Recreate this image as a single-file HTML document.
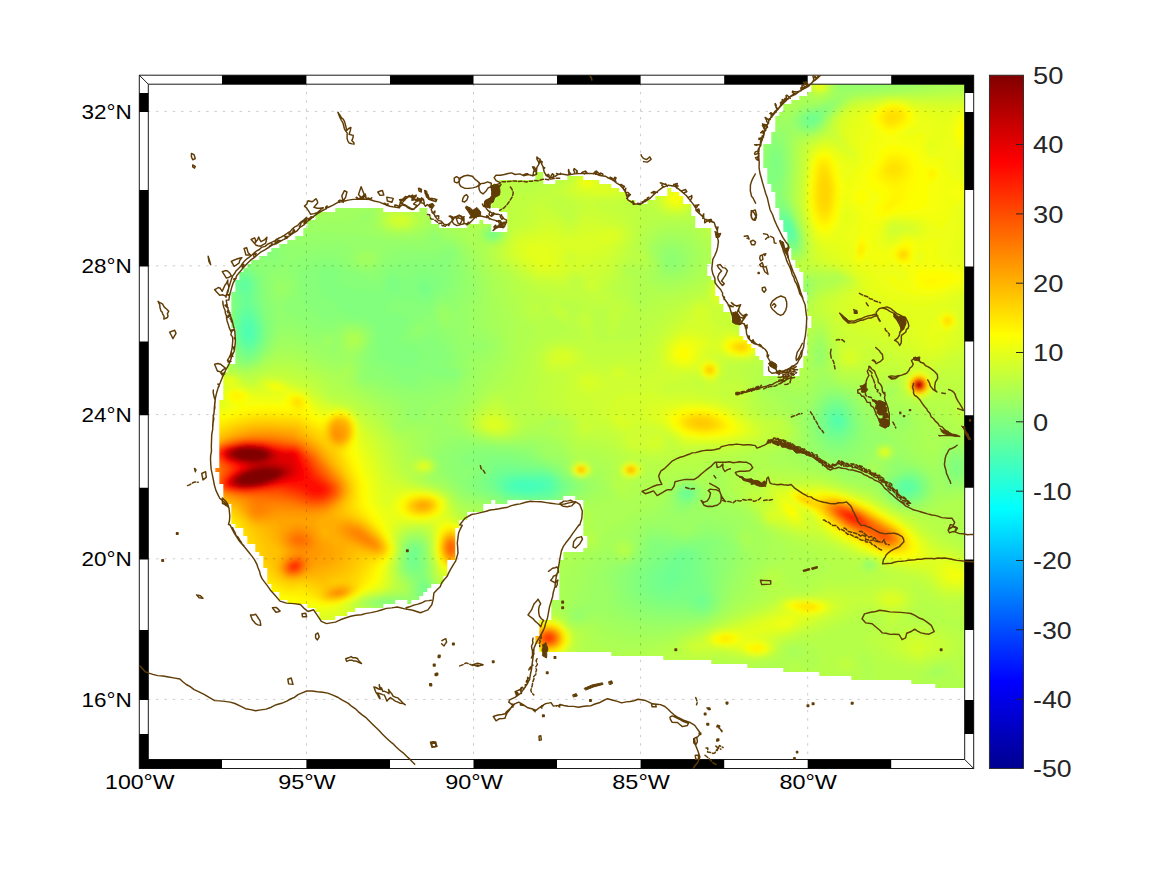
<!DOCTYPE html>
<html><head><meta charset="utf-8"><title>map</title>
<style>html,body{margin:0;padding:0;background:#fff}svg{display:block}text{font-family:"Liberation Sans",sans-serif}</style>
</head><body>
<svg width="1167" height="875" viewBox="0 0 1167 875">
<rect width="1167" height="875" fill="#fff"/>
<defs><clipPath id="msk"><path d="M811.3 80.0h160v4.05h-160zM811.3 84.0h160v4.05h-160zM811.3 88.0h160v4.05h-160zM807.3 92.0h164v4.05h-164zM799.3 96.0h172v4.05h-172zM791.3 100.0h180v4.05h-180zM783.3 104.0h188v4.05h-188zM783.3 108.0h188v4.05h-188zM779.3 112.0h192v4.05h-192zM775.3 116.0h196v4.05h-196zM775.3 120.0h196v4.05h-196zM775.3 124.0h196v4.05h-196zM775.3 128.0h196v4.05h-196zM771.3 132.0h200v4.05h-200zM771.3 136.0h200v4.05h-200zM771.3 140.0h200v4.05h-200zM763.3 144.0h208v4.05h-208zM763.3 148.0h208v4.05h-208zM763.3 152.0h208v4.05h-208zM763.3 156.0h208v4.05h-208zM763.3 160.0h208v4.05h-208zM763.3 164.0h208v4.05h-208zM767.3 168.0h204v4.05h-204zM535.3 172.0h8v4.05h-8zM767.3 172.0h204v4.05h-204zM535.3 176.0h8v4.05h-8zM567.3 176.0h16v4.05h-16zM767.3 176.0h204v4.05h-204zM499.3 180.0h44v4.05h-44zM555.3 180.0h44v4.05h-44zM767.3 180.0h204v4.05h-204zM491.3 184.0h120v4.05h-120zM771.3 184.0h200v4.05h-200zM491.3 188.0h128v4.05h-128zM667.3 188.0h4v4.05h-4zM771.3 188.0h200v4.05h-200zM491.3 192.0h136v4.05h-136zM667.3 192.0h12v4.05h-12zM775.3 192.0h196v4.05h-196zM491.3 196.0h136v4.05h-136zM655.3 196.0h28v4.05h-28zM775.3 196.0h196v4.05h-196zM491.3 200.0h144v4.05h-144zM647.3 200.0h36v4.05h-36zM775.3 200.0h196v4.05h-196zM491.3 204.0h200v4.05h-200zM775.3 204.0h196v4.05h-196zM335.3 208.0h48v4.05h-48zM419.3 208.0h8v4.05h-8zM499.3 208.0h192v4.05h-192zM779.3 208.0h192v4.05h-192zM315.3 212.0h112v4.05h-112zM507.3 212.0h184v4.05h-184zM779.3 212.0h192v4.05h-192zM315.3 216.0h116v4.05h-116zM507.3 216.0h188v4.05h-188zM779.3 216.0h192v4.05h-192zM307.3 220.0h124v4.05h-124zM479.3 220.0h4v4.05h-4zM507.3 220.0h188v4.05h-188zM783.3 220.0h188v4.05h-188zM307.3 224.0h132v4.05h-132zM467.3 224.0h24v4.05h-24zM507.3 224.0h188v4.05h-188zM783.3 224.0h188v4.05h-188zM303.3 228.0h188v4.05h-188zM507.3 228.0h204v4.05h-204zM783.3 228.0h188v4.05h-188zM303.3 232.0h408v4.05h-408zM787.3 232.0h184v4.05h-184zM295.3 236.0h416v4.05h-416zM787.3 236.0h184v4.05h-184zM287.3 240.0h424v4.05h-424zM787.3 240.0h184v4.05h-184zM279.3 244.0h432v4.05h-432zM787.3 244.0h184v4.05h-184zM271.3 248.0h440v4.05h-440zM791.3 248.0h180v4.05h-180zM267.3 252.0h444v4.05h-444zM791.3 252.0h180v4.05h-180zM259.3 256.0h452v4.05h-452zM791.3 256.0h180v4.05h-180zM251.3 260.0h460v4.05h-460zM795.3 260.0h176v4.05h-176zM247.3 264.0h460v4.05h-460zM795.3 264.0h176v4.05h-176zM243.3 268.0h464v4.05h-464zM799.3 268.0h172v4.05h-172zM239.3 272.0h468v4.05h-468zM803.3 272.0h168v4.05h-168zM239.3 276.0h472v4.05h-472zM803.3 276.0h168v4.05h-168zM235.3 280.0h480v4.05h-480zM803.3 280.0h168v4.05h-168zM235.3 284.0h480v4.05h-480zM803.3 284.0h168v4.05h-168zM235.3 288.0h480v4.05h-480zM803.3 288.0h168v4.05h-168zM231.3 292.0h484v4.05h-484zM807.3 292.0h164v4.05h-164zM231.3 296.0h488v4.05h-488zM807.3 296.0h164v4.05h-164zM231.3 300.0h488v4.05h-488zM807.3 300.0h164v4.05h-164zM231.3 304.0h492v4.05h-492zM807.3 304.0h164v4.05h-164zM231.3 308.0h492v4.05h-492zM807.3 308.0h164v4.05h-164zM231.3 312.0h500v4.05h-500zM807.3 312.0h164v4.05h-164zM231.3 316.0h500v4.05h-500zM811.3 316.0h160v4.05h-160zM231.3 320.0h508v4.05h-508zM811.3 320.0h160v4.05h-160zM231.3 324.0h508v4.05h-508zM811.3 324.0h160v4.05h-160zM235.3 328.0h504v4.05h-504zM807.3 328.0h164v4.05h-164zM235.3 332.0h504v4.05h-504zM807.3 332.0h164v4.05h-164zM235.3 336.0h508v4.05h-508zM807.3 336.0h164v4.05h-164zM235.3 340.0h512v4.05h-512zM807.3 340.0h164v4.05h-164zM235.3 344.0h516v4.05h-516zM807.3 344.0h164v4.05h-164zM235.3 348.0h520v4.05h-520zM807.3 348.0h164v4.05h-164zM235.3 352.0h520v4.05h-520zM807.3 352.0h164v4.05h-164zM235.3 356.0h524v4.05h-524zM803.3 356.0h168v4.05h-168zM235.3 360.0h528v4.05h-528zM803.3 360.0h168v4.05h-168zM227.3 364.0h536v4.05h-536zM803.3 364.0h168v4.05h-168zM227.3 368.0h536v4.05h-536zM799.3 368.0h172v4.05h-172zM223.3 372.0h540v4.05h-540zM799.3 372.0h172v4.05h-172zM223.3 376.0h748v4.05h-748zM223.3 380.0h748v4.05h-748zM223.3 384.0h748v4.05h-748zM223.3 388.0h748v4.05h-748zM223.3 392.0h748v4.05h-748zM223.3 396.0h748v4.05h-748zM219.3 400.0h752v4.05h-752zM219.3 404.0h752v4.05h-752zM219.3 408.0h752v4.05h-752zM219.3 412.0h752v4.05h-752zM219.3 416.0h752v4.05h-752zM219.3 420.0h752v4.05h-752zM219.3 424.0h752v4.05h-752zM219.3 428.0h752v4.05h-752zM219.3 432.0h752v4.05h-752zM219.3 436.0h752v4.05h-752zM219.3 440.0h752v4.05h-752zM219.3 444.0h752v4.05h-752zM219.3 448.0h752v4.05h-752zM219.3 452.0h752v4.05h-752zM219.3 456.0h752v4.05h-752zM219.3 460.0h752v4.05h-752zM219.3 464.0h752v4.05h-752zM215.3 468.0h756v4.05h-756zM219.3 472.0h752v4.05h-752zM219.3 476.0h752v4.05h-752zM219.3 480.0h752v4.05h-752zM223.3 484.0h748v4.05h-748zM223.3 488.0h748v4.05h-748zM223.3 492.0h748v4.05h-748zM223.3 496.0h340v4.05h-340zM575.3 496.0h396v4.05h-396zM223.3 500.0h268v4.05h-268zM495.3 500.0h12v4.05h-12zM583.3 500.0h388v4.05h-388zM231.3 504.0h252v4.05h-252zM583.3 504.0h388v4.05h-388zM231.3 508.0h252v4.05h-252zM583.3 508.0h388v4.05h-388zM231.3 512.0h236v4.05h-236zM583.3 512.0h388v4.05h-388zM231.3 516.0h236v4.05h-236zM583.3 516.0h388v4.05h-388zM231.3 520.0h228v4.05h-228zM583.3 520.0h388v4.05h-388zM235.3 524.0h224v4.05h-224zM583.3 524.0h388v4.05h-388zM243.3 528.0h212v4.05h-212zM583.3 528.0h388v4.05h-388zM243.3 532.0h212v4.05h-212zM583.3 532.0h388v4.05h-388zM247.3 536.0h208v4.05h-208zM587.3 536.0h384v4.05h-384zM247.3 540.0h208v4.05h-208zM587.3 540.0h384v4.05h-384zM255.3 544.0h200v4.05h-200zM587.3 544.0h384v4.05h-384zM255.3 548.0h200v4.05h-200zM583.3 548.0h388v4.05h-388zM259.3 552.0h196v4.05h-196zM563.3 552.0h408v4.05h-408zM263.3 556.0h192v4.05h-192zM563.3 556.0h408v4.05h-408zM263.3 560.0h184v4.05h-184zM559.3 560.0h412v4.05h-412zM263.3 564.0h184v4.05h-184zM559.3 564.0h412v4.05h-412zM267.3 568.0h180v4.05h-180zM559.3 568.0h412v4.05h-412zM267.3 572.0h180v4.05h-180zM559.3 572.0h412v4.05h-412zM267.3 576.0h176v4.05h-176zM559.3 576.0h412v4.05h-412zM267.3 580.0h176v4.05h-176zM559.3 580.0h412v4.05h-412zM271.3 584.0h160v4.05h-160zM559.3 584.0h412v4.05h-412zM271.3 588.0h156v4.05h-156zM559.3 588.0h412v4.05h-412zM279.3 592.0h144v4.05h-144zM559.3 592.0h412v4.05h-412zM279.3 596.0h140v4.05h-140zM559.3 596.0h412v4.05h-412zM287.3 600.0h108v4.05h-108zM407.3 600.0h4v4.05h-4zM551.3 600.0h420v4.05h-420zM307.3 604.0h76v4.05h-76zM551.3 604.0h420v4.05h-420zM315.3 608.0h40v4.05h-40zM551.3 608.0h420v4.05h-420zM319.3 612.0h28v4.05h-28zM551.3 612.0h420v4.05h-420zM319.3 616.0h16v4.05h-16zM551.3 616.0h420v4.05h-420zM539.3 620.0h432v4.05h-432zM539.3 624.0h432v4.05h-432zM539.3 628.0h432v4.05h-432zM539.3 632.0h432v4.05h-432zM535.3 636.0h436v4.05h-436zM535.3 640.0h436v4.05h-436zM539.3 644.0h432v4.05h-432zM539.3 648.0h432v4.05h-432zM611.3 652.0h360v4.05h-360zM663.3 656.0h308v4.05h-308zM711.3 660.0h260v4.05h-260zM747.3 664.0h224v4.05h-224zM783.3 668.0h188v4.05h-188zM819.3 672.0h152v4.05h-152zM851.3 676.0h120v4.05h-120zM911.3 680.0h60v4.05h-60zM935.3 684.0h36v4.05h-36z"/></clipPath><filter id="bl" filterUnits="userSpaceOnUse" x="100" y="40" width="920" height="700"><feGaussianBlur stdDeviation="2"/></filter></defs>
<g clip-path="url(#msk)"><g filter="url(#bl)" fill-rule="evenodd">
<rect x="100" y="40" width="920" height="700" fill="#45ffba"/>
<path fill="#4affb5" d="M985 705l-855 0 0-639 855 0zM535 489l3.3-3 -6.2-3 -11.3 0 -4.8 3 3.2 3 3.8 0.7z"/>
<path fill="#4fffb0" d="M985 705l-855 0 0-639 855 0zM541.5 489l2.9-3 -0.9-3 -11.5-1.9 -15 0.6 -3.7 1.3 -2 3 2.7 3.3 9 2.3 9-0.1z"/>
<path fill="#54ffab" d="M985 705l-855 0 0-639 855 0zM251.6 336l-0.2-9 -1.4-2.6 -3-0.9 -2.5 3.5 -0.5 6.2 3 5.2 3-0.2zM538.6 492l8.4-3.6 1.4-2.4 -1.4-4.8 -3-1.4 -24-0.5 -9 2.4 -3.1 4.3 1.8 3 7.3 3.2z"/>
<path fill="#59ffa6" d="M985 705l-855 0 0-639 855 0zM790.6 234l-0.4-6 -3.2-3.2 -0.2 6.2zM252.9 339l1.7-6 -0.7-6 -3.9-6.9 -3-0.9 -3 2.5 -1.7 5.3 0.5 9 4.2 5.7 3-0.1zM841.4 423l0.2-3 -2.3-3 -4.3-0.5 -1 3.5 1.7 3 2.3 1.3zM545.9 492l4.2-3 1.1-6 -1.8-3 -5.4-2.2 -27 0.2 -7.8 2 -3.5 3 1 6 7.3 3.8 15 1.5z"/>
<path fill="#5effa1" d="M985 705l-855 0 0-639 855 0zM790.9 237l2-3 -0.5-3 -2.4-6.1 -3-2.9 -2.6 3 0.3 3 2.3 6.2zM253.1 342l2.9-6 -0.2-9 -2.8-7.1 -6-4.5 -3 1.8 -3 6.8 0 12 2.9 6 3.1 2.2zM841.2 426l2.1-3 -1.6-6 -3.7-3 -3-0.1 -2.9 3.1 0.8 6 3.5 3zM535.3 495l15.2-3 3.4-6 -2.1-6 -7.8-3.8 -24 0 -12 2.2 -5.2 4.6 1.4 6 6.8 4.3 12 2zM910.5 489l-0.5-3.5 -5.5 0.5 0.4 3z"/>
<path fill="#63ff9c" d="M985 705l-855 0 0-639 855 0zM793.6 237l-0.2-6 -3.4-7.9 -3-3 -3 0.3 -0.4 7.6 3.4 8 3 3 3-0.3zM246.9 288l0.1-5.6 -4.5-0.4 -1.5 3 1.8 3zM252.6 345l4.9-9 -0.1-9 -4.4-10.8 -6-4.6 -3 1.5 -3 5.2 -1.9 8.7 0.5 9 4.4 8.7 3 1.8zM843.9 426l0.8-6 -3.7-6.2 -6-2.1 -3 1.7 -2.1 6.6 2.4 6 5.7 2.8zM549.3 495l3.9-3 2.9-6 -2.3-6 -6.8-4.7 -36 0.3 -9 3.9 -1.9 3.5 1.8 6 3 3 7.7 3 13.4 1.4zM910.9 492l2.9-3 -0.8-4.4 -3-2.2 -6.4 0.6 -2.5 3 0.3 3 3.1 3z"/>
<path fill="#69ff96" d="M985 705l-855 0 0-639 855 0zM793.8 240l0.9-6 -1.7-7 -6-8.7 -3-0.7 -1.9 4.4 1.9 10.2 6 8.4zM248.2 291l1.8-3 -0.2-6 -3.1-3 -5.7 0.8 -2.3 5.2 2.3 5.6 3 2.3zM251.4 348l5.5-6 2.4-12 -3.3-12.2 -6-8.9 -3-1.6 -3 1.4 -3.6 6.3 -2.3 9 -0.3 9 2.5 9 3.7 5 3 1.8zM843.3 429l3.1-6 -2.4-7.9 -6-5.2 -6 0.9 -3.7 6.2 1.2 9 5.5 4.9zM552.6 495l4.9-6 -0.1-6 -4.7-6 -5.7-3 -39 0.4 -6.8 2.6 -3.8 6 5.1 9 8.5 3.8 18 1.6 21-1zM914.2 492l2-6 -3.2-4.1 -6-1.6 -6.5 2.7 -1.6 3 2.2 6 5.9 2.4z"/>
<path fill="#6eff91" d="M985 705l-855 0 0-639 855 0zM795.2 240l0.4-6 -2.6-8.8 -6-8.5 -3-1.3 -2.9 3.6 -0.2 3 3 12 6.1 8 3 0.8zM247.4 351l5.6-1.7 3.8-4.3 2.9-6 1-9 -4.1-15 -9.2-15 4.7-12 -0.3-6 -1.8-3.1 -6-2.3 -4.9 2.4 -1.8 3 0.7 7.4 7.5 10.6 -6.9 15 -2.1 15 4 15zM842.5 432l5-6 -0.9-9 -5.6-7.8 -3-1.5 -6 0.7 -3 2.6 -2.5 6 0.7 9 4.3 6 3.5 1.6zM535.5 498l14.5-0.1 7.6-5.9 2.8-6 -5.9-9 -10.5-4.7 -30-0.6 -12 2.2 -7.1 6.1 -0.3 3 2.9 6 7.2 6 12.3 2.8zM912.4 495l5.5-6 -1.9-6.8 -3-2.3 -6-0.9 -8.9 4 -0.9 6 3.8 4.8 6 2zM689.1 495l-0.7-3 -3.4 0.4 0 3.2z"/>
<path fill="#73ff8c" d="M985 705l-855 0 0-639 855 0zM811.1 123l4.2-3 -0.3-3 -4-0.1 -3 2.9zM794.8 243l1.7-6 -1.8-9 -4.7-9.5 -6-5.1 -3 1.4 -1 4.2 2 12 8 12.3 3 1zM253.6 351l7.5-12 0.8-12 -9.9-27 1.7-18 -3.7-5.4 -6-1.8 -6 3 -2.4 4.2 0.2 6 4.6 12 -4.5 21 -0.4 12 2.5 10 6 8.7 6 1.6zM841.8 435l6.4-6 1.2-6 -1.2-6 -7.2-10.2 -9-0.7 -6.5 7.9 -0.4 12 3.1 6 3.8 3.2 6 1.2zM552.9 498l6.9-6 2.8-6 -6.3-9 -9.3-5.4 -39-1.8 -11.9 4.2 -4.6 6 1.3 6 5 6 10.2 5.3 18 2zM915.5 495l4.1-6 -1-6 -2.7-3 -8.9-2.3 -7.7 2.3 -3.1 3 -0.7 6 4.8 6 6.7 2.1zM691.2 495l-0.4-3 -2.8-1.5 -4.8 1.5 -0.8 3 2.6 2.6 3 0.1zM415 555l-3-0.1 0 1.2zM675.2 585l5.8-6 1-21.2 -3 0.1 -6 4.9 -10.7 16.2 1.7 5.4 3 1.9z"/>
<path fill="#78ff87" d="M985 705l-855 0 0-639 855 0zM815.1 123l2.4-3 -0.5-4.5 -6-0.2 -5.4 4.7 2.4 4.1zM796.4 243l0.5-9 -3.9-11.9 -6-8.5 -3-2.1 -3 0.2 -1.9 10.3 4.8 15 6.1 7.6 3 1.2zM252.7 354l8.8-12 1.9-15 -8.6-27 0.7-18 -5.5-7.6 -6-1.4 -6 2.6 -4 6.4 0.2 6 3.7 12 -3.4 21 -0.2 12 2 9 4.7 8.9 6 4.9zM841.2 438l5.8-4 3.3-5 -0.4-12 -2.9-6.5 -5.3-5.5 -3.7-1.5 -6 0.4 -7.2 7.1 -1.9 6 0.2 9 5.9 10 6 2.9zM554.9 498l7.3-6 2.8-6 -6.9-9 -11.1-6.6 -42-3.3 -12 5.4 -4.8 7.5 -0.4 3 4.2 6 7.1 6 7 3 19.9 2.2 24-0.2zM911.3 498l4.7-1.8 4.2-4.2 1-6 -2.2-4.9 -9-4.8 -13.2 3.7 -3.2 6 1.6 6 5.8 4.8zM690.1 498l2.4-3 -1.5-4.3 -6-1.2 -3.4 2.5 -0.6 3 1.9 3zM416.3 564l1.7-12 -3-3 -4.5 3 -1.5 6 3 7.6 3 0.4zM671.3 594l7.7-3.3 12.7-11.7 1.2-21 -4-6 -6.9-0.4 -6 2.8 -18 15.6 -3.8 6 -0.9 6 2.3 6 8.4 5.6zM425.5 591l0.2-3 -1.7-1.3 -1 4.3zM703.7 606l2.8-3 -0.5-4.6 -3-3.3 -6-0.3 -1.8 2.2 0.8 6 4 3.2z"/>
<path fill="#7dff82" d="M985 705l-855 0 0-639 855 0zM811.7 126l5.4-3 2.9-6 -0.9-3 -8.1-0.2 -5.8 3.2 -1 6 3.8 2.9zM795.8 246l2.1-9 -3-12 -7.9-12.9 -6-3.2 -3.2 7.1 2.6 15 3.6 7.5 6 7.3 3 1.3zM496.4 234l-3.4-2.1 -2.8 2.1 2.8 2.1zM251.2 357l4.8-3.9 6-8.9 2.6-8.2 0.4-9 -7.7-27 0.5-15 -1.4-6 -6.4-6.8 -6-1.1 -8.6 4.9 -2.9 6 3.4 18 -2.8 33 1.9 9 6 11.6 6 4.4zM428.1 294l0.8-6 -1.9-3.8 -3-1.9 -3.5 2.7 0.7 6 2.8 3.7zM840.3 441l9.7-7.2 2.4-4.8 0.5-6 -2.3-9 -3.6-6.5 -6-5.1 -6-1.2 -6 2 -4.5 4.8 -3.3 9 0 9 1.9 6 5.9 7 6 2.6zM550.3 501l14.5-9 2.8-6 -7.5-9 -13.1-7.9 -42-6 -12 4.6 -8.3 12.3 -0.1 6 2.4 2.3 18 10.6 18 2.3zM915.4 498l4.4-3 3-6 -0.8-6 -3-4.1 -6-3.4 -6-0.5 -12.4 5 -2.7 6 4.2 9 7.9 4.1zM692 498l1.5-6 -2.5-2.7 -6-0.8 -4.6 3.5 -0.6 3 2.2 4 6 1.2zM419.2 567l-0.3-18 -3.9-2.1 -3 0.7 -3.5 4.4 -0.5 12 1.5 3 5.5 2.9zM703.5 609l4.6-3 1.6-6 -2.5-6 -7.1-9 -1.5-24 -4.6-10 -9-2.6 -9 2.2 -18 11.8 -7.6 7.6 -4.2 12 1.5 6 4.8 6 5.5 3.3 9 2.1 18-2.3 12 10.9zM425.6 594l2.5-3 0-3 -4.1-4.3 -3 1.5 -0.7 5.8 2.3 3z"/>
<path fill="#82ff7d" d="M985 705l-855 0 0-639 855 0zM815 126l6.3-9 0.6-3 -1.9-1.7 -9 0.3 -7.6 4.4 -1.2 6 2.6 3 6.2 1.3zM775.9 171l2.1-7.7 -3-4.6 -1.3 9.3 1.3 4.3zM770.2 183l2.7-3 -3.9-2.9 -3 2.9zM797.1 246l1.5-9 -3-12 -5.6-10.7 -9-8.2 -3 1.9 -1.2 5 2.9 18 4.3 8.9 6 7.1 3 1.4zM494.9 237l2.6-3 -1.5-2.6 -3-0.8 -3 1.6 -1.1 1.8 1.1 2zM254.1 357l10.4-15 2.2-9 -0.1-9 -6.7-24 -1.4-21 -5.5-7.4 -9-2.6 -9 5.1 -4.1 7.9 3 18 -2 33 3 12 6.6 12 5.5 3zM398.9 291l1-3 -1.6-6 -4.3-3.9 -3 0 -3.2 6.9 1.2 6 5 2.9zM430 297l2-6 -0.4-6 -4.6-5.8 -6-1.3 -4 7.1 2.5 9 4.5 4.5 3 0.6zM412.6 360l-0.6-3.6 -3-0.8 -1.6 1.4 1.6 3.2zM839.7 444l7.3-3.8 5-5.2 2.6-6 0.3-6 -2.4-9 -5.2-9 -6.3-4.6 -6-1.2 -7.7 2.8 -5 6 -2.9 9 -0.2 9 1.6 6 5.2 7.5 6 4zM553.8 501l13.7-9 2.9-6 -4.4-6 -10-7.9 -12-5.1 -33-7.5 -15 0.5 -6 3 -10.4 20 0 3 2.4 3 23 11.2 18 2zM958 471l0-5.9 -3-0.9 -0.5 6.8zM918.1 498l3.9-3.5 2.3-5.5 -0.7-6 -4.6-6.1 -6-2.9 -6-0.3 -14.6 6.3 -1.7 3 0 6 7.3 9 9 2.6zM689 501l4.5-3 1.2-6 -2.4-3 -4.3-1.6 -6 1.4 -2.8 3.2 0.3 6 3.6 3zM420.7 570l1.2-3 -1.6-9 0.7-9 -3-3.2 -6-0.2 -4.7 6.4 -1.1 12 2.8 5.5 3 2 6 1zM708.2 609l3.8-6 -0.3-6 -5.3-12 -2.3-24 -7.1-12.7 -12-2.2 -13.3 2.9 -16.7 9.1 -11.3 11.9 -3.7 9 0.7 9 3.5 6 7.8 6 12 3.7 21 0.2 15 7.4zM428.2 594l1.4-3 -1.5-6 -4.1-3.6 -3 0.2 -2.3 6.4 1.1 6 4.2 2.4z"/>
<path fill="#87ff78" d="M985 705l-855 0 0-639 855 0zM817 126l5.6-9 1.2-6 -12.8 0.5 -9.4 5.5 -1.2 6 4.6 4.5 6 0.9zM775.5 186l5.1-12 1.2-9 -2.1-12 -1.7-3.1 -3-1 -3.7 4.1 -2.4 18 -4.3 6 -0.2 3 4.6 5.5 3 1.4zM796.1 249l3.3-9 -3.1-15 -9.3-16.3 -6-5.8 -3-0.2 -2.5 10.3 3.4 18 8.1 14.3 6 4.4zM496.9 237l1.7-3 -2.6-3.6 -6 0.3 -2.2 3.3 2.2 3.5zM252.3 360l6.7-6 5.8-9 3.1-9 0.7-12 -6.4-27 -1.2-18 -5-8.1 -9-4.9 -9 3.3 -8.2 9.7 -0.7 6 3 18 -1.8 27 2.2 12 6.9 15 4.6 4.1zM416.4 366l4.2-6 1.1-9 -3.7-2.9 -15-4.3 -5.2-4.8 0.3-3 8.3-12 1.4-6 -7.8-4.5 -12-0.8 -1.8-3.7 0.6-3 4.2-5.3 6-1.6 18 2 9 2.7 6-1.5 11.6-17.3 0.4-3 -3-6.2 -6-4.3 -12-1.4 -15 9 -9-5.2 -6-1.3 -4 3.4 -5 12.7 -3 1.9 -6 0 -30-3.3 -5.2-14.3 -3.8-4.6 -6-2.6 -6 1.8 -4.5 8.4 3 18 10.5 7.2 6.6 7.8 10.3 6 7.1 2.9 9-1.4 9 6.2 5.4 10.3 -0.5 18 2 6 8.1 6 12 4.1 9 1zM840.5 447l6.5-3.2 6-5.9 3.2-5.9 0.8-9 -3.8-12 -6.2-8.8 -6-3.9 -9-0.8 -6 2.9 -5.7 7.6 -2.8 9 0.1 12 2 6 6.4 7.9 6 3.7zM556 501l14.5-9 3-6 -4.7-6 -15.8-11.3 -42-13 -21-0.5 -4.3 0.8 -3.4 3 -0.2 12 -8.1 12 2.2 6 4.7 3 18.1 7.6 12 2.8 39 0.6zM959.6 474l1.5-3 -0.1-6.1 -3-5.1 -3-0.5 -3.9 5.7 0.9 9 3 2.5zM914 501l6.5-3 4.6-6 0.2-9 -4-6 -8.3-4.6 -6-0.5 -16.7 8.1 -1.2 9 5.9 8.3 9 4zM691.8 501l4.3-6 -2.3-6 -5.8-2.4 -7.8 2.4 -2.8 6 1.6 4.7 6 3.3zM706.8 612l6.2-6 1.4-6 -3.8-18 0.4-18 -5.9-15 1.2-6 -39.3 2.7 -15-2.9 -1.8 12.2 -10.6 12 -5.2 9 -1.1 9 3.7 9.5 9 7.9 12 4.5 24 0.7 18 5.7zM426.9 597l3.1-3.3 0.8-5.7 -3.8-6.5 -5.7-5.5 2.6-9 -2.2-9 0.8-9 -4.5-5 -6-0.1 -3.3 2.1 -2.7 5.9 -0.5 15.1 3.5 4.8 7.7 4.2 2 3 -0.7 15.1 3 3.4z"/>
<path fill="#8cff73" d="M985 705l-855 0 0-639 855 0zM813 129l7.8-6 6.3-12 -1.1-2.5 -18 2.7 -8.2 5.8 -1.2 6 1.6 3 5.1 3zM797.7 249l2.4-9 -3.2-15 -6.9-13.7 -11.2-16.3 4.9-24 0.3-12 -3-11.9 -3-3.8 -3-0.6 -3 1.8 -3.2 5.5 -2.8 21 -3 5 -0.1 4 11.5 15 0.1 21 6.3 21 9.2 12.5 3 1.4zM498.1 237l1.4-3 -3.5-4.4 -6 0.2 -3.3 4.2 3.3 4.4 3 0.6zM274.7 258l2.5-3 -1.1-6 -5.1-2.6 -5.6 2.6 -1.4 3 1 4.3 3 2.4zM247.4 363l8.6-4 8.9-11 5-12 1.2-12 -7.8-48 -4.3-7 -9.8-8 -2.2-8.4 -3-1.4 -2.9 3.8 1.7 6 -11.9 12 -3.2 6 -0.4 6 2.6 15 -1.2 24 1.6 15 7.7 19 3 3.4zM416.1 384l4.9-7.4 6-3.1 18 3.7 9-0.4 3.5-1.8 -0.5-3.7 -14.3-5.3 1-6 4.3-3 1-3 -16-17.5 -3-0.4 -15 5.1 -6-1.8 -2.2-3.4 5.5-12 16.9-12 9.2-15 9.3-6 1.9-3 1.4-9 -3.4-15 4.1-9 -0.7-3.5 -3-0.8 -2.6 1.3 -6.4 7.2 -21 0.9 -27 6.5 -6 4.1 -6 10.4 -3 0.7 -27-9.7 -12-9.4 -6-2.5 -9 0.4 -18 9.4 -2.2 6 1.7 21 1.8 6 4.9 6 15.3 12 20.5-2.1 21 4.4 5.8 6.7 1.8 6 -4.3 21 2.7 6.4 33 21.2 6 1.1zM842.7 450l7.3-4.2 6.6-7.8 2.9-9 -0.3-6 -3.8-12 -6-9 -8.4-5.7 -9-0.9 -7.7 3.6 -6.2 9 -3 12 0.6 12 4.9 9 8.4 7.7 6 2zM536.8 504l13.2-0.1 6-1.7 17.8-10.2 2.6-3 -1-6 -22.4-16.2 -36-13.6 -39-1.9 -8.4 1.7 -7 6 0.4 7 3 1.5 6-1.5 3.7 2 -0.7 4.8 -8.7 4.2 -0.7 3 1.8 6 7.3 6 30.3 10.7zM960.2 477l3-6 -0.2-6 -2.2-6 -2.8-2.7 -3-0.3 -5.3 6 0 12 2.3 4.4 3 1.2zM917.8 501l7.2-5.7 2.5-6.3 -1.8-9 -5.6-6 -7.1-3.3 -9-0.1 -16 9.4 -0.6 9 7.6 9.8 12 4zM688 504l8.3-6 0.7-6 -6-5.7 -6-0.5 -6.2 3.2 -1.9 3 -0.2 6 5.3 5.9zM702.8 615l9.2-4.6 4.2-7.4 -1.1-18 2-21 -4-15 2.4-6 -1.3-3 -8.2-1.2 -24 3.4 -27-3.6 -5.7 1.4 -4.9 15 -13.2 15 -3.4 6 -0.9 12 4.1 9 9 7.8 12 5.1 12 2 18-0.5zM428.9 597l2.2-3 0.7-6 -7.2-12 0.9-9 -2.5-9 0.9-9 -4.6-6 -7.3-0.7 -3 1.6 -3.3 5.1 -1.6 18 1.9 3.9 9.1 8.1 2.2 18 6.7 2.3zM394.7 603l-3.7-1.6 -8.5 1.6z"/>
<path fill="#91ff6e" d="M985 705l-855 0 0-639 855 0zM815.6 129l4.4-3.3 11.3-17.7 -2.3-2.3 -21 4.3 -6 2.9 -4 4.1 -1.4 6 5.1 6 6.3 1.5zM795.2 252l3.8-2.7 1.2-3.3 -0.1-12 -4.1-12.8 -13.6-26.2 3.6-27 -0.3-12 -4.7-15.6 -3-2.6 -3-0.3 -6 5.2 -2.9 7.3 -4.4 30 8.6 15 3.6 24 6.1 18 10 13.8zM499.2 237l1.2-3 -1-3 -3.4-2.2 -6 0.1 -4.4 5.1 1 3 3.4 2.3 6-0.2zM252.2 363l7.8-6 6.8-9 5.3-12 2.6-12 1.2-15 -6.6-15 -0.2-21 1.9-4.1 13-4.9 1-3 -2.8-12 -8.2-6.3 -9 1.3 -9 7.9 -9-4.4 -6 0.6 -3.1 3.9 -1.8 12 -8.7 9 -2.1 6 2.5 24 -0.7 24 2.6 15 8.3 18.9 6 3.4zM415.1 390l21.8-9 17.1-0.9 7-5.1 0.8-3 -10.6-6 -0.4-3 4.3-6 -0.2-3 -17.3-27 -3.3-9 1-9 2.9-6 3.8-2.9 9-1.6 6.3-10.5 1.1-12 -2.5-12 -0.1-12 -1.8-3.5 -6-2.3 -12 5.3 -27 1.3 -15 3.5 -15 13.4 -6 2.8 -9-0.6 -9-2.7 -7.4-5.2 -7.6-8.2 -9-2.7 -9 0.2 -21 4.6 -11.6 6.1 -1.3 3 6.9 12.5 1.8 8.5 -3 9 -9.3 9 0.6 3 33.9 21 15-1.6 5.9-4.4 6.1-1.7 18 2.9 5.3 4.8 2.2 6 -0.4 6 -6.1 15 3.4 15 -2.4 6 10-1.9 27 11.9zM673.5 264l2.1-3 -0.6-3 -5-1.4 -1.6 4.4 1.6 3.2zM415 336.1l-2.5-3.1 2.5-6 6-3.5 3.7 0.5 1.5 3 -2.2 4.7 -6 4.3zM847.1 453l7.8-6 5.9-9 1.8-9 -1.4-9 -5-12 -7.1-9 -8.1-4.8 -12-0.6 -7.9 5.4 -5.3 9 -3.4 15 1.4 12 7.8 12 7.4 5.7 9 2.2zM554.5 504l23.2-12 2.8-6 -1.5-3 -23-16.9 -18-7 -9-6.2 -12-3 -48-3.1 -11.5 3.2 -5.5 6 -0.6 9 6.5 15 6.2 9 7.9 4.7 36 10.8 21 1.1zM960.1 480l4.3-6 0.4-9 -3.8-9.6 -6-2.2 -4.3 2.8 -3.1 6 0 12 4.4 7.8zM920.9 501l6.2-6 2.3-9 -3.7-9 -6.7-5.7 -9-3.2 -9 0.2 -15.3 11.7 -0.8 6 2 6 8.1 8.1 12 3.8zM691.9 504l5.9-6 0.5-6 -1.7-3 -8.6-4.2 -9 2.8 -4 7.4 3.2 9 6.8 2.4zM708.3 615l7.2-6 2.9-6 1.5-21 4.7-24 3.2-6 -0.1-3 -6.1-9 -4.7-3 -7.9-1.8 -24 4.9 -21-4 -15-0.3 -4.9 7.2 -5.6 15 -14.2 12 -3.6 6 -0.7 9 5.1 15 11.9 9.2 18 5.8 30 0 15 2zM426.3 600l4.3-3 2.4-6 -1.1-6 -5.3-9 0.2-12 -2.5-6 -0.1-12 -6.2-5.2 -6 0 -6.3 5.2 -2.9 21 3.1 6 8.3 9 0.8 15 3 3.3zM400.8 603l-2.3-3 -7.5-0.7 -7.6 0.7 -6.1 3 10.7 2.4z"/>
<path fill="#96ff69" d="M985 705l-855 0 0-639 855 0zM817.6 129l17.4-25.1 -3-1.1 -27 6.9 -6.5 4.3 -3.8 6 0.5 6 6.8 4.6 9 0.8zM798 252l3.5-9 -1.5-12 -15.3-36 3-27 -0.9-18 -5-15 -3.8-2.4 -3 0.3 -6 4.6 -4.6 9.5 -3.8 33 8 18 5 24 5.5 15 10.9 15.1 3 1.4zM495.7 240l4.4-3 1.1-3 -2.2-4.4 -6-2.1 -7.4 3.5 -1 3 2.4 4.7 3 1.5zM423.6 396l9.4-3 12-7.3 9 2.5 3-1 2-6.2 6.3-9 -5.6-6 -0.7-3 1.9-6 -5.3-24 -1.6-3 -9-1.2 -3-2.4 -3.4-5.4 -1.3-6 0.9-6 3.8-4.6 6 1.2 6 5.2 3-1.8 7.7-21 -0.1-15 -5.5-21 -5.1-7.2 -13.3-1.8 -3.7-9 -4-1.1 -2.4 4.1 0.2 6 -3.8 2.4 -21 0.4 -21 2.6 -5.7 15.6 -6.3 4.2 -6 0.8 -6-0.8 -7.7-4.2 -3.3-6 0.8-9 -1.5-3 -6.3-2.2 -21-0.6 -30 3.1 -13.3-6.3 -7.7-1.4 -15 5.8 -15 0.3 -4.8 4.3 -3 12 -4.2 4.8 -6 3.5 -1 6.7 4.6 60 7.5 21 3.9 6.3 9 2.4 6-1.7 5.9-4 10-12 11.1-21.7 3-2.5 9 0.8 27 13.8 9-6.1 6 2.9 9-9 12-1.1 9 3 5 7.9 -0.5 6 -7.7 15 1.4 12 -1.6 9 1.7 3 13.7 1.6 30 12.5zM673.1 270l5.9-3.8 2.5-8.2 -3.3-6 -8.2-2.2 -4.6 2.2 -2.1 6 3.7 10.6zM286 297.1l-6 1.2 -2.7-1.3 -3.9-6 1.1-9 5.5-4.5 6 0.4 5.9 7.1 -0.3 6zM848.8 459l10.2-7.2 6.7-10.8 1.2-9 -2.5-12 -7.4-15 -8.4-9 -10.6-4.7 -12 0.3 -8 7.4 -5.9 12 -3.1 12 2.7 15 7.2 12 7.1 5.9 15 4.4zM416.1 414l-2.2 0 1.1 1.6zM557.6 504l24.4-12 2.4-6 -1.3-3 -12.1-6.3 -12-11.8 -18-6.6 -12-9.6 -69-6.4 -12 4.2 -10.2 9.5 10.1 18 8.8 12 5.8 6 6.5 3.4 42 10.9 39-0.1zM959.4 483l5.7-6 1.4-12 -4.7-12 -6.8-2.5 -4.5 2.5 -3.9 6 -1.6 12 4.1 12 2.9 1.6zM917.1 504l6.6-3 5.4-6 2.2-9 -1.4-6 -4.3-6 -6.6-4.9 -9-3.3 -15-2.5 -2.3 1.7 -0.2 6 -9.5 9 -0.2 6 2.3 6 5 6 7.9 4.9 9 2.2zM690.5 507l7.2-6 1.8-9 -5.5-6.4 -6-1.7 -6 0.9 -7.6 7.2 0.6 12 4 4.5 3 0.9zM704.8 618l7.2-3.3 7.6-8.7 4.3-21 10.3-30 0.4-6 -1.6-4.2 -9-9.5 -15-6.3 -6 0.7 -12 7 -6 1.1 -6.3-0.8 -11.7-5.1 -18-1 -8.1 12.1 -1.8 9 -3.5 6 -4.6 4 -11.1 5 -5.8 6 -1.6 6 6.2 24 12.3 9.5 21 6.6 15 0.9zM429 600l4.5-6 0.4-6 -5.8-12 -2.7-30 -4.4-5.4 -9-1.2 -5.7 3.6 -1.6 3 -3.2 18 1.5 7.2 9 10.1 1.3 3.7 0 9 -1.3 4.9 -1.8 1.1 10.8 2.3zM872.3 564l-1.3-1.1 -4.2 1.1 1.2 2.4 3 0.3zM396.9 606l9.7-3 0.6-3 -19.2-1.5 -9.4 1.5 -4.8 3 8.2 3.2z"/>
<path fill="#9cff63" d="M985 705l-855 0 0-639 855 0zM856.4 90l32.7-3 2.1-3 -32.2-2.4 -18 0.4 -3 2 3 7.6zM812.6 132l9.4-6 5-9 10.1-12 0.9-5.1 -3-0.3 -15 6 -15 2.7 -6 3.3 -5.3 5.4 -2.6 6 0.1 3 2.7 3 11.1 3.5zM799.7 252l2.5-9 -1.6-12 -14.1-36 3-33 -3-27 -2.5-5.5 -6-1.9 -9 5.7 -6 10.3 -2.4 12.4 -1.3 24 7.9 21 6.2 24 6.4 15 10.2 13.5 6 1.1zM265.5 183l-0.5-1.6 -2.2 1.6zM367.6 219l2.4-3 -3-2.6 -3.6 2.6 0.2 3zM497.4 240l4.6-6 -3-5.4 -9-1.4 -5.6 3.8 -0.3 6 2.9 2.9 6 1.4zM420.9 420l3.1-3 3-9.7 12-5.2 21-12.9 3.2-8.2 6.1-9 -2.3-9 2-7.8 3-4.1 9 0.3 5.6-3.4 0.5-3 -2.5-3 -12.6-1.2 -4.5-7.8 -1.4-12 1.7-15 3.5-9 5.1-6 -7.6-24 -7.7-18 -4.1-5.3 -6-3.2 -6-0.8 -8.3-8.7 -3.7-0.7 -9 9 -24 1.8 -18-1.6 -27-5.4 -15-0.3 -12-2.1 -39 3.2 -18-0.8 -30 6.7 -6.4 5.2 -5.6 11.7 -12.4 3.3 -2.5 6 6.7 30 3.2 36 9.6 27 4.4 5.2 9 1.8 10.2-4 9.5-9 13.3-18 6-3 9 1.8 24 12.1 3-1.9 3-9 3-1.3 3 2.3 1.1 5 -4.4 9 4.1 3 5.2 0.1 1.8-15.1 3.9-9 6.3-3 9 0.7 7.5 5.3 1.4 6 -1.9 6 -8.2 12 1.9 24 3.8 3 11.6 3 29.9 15 4 3 -1.2 9 2.2 4.6 6 2.5zM676.1 273l4.7-3 4.2-5.7 0.8-9.3 -6.8-8.4 -6-1.7 -6 0.7 -7.3 6.4 3.8 18 3.5 3.5zM373 264.9l-6 1.5 -8.8-2.4 -2.8-3 0.2-6 8.4-5.3 9 1.3 4.7 7 -0.7 3zM283 292.2l-3-0.8 -1.4-3.4 1.4-3.4 3-1.1 3 1.2 1 3.3 -1.2 3zM808.4 288l-0.4-4.4 -3 0.1 0 7.2zM448 322.9l-3 0.9 -4.6-5.8 -0.1-6 1.7-3.3 3-0.3 3.5 3.6 1.3 6zM821.8 360l0.8-6 -2.6-6.9 -3 3.3 -0.1 9.6 3.1 2.7zM855 471l5.1-9 8.2-6 5.7-11.1 6-3.5 8.1-0.4 -0.1-3 -11.5-6 -16.4-27 -10.1-10.7 -15-5.8 -12 0.3 -10 13.2 -7.6 18 3.9 24 5.4 9 7 6 28.3 12.8zM904.9 423l-0.9-4.5 -3-0.2 -1.9 1.7 1.9 4.3zM552.8 507l30.2-12.1 5.3-5.9 -0.5-6 -13.8-5 -5-4 -8.1-12 -19.4-6 -6.5-8.7 -3-1.6 -39-1.1 -39-8.3 -9 2.2 -10.3 11.5 -1 6 5.7 9 0.4 9 20.2 19.5 6 3.8 42 10.2 21 0.9zM958.4 486l7.3-6 2.9-12 -4.6-16.1 -3-3 -6-1.2 -6 3.4 -3.4 4.9 -2.8 15 1.8 9 3.6 6 3.8 1.3zM921.6 504l7.8-6 4-9 -0.8-9 -4-6 -9.6-7.4 -15-6 -6-4.2 -9 5.6 -2.8 3 0.4 6 -6.8 9 0.5 6 5.1 9 6.7 6 8.9 4.2 9 1.1zM689.1 513l8.9-9 3.6-9 -2-6 -2.9-3 -5.7-2.6 -6-0.3 -6 1.9 -4.4 4 -2.4 6 -0.3 12 1.1 3.6 6 4.8 6-0.2zM669 624l37-4.6 9-4.8 7.2-8.6 13.6-36 4-15 -0.7-6 -6.1-13.7 -12-10.5 -9-3.4 -9-0.5 -3 1.3 -9 10.6 -6 2 -6-1.7 -9-7.9 -12 1.9 -9-1.4 -3 1.9 -7.5 12.4 -1.7 12 -3.7 6 -8.1 4.5 -12 1.9 -4 2.6 -4 6 -1 9 6.7 9 -1.5 12 4 6 11.8 7.5 15 5.3 15 2.4zM403.5 606l23.5-3.5 4-2.5 3.7-6 0.2-6 -6-15 -2.3-27 -2.6-4.7 -6-3.5 -9 1.3 -4.1 3.9 -4.4 21 2 9 9.4 12 -0.3 9 -5.6 3.7 -18-0.1 -12.9 2.4 -4.2 3 4.4 3 6.7 1.1zM872.2 567l1.1-3 -2.3-2 -3-0.1 -2.3 2.1 2.3 3.6zM581.9 618l2.8-6 -1.7-2.3 -6 0.1 -3.1 2.2 -0.9 3 1.3 3 2.7 1.1z"/>
<path fill="#a1ff5e" d="M985 705l-855 0 0-639 855 0zM798.1 255l4.2-6 0.1-12 -14.3-42 2.8-27 -1-27 1-6 5.1-2.2 15 0.6 9-3.9 9-13.8 18-20.9 12-3.3 48-4.4 1.9-3.1 -25.9-3.8 -45-0.3 -2.5 4.1 1.2 9 -5.2 6 -11.5 5.3 -15 2.4 -6 2.8 -12 11.3 -12 3 -10.3 11.2 -4.3 9 -1.7 9 -1.1 21 1.2 9 14.6 45 5.4 12 11.2 14.9 3 1.2zM268.8 186l1.3-3 -2.1-5.3 -6-2.5 -3 0.5 -1.6 4.3 1.6 6.1 6 2.4zM530.9 510l22.1-1.3 18-8.2 15-3.7 7.5-7.8 -0.2-6 -3.2-3 -10.1-0.5 -6-2.4 -4-3.1 -4.3-12 -3.7-4.6 -6-2.6 -6 0.9 -6-1.8 -2-6.9 -4-3.6 -9-1.8 -27 2 -18-2 -18.9-6.6 -19.9-12 -1.3-3 2.5-6 19.2-24 8.1-15 3.9-12 12.4-7.8 5.6-10.2 -0.9-3 -16.6-15 -1.4-18 4.7-15 0.2-6 -9.9-27 -8.8-15 -5.8-6 -12.1-4.6 -9-7.2 -6 1.2 -9 5.7 -15 2.4 -12-0.1 -12-2.6 -11.4-6.8 3.3-15 -2.1-3 -4.8-1 -6 2.4 -12 9.4 -51 0.9 -51 9.4 -9 5.3 -12 14.9 -15 7.6 -2.6 5.1 0.1 6 13 63 10.3 27 4.5 6 10.7 2.3 9-3 7.2-5.3 16.8-17.2 6-2.4 12 2.9 33 17.9 6 1.6 10.8-5.8 -5.7-12 -0.2-6 1.9-6 5.2-3.7 9.7 0.7 5.3 4.9 0.3 7.1 -3.8 6 -10.5 9 5.3 9 0.4 15 5.3 5.1 9.4 3.9 26.6 15.7 3 2.8 3 10 3 3.2 12 3.2 15-0.7 2 1.8 -6.3 24 0.1 3 9 12 -1 6 -3.8 6 9 4.1 24 19.3 39 8.6zM499 240l3.8-6 -3.8-6.3 -9-1.4 -7 4.7 -0.4 6 4.4 4.1 6 1zM678.1 276l5-3 5.3-6 2.3-6 -0.8-9 -3.8-6 -7.1-4.6 -9-1 -6 1.6 -6 4.4 -2.6 5.6 4.2 12 1.1 9 6.3 4.6zM370 262.9l-6 0.5 -4.2-2.4 -0.7-3 4.9-4 6 0.5 3.3 3.5 -0.7 3zM806.6 294l4.6-9 -3.2-5 -4.4 2 -1.6 6 2.2 6zM328 343.5l-3.1-1.5 0.7-3 2.4-1.5 1.2 1.5zM820.7 366l3.9-6 0.3-6 -1.9-9.1 -3-3.5 -4.1 3.6 -2 12 2 9zM916.4 507l8.6-2.7 6-5 9-20 3.7 6.7 5.3 4 12-2.4 5.2-4.6 3.1-6 1.2-9 -2.2-12 -4.3-8.1 -3-2.2 -6-0.9 -8.5 5.2 -4.7 9 -2.9 18 -1.9 2.4 -9-9.8 -20.4-13.6 -10.8-12 -3.5-12 1.7-2.5 6 0.3 6-2.6 2.2-4.2 -2.2-6.8 -3-1.6 -6 1 -4.5 4.4 -2.4 6 -5.1-0.5 -12-8 -15.1-18.5 -8.9-7.5 -27-10.6 -3 1.6 -18.6 34.5 3.5 15 -0.9 15 1.6 6 10.6 9 15.8 5.7 14.1 9.3 9.9 1.6 4-1.6 3.1-12 9.6-6 2.4-12 7.9-4.3 9 1.7 5.2 2.6 -0.5 6 -4.7 5.5 -9 4.8 -1.2 7.7 -6.4 9 0.4 3 7.6 12 8.6 7.3 12 4.7zM676.2 627l29.8-5.8 14.6-9.2 4.7-6 15.7-30 5.6-18 -8.3-18 -2.7-15 -11.6-8.3 -21.7-6.7 -1-3 2.2-12 -1.9-6 -4.6-4.4 -9-2.8 -9 1.9 -6 5.3 -4.8 15 -6 12 -7.2 4.6 -9 1 -10.4 12.4 -1.5 3 0.9 15 -4 5.7 -9 3.1 -15-1.9 -6.5 5.1 -8.5 15 -2 18 -2.8 3 -13.2 7 -3 3.2 -1.2 4.8 4.2 5.9 6 0.7 18-10.4 24 11.5 15 4.4 21 2.1zM410.6 606l13.4-1.3 6-2.3 4.9-5.4 1.3-6 -5.6-15 -3.6-31.8 -3-4.8 -6-3.1 -9 1.3 -5.4 5.4 -4 21 1.5 9 9.2 12 0.5 6 -1.3 3 -3.5 1.9 -15 0.4 -15 2.7 -7.6 4 3.3 3 13.3 2.3zM873.5 567l0.8-3 -3.3-2.9 -3.1-0.1 -3.3 3 3.4 4.5z"/>
<path fill="#a6ff59" d="M985 705l-855 0 0-639 855 0zM800.2 255l3-6 -0.1-12 -13.4-42 2.8-27 -0.5-24 1.3-6 2.7-2.3 15-1.3 9-3.8 9-13.6 15-17.1 6-4.4 12-2.6 45-2.9 14.9-3 1.3-3 -10.9-3 -23.3-2.3 -53.1-0.7 -2.4 3 0.4 12 -4.9 5.5 -9 4.3 -18 3 -15 9.6 -12 3 -6 6.8 -8.8 12.8 -2.9 9 -1.3 27 2.4 15 12.6 36 8.5 18 10.5 13.4 6 0.9zM799.5 90l0.6-6 -4.1-2.4 -18 1.7 -5.6 3.7 2.6 4.1 6 1.7zM238.1 156l3-3 -0.1-3.1 -3-1 -2.9 4.1zM669.2 162l-2.2-4.4 -9-9.4 -3-1 -4.5 2.8 10.5 4.5 2.8 7.5 3.2 2.9zM265.7 192l7-6 0.5-6 -1.6-3 -12.6-7.8 -6.1-1.2 -2.2 3 0.4 3 4.9 13.9 3 3.3zM335.5 180l1-3 -2.5-3.2 -3.8 0.2 -2.6 3 0.8 3 2.6 1.9zM555.6 510l15.4-7.9 15-1.8 6-2.3 10.2-9 -1.6-6 -5.6-5.9 -12 2.2 -9-2.7 -5.1-5.6 0-9 -3.9-7.5 -6-6 -14.2-7.5 -12.8-2.7 -27 3.9 -18-1.5 -18-6.6 -7.1-5.1 -4.5-6 -0.8-6 2.3-6 12.6-15 14-27 10.5-9.9 5.3-14.1 -1.7-6 -8-9 -3-6 -2.2-15 -0.3-21 -6.3-21 -12-21 -10.8-10.6 -21-10.2 -6 0.9 -9 5.4 -12 3.3 -18-0.2 -9-3 -6-4.8 -1.2-4.8 2-9 -0.8-3.7 -3-3.2 -6-1.3 -18 3 -12-4.1 -1.6 0.3 -1.4 6 -3.3 3 -8.7 3.5 -9 0 -15-3.7 -15 3.9 -18-2.2 -21 5.1 -6.8 5.4 -12.9 21 -18.9 9 -6.5 6 -5.9 18 1.5 15 4.2 9 15.3 20.7 17.3 39.3 3.7 4.1 9 2.7 9-1.6 9-5.2 15-12.8 9-3.5 15 4.3 33 17.4 3 0.2 12-4.9 4.1 5.3 -0.7 12 1.5 3 40.1 27 2.1 6 -0.9 9 1.8 2.3 3 1.1 9-1.9 10.2 4.5 2.1 6 1.5 15 10.2 6.7 3.4 5.3 -1.3 6 -6.2 6 0.6 3 12.5 4.3 21 18 6 2.2 21 2 12 4.3 9 1.2 24 0.2zM500.2 240l3.5-6 -0.6-3 -4.1-4.3 -9-1.2 -8.5 5.5 -0.5 6 6 5.4 6 0.5zM680.4 279l8.9-6 4.4-6 2.4-9 -1.9-9 -4-6 -8.2-5.6 -9-1.8 -9 1.7 -8.6 5.7 -3.4 6 0.8 6 4.5 9 -0.5 12 4.2 3.8 6 1.7zM806.5 297l4.5-5.5 2.3-6.5 -2.3-5.9 -3-1.3 -3 0.3 -3 3.3 -1.2 6.6 1.2 7.2 3 2.6zM355 349.7l-6 0.2 -3-2.9 -1.7-5 1.7-7.7 6-3.4 7.9 2.1 3 6 -2.3 6zM821.2 369l4.6-6 0.9-9 -2.8-12 -3.9-4.9 -3 0.9 -3 5.2 -2.1 16.8 2.1 9.5 3 1.3zM923.9 507l7.1-4.2 9-10.4 9 0.9 9-1.5 6-2.9 5.1-5.9 3.2-9 0.1-9 -3.7-15 -4.7-6.1 -6-2.4 -9 2.2 -6.3 6.3 -6.5 15 -2.2 2.3 -3-0.7 -14.6-10.6 -11-15 7.3-18 -1.4-6 -2.6-3 -7.7-2.6 -12 5.2 -6-0.3 -30-26.1 -18-6.9 -9-8.6 -3-1 -6 4.2 -6 13.2 -6 7 -6 1.2 -6-3.5 -6 0.1 9.1 9.1 0.3 15 5.7 12 -1.2 9 -5.2 12 3.4 6 11.4 6 18.5 5.4 16.2 9.6 25.8 4.6 17 16.4 10 5.6 12 2.3zM889 459.4l-9 1.7 -3-2.3 -2.5-5.8 2.5-6 3-2.3 6-0.6 7.2 2.9 1.5 6zM874 474.5l-6 1 -3.2-4.5 2.1-6 4.1-2.2 3-0.2 3.9 2.4 -0.1 6zM666.8 633l39.2-9.9 14.5-8.1 8.8-9 13.3-18 12.8-27 -1.4-8.2 -9-5.8 -5.1-10 2.1-7.4 9-1.6 -3.5-6 -14.5-11.3 -24-8.8 -3.5-9.9 -4-6 -10.5-5.2 -9 0.3 -6 2.7 -5.3 5.2 -6.7 14 -6 6.6 -15 7.4 -16.3 14 -1.6 3 8.2 12 0 6 -2.3 3.7 -6 3.2 -6-0.3 -12-8.9 -3 0.8 -13.4 10.5 -8.3 12 -5 21 -10.5 18 4 9 6.2 2.7 18-4.5 21 9.7 15 4 18 1.8zM398 609l29-3.7 6-3.3 4.2-8 0-6 -5.5-12 -4.1-33 -3.6-5.4 -6-2.8 -9 1.3 -4.8 3.9 -5.5 24 1.1 9 8.8 12 0.4 6.4 -6 3.5 -30 4.1 -6.9 4 2.6 3 7.3 2.1zM874.6 567l0.4-3 -4-3.5 -4.7 0.5 -2.7 3 0.7 3 3.7 2.4z"/>
<path fill="#abff54" d="M985 705l-855 0 0-639 855 0zM592 87l3-3 1.2-6 -4.2-4.2 -6 0.4 -4.5 3.8 -1.1 6 2.6 4 3 1zM782.7 99l19.3-3 2.2-3 -0.5-12 -1.7-2.4 -24-0.3 -11.4 2.7 -4.8 3 -1.4 3 0.9 3 7.7 7 6 2.8zM797.9 258l5.5-6 1-9 -2.7-15 -10.2-30 2.5-30 -0.1-21 2.1-7.8 24-7.4 3.3-2.8 9.4-15 14.3-14.8 6-3.2 70.1-6 12.6-3 1.4-3 -9.1-3 -24.4-3 -68.6-1.9 -3.8 1.9 2 9 -1.2 5.5 -6 6 -9 2.8 -12 0.1 -18 8.8 -9 0.2 -6 2.9 -16.8 30.7 -1.6 15 2.5 30 4.8 15 15.6 36 13.5 18zM464.7 90l1.8-6 -3.5-1.7 -3 1.5 -1.2 3.2 1.2 3.7 3 0.8zM368.1 111l4.9-3.5 3.1-5.5 -0.1-3.2 -3-2.5 -6 2.1 -5.1 6.6 -0.9 3 1.4 3zM688 108l0-3.4 -3-2 -3.3 2.4 0.3 3.5 3 1.6zM286.4 129l7.3-3 1.9-3 -0.6-3.1 -6-2.4 -6.9 2.5 -1.9 3 0.4 3zM400.3 138l5.1-3 0.9-3 -3.3-5.9 -3-0.9 -3.4 0.8 -3.2 6 3.6 5.2zM612.6 135l1.5-3 -1.4-6 -5.7-2.7 -6.1 2.7 -1.4 3 1.6 6 5.9 2.6zM568.4 147l1.3-6 -1.7-5 -3 2.5 -0.9 5.5 0.9 4zM671.9 168l3.8-6 -11.7-15.6 -3.5-2.4 -5.5-0.5 -7.6 3.5 -2.1 3 0.7 3.4 11.2 5.6 7 9 2.8 1.4zM556.1 513l17.9-10 18 0.6 18-5.1 0-7 -8.4-17.5 -3.6-2.6 -8.8 5.6 -6.2 1.8 -9-2.6 -4.5-5.2 1.9-12 -6.4-11.3 -6-5.1 -12-5.5 -15-2.4 -24 5.8 -18-0.4 -18-6.6 -5.8-4.5 -3.9-6 -0.2-6 3.1-6 9.8-9.9 27-37.2 4.5-18.9 -17.9-69 -9.3-21 -9.7-15 -15.6-13.4 -12-6.6 -6-1.3 -6 2.2 -12 9.1 -9 3 -12 0.7 -12-3.1 -6.7-5.6 1-15 -3.3-7.5 -9-6.8 -27-4.5 -3-2 3.7-6.2 1.1-6 -1.8-4.1 -6-3.4 -6 1 -3.8 3.5 1.8 9 8.1 9 -6.4 9 -2.7 9.6 -9 2.7 -18-6.8 -9 3.9 -6 0.2 -4.5-3.6 -1.1-3 -1.1-9 1.8-12 -1.9-6 -5.2-5.4 -12-7.6 -14.1-5 0.3-9 -4.2-5.1 -7.4 2.1 -2 6 1.9 6 10.5 1.5 0.9 1.5 -0.5 9 5.6 14.1 2.9 12.9 -23.9 11.7 -7.5 6.3 -0.4 3 4.9 6.7 0.9 5.3 -1.4 6 -5.5 7 -6 2.6 -7.1-0.6 -4.3-6 -0.6-9.1 -3-0.5 -12 8.9 -9.9 12.7 -7.1 15 -2.7 18 3.3 15 7.8 12 10.9 9 21.7 12.7 12 15.8 8.2 16.5 6.8 4.1 9 1 6-1.4 24-15.1 9-2.3 18 5.7 30 16.1 6 0.6 6-5.6 3 1 -1.8 10.9 4.4 6 34.6 24 4.4 6 1.3 9 2.1 3.7 6 3.3 10 2 3.5 6 2.6 12 4.4 3 6.5 1.1 7 4.9 1.5 6 -2.5 3.8 -7.4 5.2 0.3 3 22.1 10.3 15 15.3 12 3.5 15-0.3 18 6.1 27 0.3zM496.3 243l5.7-3.7 2.5-5.3 -2.4-6 -3.1-2.3 -9-1.3 -6 2.1 -4.7 4.5 -1 6 2.7 4.3 6 2.6zM674.1 285l10.9-3.7 9-6.4 5.7-7.9 2.1-9 -1.5-9 -6.3-9.8 -9-6.2 -12-2.1 -9 1.5 -6 3 -7.5 7.6 -1.7 6 6.2 15 -4.4 12 1.3 3 9.1 5.7zM806 300l5-5.3 5.1-12.7 -1.9-3 -6.2-3.1 -6 2.7 -2.4 9.4 1.4 9zM358 345l-6 2.5 -3-1.4 -2.2-7.1 2.2-4.3 6-1.6 4.7 2.9 1.1 3zM920 510l8-1.8 15-10 18-3.6 7.5-5.6 4.9-9 1.8-9 -1-12 -3.3-12 -6.9-7.4 -6-2 -6 0.4 -10.6 6 -7.4 9.6 -3 1.9 -3-1.3 -6-7.2 -5.6-27 -6.4-8.8 -9-3.1 -12 1.1 -35.5-22.2 -12.5-3.3 -8.2-5.7 -6.3-9 1.9-12 -2.4-14.7 -3-6.5 -3-2.4 -3 0.6 -3.6 5 -3 12 -0.5 15 2.7 9 -0.5 3 -6.7 12 -6.4 1.7 -27-7.9 -6.5 3.2 0.5 4.9 11.1 4.1 5.6 6 7.3 10.7 2 7.3 6.8 9 -0.2 9 -2.6 4.4 -11.1 10.6 -1 3 1.3 3 11 6 32.8 9.2 12 6.7 30 7.9 14.9 12.2 12.1 6.8 9 2.2zM893.4 393l1.2-3 -2-3 -5.2 3 -0.2 3 1.8 2.2zM886 459.7l-6-0.6 -3.4-3.1 -0.7-6 4.1-4.4 9-0.3 4.8 4.7 -1.6 6zM721.7 486l0.3-12 -4-6 -3-0.6 -2.2 3.6 1.1 9 4.1 8.7 3-0.2zM871 471.1l-1.9-3.1 1.9-1.5 3 0.7 0 1.9zM660.4 639l48.6-15.3 18.8-11.7 20.6-18 7.6-21 9.8-12 2.6-6 -1.6-18 -16.1-21 -32.7-25.6 -1.3 1.6 -4.7-0.4 -10.5-8.6 -10.5-3.9 -9 0.4 -8.3 3.5 -15.7 17.3 -19.1 9.7 -31.9 22.3 -3 3.1 -6 13.9 -3 2.1 -12 2 -3 2.8 -10.5 13.8 -4.9 12 -1.7 27 3.5 9 6 6 7.6 1.8 12-1.5 15 11.5 15 4.3 18 1.4zM409.1 609l20.9-3.2 6-4.7 2.6-7.1 -0.2-6 -5.6-12 -4.3-33 -4.5-7.2 -6-2.4 -6 0.3 -6 2.7 -4.4 6.6 -3.8 27 2.2 6.6 6.7 8.4 0.3 6 -4 2.3 -30 5 -5.6 1.7 -3.4 3 3 3.5 12 3zM748 545l-3-1.4 -2.2-3.6 -0.6-3 2.8-3.8 3 1.4 3.1 5.4 -0.2 3zM628 556.1l-6 1.2 -5.5-2.3 -3.1-6 2.6-6.3 6-2.3 6.9 2.6 3.1 6 -0.4 3zM871.8 570l3.8-3 -1.6-5.4 -3-1.6 -6.2 1 -2.2 3 0.4 3 5 3.4zM435.5 642l2.6-3 -1.2-3 -3.9-1.7 -6 1.5 -3.4 3.2 0.4 3.5zM415.9 660l-0.9-5.1 -3-0.6 0 4.7 3 1.9zM938.9 675l4.2-3 -0.1-3.2 -6-0.9 -5.3 4.1 2.3 3.3zM363.5 681l-2.5-3.2 -3.3 0.2 -1.2 3 4.5 2z"/>
<path fill="#b0ff4f" d="M985 705l-855 0 0-639 855 0zM585.2 99l12.8-10.8 3.8-7.2 -0.8-6.4 -6-5.4 -6-0.8 -6 1.9 -7.3 7.7 -1.1 6 2.4 12.7 3 3.4zM800.7 258l3.9-6 0.3-12 -10.8-36 -1.3-9 2.6-24 0.4-24 2-6 23.6-9 12.4-18 13.2-13.3 6-3.4 85.6-7.3 11.4-3 1.6-3 -7.6-3 -31-3.9 -81-2.6 -2.5 0.5 -1 3 3.5 9 -1.9 6 -7.1 4.9 -6 0.7 -6-2.4 -5-6.2 -0.4-6 2-6 -2.6-2.5 -36-0.2 -12 2.9 -10.4 5.8 -0.5 3 2.2 3 14.7 11.9 2.5 6.1 -0.9 15 -10.1 15 -3.1 9 -0.5 12 4.5 39 18 39 11.8 18 4.8 4.8 3 0.7zM465.1 96l5-9 1.4-6 -2.5-3.5 -6-1.3 -8 4.8 -1.8 9 3.7 6 3.1 1.7zM333.1 87l0-3 -2.1-1.2 -8.4 1.2 0.1 3 2.3 1.2zM363.1 117l6.9-2.2 7.5-6.8 3.7-9 -2.2-6.1 -3-1.5 -6 0.7 -6 4.5 -6.5 8.4 -2.2 6 0.6 3 2.1 2.2zM689.7 111l1.8-6 -1-3 -2.5-2.5 -6 0.2 -3.7 5.3 1.3 6 5.4 2.6zM216.2 111l15.8-2.4 2.4-3.6 -0.6-3 -10.8-2.2 -9 2.2 -4.2 6 2 3zM747.3 111l1.2-3 -1.3-3 -2.2-1.6 -3 0.5 -2.2 4.1 1 3 4.2 1.4zM292.5 132l8.2-6 1.9-6 -0.9-3 -6.7-4.3 -12 2.3 -6 6.9 1.4 7.1 7.6 4.3zM613.2 141l3.7-3 2.5-6 -2.4-9 -4-3.2 -6-1 -9.6 4.2 -3.3 6 2.9 9 7 4.3zM406.2 141l4.3-6 -1.7-9 -5.8-5.2 -9 1.4 -4.9 6.8 2 9 5.9 4.5 6 0.1zM691.5 135l3.7-3 -1.2-4.3 -3-1.9 -4.1 3.2 1.1 4zM568.5 153l3.2-6 1-9 -1.7-6.3 -3-2.1 -4.9 5.4 -1.9 9 2.4 9 1.4 1.4zM620.8 651l19.2-1.4 21-5.5 48-18.6 14.5-7.5 33.5-21 2.4-3 -1.6-12 2.9-9 8.3-6.8 16-5.2 3.7-6 -1.4-6 -8-9 -18.5-15 -6.8-10.4 -21.3-19.6 -3.7-6 -3.9-18 -7.1-7.2 -3-0.9 -4.1 2.1 -4.9 14.1 -15-2.4 -12 0.9 -21 11.2 -18 4.9 -12 7.4 -6 0.4 -3-1.8 -6-9.7 -6-20.9 -12-10 -5-0.1 4.6 9 -0.3 3 -5.3 5.4 -9 1.7 -8-4.1 -2.1-6 5.2-9 -5.9-12 -7.2-7.8 -12-6.1 -6-2.5 -9-0.5 -22 7.9 -14 1.8 -15-2.5 -11-5.3 -5.9-6 -1-9 20.9-25.2 10.4-7.8 5.2-6 8.1-15 5.2-24 -0.2-12 -4.7-13.3 -12.5-31.7 -9.9-18 -6-15 3.1-3 10.3-1.7 6-3.7 3.4-6.6 -1.9-6 -7.5-4.6 -6-0.3 -18 8.3 -36-32.1 -13-7.3 -8-10.7 -12-0.4 -48-10.3 -21-7.1 -16.1 4.5 -1.2 3 6 12 -1.4 9 2.3 6 -1.7 9 -2.9 2.4 -6-0.2 -3.8-2.2 -4.1-6 -0.1-3 4.3-6 -4.8-12 0.7-9 -25.2-2.2 -24-12.8 -12-14.6 -6-1.3 -6 1.4 -4.9 5.5 -0.3 6 2.4 9 6.6 9 -1.3 9 -35.5 16.4 -24 15 -21.2 19.6 -14.3 21 -5.7 15 -2.4 18 2.3 15 7.7 15 9.1 9 12.5 7.2 51 14.4 9 8.6 6 12 9 5.3 9 1.2 6-1.3 21-11.4 9-2.6 15 3.3 24 11.7 60.8 41.6 10.2 18 12.9 9 5.5 15 15.6 2.2 6 3.8 1.7 6 -4.7 5 -8.2 4 0.8 3 3.4 3 19 6.9 6.2 5.1 8.8 11.4 6 4.2 12 3.3 12-1.6 9 5.9 6 1.6 24 1.2 30-2.4 10.2-11.6 4.8-2.1 6 0.4 8.9 4.7 5.2 6 -1 9 5.5 15 -1.8 6 -4.8 2.7 -3-0.4 -9-7.7 -3-0.2 -4.8 11.6 -4.2 5.8 -18 11.7 -2.7 3.5 -3.1 12 0.9 9 3.8 9 10.1 8.3 12 13.5 6 2.9 13.4 2.3 5.3 15 17.3 5.7zM672.9 171l11.4-12 1.5-3 -0.8-4.5 -9 2.6 -2.5-1.1 -6.5-9.7 -6-3.6 -12 2.5 -6.1 4.8 -2.1 6 2.2 3.4 11.5 5.6 9.5 9.5 3 0.9zM592.8 165l3.2-3 0.4-3 -1.4-3 -6-1.6 -3 2.5 -0.5 5.1 3.5 3.1zM409 231.3l-15 0.6 -9-3.4 -3.9-3.5 -1.1-6 2.1-18 2.9-4.5 3-0.2 12 6.6 15 3.8 8.4 6.3 1.1 6 -3.4 6zM292 201.4l-3 1.7 -1.3-2.1 4.3-2.3zM737.6 216l1.8-3 -0.7-3 -2.7-2.2 -3 0.4 -1.9 4.8 1.7 3zM679.7 288l13.5-6 9.8-8.6 4.7-9.4 0.2-12 -7.9-13.8 -9-9 -12-2.6 -15 0.8 -9 4.5 -8.7 11.1 -0.1 6 5.6 15 -1 3 -7.5 6 0 3 5.7 8.7 9 4.8 9 0.9zM217 237.5l-1.4-0.5 1.4-1.2zM805.4 303l4-3 7.6-12.4 7.4-5.6 -16.4-7.7 -6 2.2 -3.6 11.5 0.8 9 2.8 5zM933.6 510l12.4-6.3 18-4.7 9.7-10 3.8-9 1.4-12 -1.6-15 -2.9-9 -4.9-6 -8.5-4.8 -24-1.9 -20.6-20.3 -18.5-9 -2.3-3 1.5-9 -2.1-4.5 -6-0.4 -9 9.1 -3 0.1 -24-11.3 -13.3-2 -10.2-15 0-15 -3.5-13.5 -3-5.5 -3-2.2 -3 0.4 -3 2.8 -3.9 9 -3.4 33 -1.7 5.5 -3 3.4 -9 1 -21-5.8 -6.4 1.9 -5 6 -0.1 6 1.8 3 10.5 6 5.1 9 9.1 4.1 9.8 16.9 -3.8 8.7 -24.3 15.3 -2.3 3 1 3 10.6 4.2 48 9.9 15.3 6.9 26.7 7.2 20.2 13.8 12.8 6 21 2.3zM355 344.1l-3 0.2 -2.2-2.3 -0.3-3 2.5-3.1 3.7 0.1 2.5 3zM553.7 426l3.1-3 -1.2-3 -5.6-0.6 -4.3 3.6 1.3 4.3zM889 457.9l-6 1.1 -5.4-3 -0.7-6 2.3-3 6.8-1.9 6 3.7 1.1 4.2zM971.2 534l2.7-3 -0.9-5.7 -3-1.7 -6.3 1.4 -2.7 6 2.2 3 3.8 1.1zM425.2 609l7.8-2.4 4.4-3.6 2.7-6 0.4-6 -6.6-15 -1-12 -2.8-9 -0.1-9.1 -3-8.8 -6-4.6 -9-0.2 -6 2.5 -4.4 5.2 -4.6 24 1.4 12 7.1 12 -1.5 3 -31 6.5 -7.5 2.5 -3.4 3 1.4 3 3.5 1.6 15 3.1 18 0.4zM625 555.6l-4.7-0.6 -3.2-3 0.6-6 4.3-2.5 6 1.5 2.2 4 -0.5 3zM874.3 570l2.3-3 0-3 -2.6-3.2 -6-1.5 -4.7 1.7 -2 3 0.2 3 3.5 3.6 6 1zM456.9 609l4.9-6 0.5-3 -2.3-3 -3 1 -4.5 5 0.7 6zM437.8 645l4.3-3 1-3 -1.1-3.2 -6-4.3 -9 1.7 -8.6 8.8 -0.1 3 2.7 1.4zM804.4 657l1.6-6 -1.8-3 -5.2-2.6 -9 1.1 -3.7 4.5 -0.3 6 4 2.7zM418.5 663l1-3 -1.5-5.6 -3-4.4 -3-0.1 -3.5 4.1 1 6 5.5 4.7zM322.3 663l2-6 -5.3-5.1 -6-0.4 -4.5 2.5 -1.6 3 1.9 6 4.2 2.4 6-0.3zM940.6 678l7.2-6 0.2-3 -2.7-3 -10.1 0 -7.8 6 -0.3 3 3.9 3.6zM254.5 678l2.9-3 -0.2-3 -3.3-3 -3.9 0.2 -2.2 2.8 0.1 3 2.1 2.6zM520.7 678l1-6 -1.7-2.7 -3-0.9 -3 2.8 -0.4 3.8 3.4 4.2zM689 669l-4.1 0 3.1 2zM367.2 684l0.9-3 -4.1-5.7 -6-1.2 -5.8 3.9 1.4 6 4.4 2.5 6-0.2zM727.9 684l1.2-3 -2.1-4 -3-1 -4.4 2 -1.2 3 2.6 4.5 3 0.7z"/>
<path fill="#b5ff4a" d="M625 493.8l-6-0.9 -4.4-6.9 0.5-21 -1.3-3 -18.8-11.1 -6-0.6 -9 3.2 -3-1.5 -6.7-11 -13.2-12 4.9-6 -1.8-3 -4.2-2.1 -9 0.6 -6 4.2 -12 3.6 -12.7 8.7 -14.3 3.5 -18-2.4 -8.2-4.1 -5.9-6 -0.5-9 18.5-21 8.1-5 12-2.6 3-2.8 14.5-34.6 10.3-18 -0.1-3 -2.7-3 -11.1-9 -3.8-15 -6.6-12 -3.4-12 -12.1-10.9 -6.8-13.1 -0.1-6 9.9-4.9 6.6-7.1 0.7-6 -1.5-3 -5.8-4.9 -6-1.4 -18 1.2 -12-9.5 -4.1-6.4 1.1-8.9 13.1-12.1 5.8-15 8.1-6.6 15-2.2 6-3.2 10.6-9 10.4-15.6 16.2-8.4 10.8-8.5 1.1 2.5 -1.9 24 1.4 9 3.7 6 4.7 2.4 7.6-5.4 3.5-6 3.9-14 6.8 8 -6.1 9 0 9 6.9 6 7.4 0.1 3-1.5 3.6-4.6 2.4-9.7 15-3.2 9.8-8.1 4-12 -2.6-12 -5.2-7.3 -6-2.7 -36 14.7 -3 0.2 -0.8-1.9 0.7-3 15.1-13 21.4-11 5.7-6 1.7-6 -5.1-15 366.3 0 0 379.4 -4.5-7.4 -10.5-9.1 -15-4.6 -9-8.6 -33-11.6 -9.2-5.1 -2.9-3 -2.9-10.2 -3-3 -6-0.1 -12 6 -21-8.9 -15-0.8 -8.8-13 -1.5-18 -4.7-15 -3-4.8 -6-1.8 -4.1 3.6 -3.1 6 -7.4 33 -3.4 5.2 -9 2.2 -15-2.6 -6 0.6 -9 5.5 -3.4 7.1 0.4 9.3 10.7 14.7 3.5 3 12.8 1.9 9.4 13.1 0.2 6 -3.6 4.4 -9 7 -33.1 9.6 -17.9 8.8 -12-4.7 -6-0.4 -12 11.3 -51 4.2 -17.1 7.8 -2.5 6zM798.2 261l6.5-6 1.5-9 -2.2-15 -9.5-33 3-48 1.2-6 2.4-3 22-9 11.8-18 12.1-11.7 6-3.6 36-4.2 54-2.8 23.7-4.7 3.6-3 -15.3-4.4 -30-3.4 -96-3.6 -7.7 2.4 7.7 6 1.7 3 -0.1 6 -4.6 5 -6 1.7 -9-2.7 -4.3-7 1.6-6 7.2-6 -7.5-2.4 -36-2.3 -106.8 7.7 -19.2 3 -7.9 3 2.3 3 32.6 6.8 -1.3 14.2 2.4 6 7.2 6 -2.5 9 1.4 6 4.2 6 -1.8 3 -3.6 1.3 -2.8-1.3 -6.2-10.5 -6-3.3 -6-0.3 -9 3.4 -9 6.1 -4.5 4.6 -2.8 6 0.6 6 3.7 4.4 27 14.4 9-1 11.7-8.8 6.2-9 2.9-12 7.4-9 -1.2-9 -7.6-9 3.7-9 0.9-12.2 6-1.1 30 2.3 3.2 2 0.6 12 5.2 4.2 6-1 6-6 3 0.2 4.9 8.6 0 6 -13.1 18 -2 9 3.4 24 1.2 24 9.4 21 24.9 39 4.3 3.8zM274 147.5l-6 0.2 -7-3.7 1-11.2 -12.1-6.8 -2-3 0.2-6 4.9-7.5 9.7-4.5 8.6-9 3.1-12 5.6-7.4 9-4.2 12 0.7 4.7 4.9 0.6 12 -8.3 6.8 -17.2 5.2 -7.4 21 1.2 6 6.3 12 -1.4 3zM427 90.3l-9 1.4 -4.3-4.7 2-9 8.3-5.6 6 1.3 2.1 4.3 -0.5 6zM550 109.2l-9-2 -7.5-8.2 -2.9-12 1.4-5.6 3-3 6-1.4 6 1.5 4.5 5.5 2.7 9 0.2 9 -1.4 5zM481 111.5l-6-0.5 -4.1-3 -2-6 1.1-9 8-11.3 6-3.3 6-0.3 4.8 2.9 2.6 6 -0.3 6 -5 12 -5.1 4.5zM355 94.1l-1.6-1.1 1.2-3 3.4-2.6 0 3.5zM448 114.4l-3 1.6 -3.4-2 0.4-3.9 3-3.3 3.7 1.2 1.1 3zM220 124.4l-6 1.6 -2.3-3 2.1-3 6.2-1.4 2 1.4zM334 147.5l-6-0.7 -2.9-2.8 -2.1-9 5-10.4 6-3.4 3 0.1 5.4 4.7 1.7 9 -4.1 8.4zM445 195.2l-12-3.6 -3.2-2.6 -0.7-3 7.3-15 -0.4-3.2 -9.8-8.8 -1.3-6 1.5-6 6.6-8.6 6-3.3 9-0.1 9 7.9 9-11.2 3-1.1 3 1.2 4.5 6.2 1.1 6 -0.6 15 -3 9 -8 8.2 -6-1 -4.2-7.2 -1.8-15.5 -9.2 12.5 8.2 15 -4 12zM544.4 165l4.8-6 1.2-6 -3.4-7.3 -6-1.1 -10.9 11.4 -0.7 6 2.6 4.2 3 1.7zM316 187l-5.5-4 -0.2-3 2.7-2.5 3 0.2 3 3.1 0 4.3zM316 204.4l-3-1 -0.8-2.4 3.8-2.3 1.5 2.3zM740.1 219l3.1-6 -1.9-6 -5.3-3.3 -6 1.5 -2.8 4.8 1 6 4.8 4.5zM400 231.1l-12-2.7 -5.9-6.4 0.5-6 5.4-10.2 3-0.7 18 3.3 6 2.6 4.9 5 0 6 -4.9 5.2 -6 2.7zM645.4 306l3.6-7.7 3-2.2 21-1.3 25.7-9.8 4.3-3 11.4-15 2.8-9 -1.6-9 -11.4-12 -7.2-12.5 -6-2.2 -30 0.8 -9 4.7 -6 7.3 -2.7 4.9 -0.7 6 4.4 12 0.2 6 -4.2 2.6 -12 0.7 -6.1 2.7 0.4 3 8.6 6 0.4 3 -2.9 6 1.9 9 6.7 8.6 3 1.3zM805.2 306l2.8-1.2 12-16.2 9-2.8 11.7-6.8 -5.7-3.2 -15 0 -12-3.2 -6 1.8 -4 7.6 -0.8 12 2.9 9zM493 705l-363 0 0-346.3 36-4.4 45-2.9 9 4 9 13.6 18 5.5 6-1.1 24-10.8 9-0.4 9 2.3 24 11 7.5 5.5 7.5 9.7 21 8 24 17.5 10.8 15.8 11.5 12 4.7 13.2 3 3.5 15-2.1 8.1 3.4 1.9 3 -1 4.3 -3 2.9 -12 3.6 -1.5 1.2 2.2 3 5.3 3.6 21 7.8 7.2 6.6 10.8 14.2 18 11.6 27 12.3 8.1 9.9 1.6 9 -1.4 12 -7.2 15 -7.1 4.2 -12-0.5 -4.8 2.3 -0.5 6 5.3 7.8 9 8.1 3-1.5 8-11.4 4-2.7 6-1.3 9 1.9 6 4.1 9 10 15 5.6 15 13.9 9.8 4.5 1.4 3 -4.2 24 -4 5.6 -12 5.6 -24 2 -6-1.6 -12-10.5 -11.3-7.1 -3.3-6 -3.4-21.6 -3-4.9 -3-0.4 -4.3 14.9 -4.2 33 0 21 4.9 15zM889 457.3l-6 1.2 -3-1.1 -2.8-4.4 0.3-3 5.5-4.2 6 1 3 3.2 0.3 3zM583 477.8l-9-2.5 -3.1-4.3 0.8-6 5.3-5.1 9 0.3 7.3 7.8 -2.1 6zM982 705l-204.2 0 2.1-15 11.7-24 3-3 4.4-0.4 6 8.4 3 0.7 8.5-2.7 2.8-3 0.9-15 -8-6 -13.2-3 -12.1 3 -8.9 14.1 -21.2 6.9 -11.8 6.7 -24-4.5 -6 2.4 -12 8.7 -6 0.9 -3-2.2 1.7-6 -1.4-3 -6.3-4.1 -5.4 1.1 -2.2 3 0.3 3 4.3 5.4 5.6 3.6 -2.3 6 -0.4 18 -34.9 0 -1-10 -3-6.5 -24 1.4 -18 4.1 -6-1.9 -2.6-5.1 7.5-15 10.1-9.6 6-2 9 2.9 6-1 36-18.1 9-6.6 34.4-13.6 51.4-27 2.9-3 0.4-3 -7.5-6 -1.5-6 3.3-6 3.6-2.4 6-1.5 6 1.2 5.4 5.7 1 9 17.6 4.2 3.7-1.2 1.8-6 2.6-3 16.5-9 0.4-3 -2-3 -7.5-6 -36.5-19.9 -21-13.5 -7.2-11.6 -19.7-21 -2.1-6 2-5.9 15 0.2 9-8.6 6-0.6 36 3.1 24 4.3 45 15.2 18 12.1 12 5.5 45 7.8 3 2.4 4.8 12.5 7.2 5.3 12 1.4 12-3.8 0 142.1 -27-3.2 -5.1-9.8 -6.9-2.9 -6-0.1 -9 2.5 -5.6 3.5 -7.7 9 -1 6 2.3 5.2 3 2.5 21 0.9 18 8.7 12 3.1 11.4 0.6zM985 510.4l-2.2-6.4 2.2-6.8zM580 521.3l-6 0.1 -5.1-5.4 1.1-6 4-2.7 6 1.2 3.9 4.5 -0.9 5.9zM409.8 612l23.2-2.4 6.4-3.6 3.7-6 -1.6-12 -6.6-12 -5.4-36 -3.2-6 -8.3-3.5 -12 2.7 -6 8.2 -4.2 28.6 6.7 18 -3.5 3 -32 7.7 -6.8 4.3 1 3 11.8 4.4 18 1.9zM595 544l-3 1.9 -5.3-2.9 -2.1-6 1.4-3.8 3-1.4 4.2 2.2 2.8 6zM562 555l-9 1.3 -5.5-4.3 -1.5-6 0.9-3 6.1-6 6-0.9 6.4 3.9 1.1 9zM625 553.6l-4.9-1.6 -0.7-3 2.6-2.8 3-0.2 3.1 3 -0.6 3zM868.5 573l5.5-0.9 3.8-5.1 -2.6-6 -7.2-2.3 -6.1 2.3 -2.7 6 2.8 4.2zM457.4 615l6.4-6 3.9-9 -0.8-6 -3.9-2 -10.3 5 -6.3 9 3.1 9 4.5 1.5zM418.2 672l2.8-0.7 2.8-5.3 -1.2-12 1.4-2.6 18-2.3 6-3.5 2.4-3.6 -0.6-6 -7.8-7.2 -9-0.8 -9 4 -18.6 19 -1.1 6 3.4 9 4.3 4.7zM260.8 642l-1.8-4.4 -3.1-1.6 -1.9 3 2 4.7 3 1.2zM325.2 672l5.3-9 -1.6-9 -3.9-3.4 -9-2.9 -6 0.5 -5.5 2.8 -4.4 9 3.9 8.5 12 6.3 6-0.5zM371.2 693l5.4-6 -0.9-15 5.6-6 1.2-6 -3.8-6 -11.7-2.2 -5.4 2.2 -1.9 3 -1.7 9.8 -7.9-6.8 -4.1 0.7 -2.5 2.3 -0.8 3 3.6 6 -2.2 9 2.1 6 8.8 7.3 9 1.2zM871.8 684l1.5-9 -1.2-9 -4.1-8.8 -6-4.8 -3 1.2 -0.1 3.4 6.1 23 3 6.5 3-0.6zM574 691.6l-6 0.7 -2.5-2.3 -0.2-3 9.9-18 10.8-10.2 9-2.9 4.9 1.1 1.7 6 -3.6 8.3 -15 15.1zM259.3 690l4.2-3 3.5-6 0.2-6 -2.4-6 -8.8-6.6 -6-0.4 -6 2 -6.5 8 -0.4 6 2.2 6 4.7 4.9 6 2.6zM739 696.4l-3-1 -1.4-2.4 1.1-6 6.3-3.7 3.6 0.7 2.6 3 -1 6 -2.2 2.1z"/>
<path fill="#baff45" d="M985 78.9l-72-5.2 -96-3.6 -33.1-4.1 201.1 0zM826 93.7l-9 1.5 -6-2.9 -3.1-5.3 1.9-6 7.2-4.3 9 2.4 4.4 7.9zM481 99.4l-6 0.9 -2.7-4.3 1.9-6 3.8-2.8 3 0.4 3.2 5.4zM622 486.4l-1.1-0.4 1.1-6 -4.8-9 0.2-3 5.6-9 -10-6.9 -15-7.1 -18-1.1 -3-1.8 -7.9-10.1 3.2-9 -4.3-3.6 -15-4.1 -15 1.4 -12-5.2 -1.9 2.5 -0.3 9 -3.2 6 -8.5 6 -10.1 2.3 -18-2.5 -6-3.1 -5.6-5.7 -1.1-6 1.1-3 20.6-20.7 9-0.5 12 8.9 3-1 4.9-7.7 7.9-24 2.7-18 3.3-6 8.2-7.2 24.8-10.8 -1.9-3 -16.9-10.7 -15 3.4 -8.4-4.7 -1.2-6 2.6-9 -0.8-3 -14.1-21 -14.1-10.7 -5.6-10.3 0.6-6 8-5.9 4.8-6.1 -0.3-9 -4.5-5.1 -6-3.1 -18-2.2 -9-4.3 -4.7-6.3 1.7-5.5 9-2.8 15.7 2.3 3.5-3 5.7-12 11.1-9.4 6-9.3 3-0.7 9 10.7 6 1.6 45-9.6 42 3.1 24 6.5 21-1.5 15-3.6 12 3.6 9.5 8.6 4.4 9 -0.6 9 -3.6 6 -9.6 6 -12.1 3.5 -24-1.4 -6 0.9 -6 6.7 -7.5 17.3 0 3 5.4 9 0.4 6 -4.3 2.3 -9 0 -6 2.7 -3.3 4 2.4 9 -4.8 9 13.5 15 7.2 12 6 0.3 12.3-9.3 44.7-17.1 12-16.1 3-1.7 9-0.6 3-2.7 0.6-12.8 -3.6-13.6 -3-1.6 -12-0.9 -5.8-4.9 -2.6-6 -0.2-6 2.6-7.3 9-5.7 3-0.3 9 13.7 6 3.9 9-2.7 6-6.3 3-0.5 36 45.6 6 1.7 9-3.2 4.1-5.9 1-9 -2.4-15 -8.5-30 3.8-54 5-6 20-9 8.4-15 16.6-15.5 9-3.1 33-3.3 27 0.2 66-5.1 0 315.8 -12 1.2 -5.4 9.8 -6.6 4.3 -3-0.7 -3.2-3.6 -3.2-15 -11.6-2 -18 2.9 -9-1.6 -8-5.3 -5.7-12 -4.3-3.9 -6 0.1 -12 4 -18-8 -15 0.4 -10.4-13.6 -1.7-18 -5.9-16.5 -3-4.1 -6-2 -3.2 1.6 -4.3 6 -10.5 29.1 -6 3.1 -15-1.5 -9 1.6 -11.4 6.7 -3.3 6 -1.8 18 3.2 12 10.3 10.9 15 1.1 3 1.6 6.2 10.4 -0.1 6 -8.7 9 -3.4 1.6 -12 0.4 -39 11.6 -15-1.2 -12 5.4 -21 2.2 -30 0.6 -3 2.3 -2 7.1 -3.2 3 -3.8 2.3 -12 1.7 -2.9 2zM739 198l-9-0.3 -9 3.1 -1.9-2.8 3.9-24 6.7-15 1.5-9 -2-12 -14.4-21 -0.3-3 3.5-3.8 9 0 15 8 12-3 3 1.2 1.9 3.6 -1.2 6 -2.5 3 -7.2 6.6 -9.5 5.4 -2 3 0.5 9 8 14 1.3 7 -3.9 12 -0.4 11.4zM268 132.3l-7-6.3 -0.6-3 4.6-3.8 3 1.4 0.8 2.4 0.8 6zM334 140.7l-3-0.3 -1.3-2.4 1.3-5 3-1.7 3.2 3.7zM439 159.5l-6-1 -2.5-5.5 2.5-6.1 3-2.7 6-1.6 3 1.5 1.7 5.9 -3.1 6zM466 166.5l-3 0.5 -1.9-2 -1.6-6 1.7-9 4.8-5.6 4.1 2.6 1.1 6 -1.9 9zM445 190.6l-9-0.7 -3.5-3.9 1-3 8.5-8.6 4.2 2.6 2.9 6zM409 228.5l-12 1.3 -9-3.2 -3.9-4.6 2-9 2.9-3 5-1.5 12 1.5 7.5 3 3.1 3 0.6 6zM806.6 309l13.4-17.5 12-4 12.7-8.5 -3.7-3.4 -6-2 -15-0.1 -12-2.6 -6 1.4 -4.6 6.7 -1.4 18 3.3 9 2.7 2.7zM244 654.1l-6-0.6 -6-2.9 -15-13.7 -27-14.7 -18-13.4 -22.3-23.8 -19.7-31.3 0-158.3 13.1-11.4 16.9-9.9 51-16.6 6 0.8 12 12.6 18 5.7 30-10.1 9 0.2 9 2.4 15 6.1 9 5.5 12 14.7 18 4.4 9 4.9 21 16.9 14.9 19.4 9.1 21.8 8.2 14.2 7.8 6 20 6.4 8.9 5.6 9.5 15 15.6 15 8 13.7 18 4.1 5.9 6.2 2.7 9 -1.9 9 -6.7 6.7 -6 1.7 -15 0.5 -11.5 9.1 -18.5 8.4 -12.1-17.4 -4.4-21 -1.1-15 -2.3-6 -7.1-4.4 -12 0.7 -6 3.5 -3.6 6.2 -1.3 15 -3.3 12 3.9 21 -7.7 4 -29 8 -3.5 3 0.5 3 8 4 15 2.8 48 3.2 4.3 2 -2.1 3 -23.2 14.6 -15 4.6 -15 7.2 -18 0.3 -18 4.6 -21-7 -9-1.2 -9 1.6 -15 7 -15-0.6 -6-2.3 -6.8-13.8 -5.2-3.2 -3 0.3 -2.6 5.9 2.1 12zM889 456.7l-6 1.3 -3-1.4 -2.3-3.6 0.4-3 4.9-3.6 6 1 2.4 2.6 0.3 3zM430 471.3l-6 2 -9-0.8 -5.6-4.5 0.7-3 7.9-5 9-0.3 6.2 5.3 -0.2 3zM583 477.3l-6-0.8 -5.8-5.5 1.2-6 7.6-4.7 9 3 3 4.7 -1.5 6zM922 667.2l-9 1.2 -21-5 -12-5.7 -12-8.5 -3.4-7.2 1.7-6 4.7-5.4 9-4.6 1.6-5 -1.6-3.4 -12-2.4 -54 21.6 -26.8 5.2 -4 3 -5 9 -3.2 2.7 -12 4 -36 0.4 -9-1.9 -12 5.6 -9 0.1 -12-2.8 -15 5.8 -4.9-4.9 -0.6-3 3.8-6 15.5-15 10.9-3 71-33 12.3-7.4 18-3.3 12 0.3 18-10.1 15 0 27-4.7 6-2.1 4.7-5.7 -0.2-6 -4.5-4.4 -9-1.1 -9 4.3 -3-0.5 -26.4-13.3 -39.6-13 -24-13.4 -6-11.5 -12.2-13.1 -3.4-9 3.6-2.7 12-0.2 5.2-9.1 3.8-1.3 15 2.3 18-1.1 18 1.9 48 14.3 30 17 30 10.6 27.8 19.3 23.2 7.3 9 7.5 0 42.5 -14.5 11.7 -6.5 7.6 -6 2.6 -6-0.3 -18-15.6 -9-4 -18.7 18.7 -1.2 3 1.9 0.7 24 1 18 3.2 12.1 7.1 6.8 9 -1.4 9 -5.9 6 -5.6 2.4 -18 1.9zM592 542.2l-3.6-2.2 0.6-3.2 3 0.4zM775 583.3l-3 0.5 -4.2-1.8 -1.2-3 2.4-3.9 6-1.2 3.4 2.1 0.5 3zM559 663.3l-12 1.3 -12-2.7 -6-3.4 -7.4-7.5 -3.8-9 -0.5-15 -3-12 1.7-9 4-3.9 9-0.5 13.1 10.4 16.9 4.3 20.2 19.7 0.1 6 -4.3 15 -7 5zM853 672.3l-6 1.4 -9-3.6 -4.4-7.1 1.8-6 8.6-3 7.8 3 4.5 9zM586 672.6l-2.2-0.6 2.2-6.3 6-4.8 3 0.5 0 4.6zM673 702.6l-6-0.3 -3-3.2 -2.6-9.1 2.6-12.3 3-4.6 3-1.5 6 6.6 2.7 8.8 -0.8 9z"/>
<path fill="#bfff40" d="M985 73.2l-71.2-1.2 -102.8-6 174 0zM823 94.1l-6 0.2 -6-3.3 -2.2-4 2.4-6 2.8-2 6-0.9 6.8 2.9 2.8 6 -1 3zM655 459.2l-21-0.4 -12-6.5 -9-7.6 -9-4.1 -9-2.1 -15 0.3 -6.3-6.8 1.6-9 -1.7-3 -8.6-4.4 -19.6-4.6 -5.9-6 -3-9 3.9-18 -3.5-18 0.9-6 6.2-7.9 9-4.5 28.1-2.6 1.7-3 -5.3-12 -0.2-6 2.7-7.9 4.5-4.1 -2-3 -5.5-1.6 -24-2.5 -21-9.5 -18-17.8 -14-10.6 -3.2-9 1-3 8.6-9 2.7-9 -2-6 -6.4-9 13.3-20.9 12-2.1 57-21.2 39 4.6 18 7.4 9 1.8 15-5.3 18-2.8 9 3.8 4.9 4.7 3.9 9 -0.7 9 -5.1 7.3 -9 5.1 -9 1.4 -9-1.1 -13.7-6.7 -7.3-8.1 -6.2 2.1 0.4 12 -1.9 15 -6.6 21 -4.6 9 -6.8 6 -1.7 9 -7.2 12 2 6 5.8 6 8.8 5.4 1.5 3.6 -7.5 9.7 -9 20 -3-3.4 -2.7-8.3 -0.3-20.3 -18-0.7 4.8 12 0.6 18 3.6 5.9 6 0.5 9-3.4 6 2.3 12-0.7 12-4.6 19.3-21 8-6 23.7-12 9.3-3 2.7-2.7 5.6-12.3 6.4-4.6 9 3 13.5 1.6 0.9 3 -8.7 3 -1.8 3 2.1 10.6 3 2.3 3-1.3 13.9-20.6 1.7-27 2.4-4.8 3-2 6 0 6 3.8 15 16.9 3 1 9-1.5 5.6-4.4 3-6 0.2-12 -10.2-45 4.4-50.3 3-4.3 22.3-11.4 7.2-15 15.5-14.2 9-3.1 33-3.7 24 0.8 48-3 21 0.8 0 285 -12 6.2 -12 3 -9 0.2 -9-3.6 -3 0.5 -4.2 7.1 -4.8 4.4 -6 2.9 -9 0.3 -6-2.7 -5.1-4.9 -4.6-12 -5.3-4.3 -6 0 -12 3.5 -12-7.4 -18-0.2 -6-2.7 -5.3-6.9 -1.7-18 -5.1-15 -2.9-6.1 -6-5.4 -9 0.4 -9 18.5 -6 6.7 -6-1.5 -15-11.5 -9-1.9 -3 0.8 6.5 12 -1.4 9 -11.1 10.6 -18.6 7.4 9.6 14.5 1 18.5 2.8 6 9.5 9 4.7 2.3 12-0.7 4.2 1.4 -0.2 6 3.9 6 -3.8 9 -4.1 2.7 -12-1 -18 5.7 -24 5 -24-0.8 -15 4.4zM745 132.5l-6 1.1 -9-4 -7.3-6.6 -1.7-7 6-1.4 15 7.1 9-1.3 3 1.3 -1.1 4.3zM439 154.9l-3-0.1 -1.2-1.8 0.5-3 3.7-2.9 3.5 2.9zM466 160.2l-3-0.9 -0.2-3.3 3.2-5.2 1.5 5.2zM445 187.5l-6 1.1 -3.7-2.6 0.8-3 5.9-5.1 3 1.2 1.8 3.9zM481 211.4l-6 0.6 -3.8-2 -1.7-3 2.5-3.3 5.4 0.3 4.3 3 0.8 3zM406 228.1l-9 0.5 -8.8-3.6 -2.5-6 2.3-5.1 3-2.4 6-1 9 1.2 6 2.8 3.2 4.5 -0.4 3 -2.8 3.4zM571.4 216l-0.4-1.1 -1.8 1.1 1.8 1.1zM718 234.1l-6 0.6 -3.9-3.7 -0.7-6 4.6-5.1 6 1.3 2.7 3.8 -0.1 6zM640 258.5l-3-3.6 3-0.4zM810.6 312l6.4-14.6 3-3.1 12-4.1 15.2-8.2 -0.1-3 -2.9-3 -9.2-4 -15-0.7 -12-2.5 -9 2.9 -3.5 10.3 -0.7 21 2.6 6 4.6 4.8 6 1zM568 321.5l-6-1.3 -7.2-5.2 -6.2-9 1.4-3.3 3-1.8 3 0.4 9 7 5.7 9.7zM538 313.2l-6-1.2 0-3 3-2.7 3-0.6 3 2.5zM373 645.1l-60-4.9 -21 2.4 -12-0.6 -9-1.8 -12-9.2 -6-1.8 -4.1 0.8 -3.6 3 -1.3 11.3 -6 0.9 -3.3-3.2 -5.7-21.1 -6-2.9 -12-0.8 -9-3.8 -14.1-10.4 -12.1-12 -17.2-24 -28.6-55.3 0-86 11.5-17.7 12.5-13 20.4-14 39.6-17.8 13 8.8 20 7.1 3 0.4 12-5.6 15-3.6 12 1.3 15 5.1 12 6.9 12 13.3 24 7.9 20.1 15.2 17.1 21 11.1 27 6.2 9 8.3 6 24.2 7.3 9 6.2 9 16.3 10.2 9.2 4.2 6 6.6 18.9 3 1.9 12-2.9 6 3.2 3.8 8.9 -3.8 9.1 -9 3.4 -12-3.8 -3 1 -12.2 14.3 -8.8 5.1 -6 0.3 -6-4.4 -5-7 -4.7-21 -1.7-18 -2.9-6 -3.7-2.2 -9-0.8 -12 4 -4.6 8 -0.4 12 -4.1 15 1.6 21 -7.5 4.1 -27 7.6 -4.1 3.3 -0.1 3 10.2 5.1 38.5 6.9 2.1 3 -19.4 9 -7.7 6 -3 6zM505 435.7l-12 0.3 -9-2.5 -7-4.5 -3.4-6 1.4-5.8 2.7-3.2 12.3-11.4 6-3.2 6 2.3 16.3 18.3 0.4 6 -1.6 3 -6.1 4.7zM961 417.1l-3-1.3 -1.6-4.8 1.6-6.3 3-2.4 3 1 1.8 4.7 -1.1 6zM889 456l-6 1.5 -2.8-1.5 -1.9-3 0.4-3 4.3-3.1 6 1.1 2.2 5zM427 472l-6 0.6 -5-1.6 -3.1-3 0-3 2.9-3 5.2-1.9 9 1.6 2.6 3.3 -0.3 3zM589 474.6l-6 2.3 -6-0.6 -3.5-2.3 -2-6 5.5-5.8 9 0.2 5.5 5.6 0 3zM637 478.2l-9 1.3 -6-2.6 -3.2-5.9 1.4-6 7.8-5.5 9-0.3 3 1.7 3.9 7.1 -0.2 3zM769 657.6l-18 2.2 -33-4.9 -9 3.9 -12 0.9 -13.2-2.7 -2.4-3 0.9-9 2.7-4.4 12-3.4 12-7.1 57-24.1 15-8.5 12-2.4 19.5-1.1 16.5-7.9 12 1.7 21-0.7 31-8.1 -2-3 -8-4.7 -3.5-7.3 -5.5-5 -6-1.5 -12 1.1 -33-15.4 -36-10.1 -21-9.5 -3.9-4.6 -3.3-9 -8.9-9 -2.3-6 3.4-3.7 9-0.8 6-10.6 18 1.4 21-1.8 15 1.6 48 14.7 24.4 14.2 26.6 11.3 27 19.7 28.3 11 6.6 6 3.6 6 0.5 22.6 -4.2 7.4 -7.8 6.2 -15 1.1 -9 2.8 -3-0.8 -9-4.7 -15-12.3 -9-2.9 -2.2 1.6 4.6 9 -0.6 9 -4.6 6 -7.9 6 -7.3 9.9 -6 1.2 -2.7-2.1 -0.3-9 -18-5.8 -6 0.4 -18 10 -27 11.4 -33 10.3 -3 2.6 -5.4 10.1zM559 660.8l-9 1.4 -9-0.8 -9-3.9 -7.3-6.5 -4.2-9 0.3-18 -1.6-9 0.8-5.1 3-3.3 6 0 9 6.5 18 3.2 6 3.5 12.7 13.2 1.9 9 -4.1 12 -4.5 4.1zM922 663.9l-9 0.6 -20.7-7.5 -6.3-4.3 -6-7 -6-2.7 -0.4-4 9.4-1.5 18-7.9 18-2.3 12 0.7 12 2.9 12.6 8.1 1.7 3 0 6 -5.1 6zM847 669.3l-7-3.3 -1.2-3 2.2-3.9 6-0.1 4.2 4 0.3 3zM670 697.3l-3-1.9 -1.7-5.4 1.2-6 3.5-2.7 3.6 2.7 1.4 6 -2 5.9z"/>
<path fill="#c4ff3b" d="M973 69.1l-51 1.1 -81.8-4.2 144.8 0zM823 93.1l-6 0.2 -5.8-3.3 -1.1-6 2.5-3 7.4-2.2 6 2.5 2.8 5.7 -1.1 3zM922 399.5l-9-1.1 -6.5-5.4 -5.3-18 -3.2-2.9 -9-1.2 -12 4.9 -9-7.7 -21 1.9 -6-3 -3.2-4 -1.2-18 -2.7-9 -6.5-15 -9.2-9 -1.7-6 4.6-9 13.9-5.6 14.8-9.4 -3.7-6 -8.1-4.5 -21-2.9 -10.4-4.6 2.5-9 0.1-9 -9.9-45 3.5-48 4.5-9 22.8-12 5.8-15 11.1-10.7 9-4.7 39-5 24 1.5 45-2.1 21 2.3 0 261.5 -12 11.3 -12 6.3 -9 1 -12-3.6 -3 1.6 -1.5 10.6 -2.7 6 -4.8 4.4zM739 129.6l-9-3.1 -5-6.5 2-1.8 3 0.3 8 4.5 3.1 3 -0.6 3zM607 300.4l-9 1.1 -2.5-1.5 -0.9-3 -11.6-4.8 -2.2-4.2 0.4-6 -4.2-4.5 -5.2 1.5 -2.8 9 -4 2.9 -30-6.2 -30-23.2 -4.2-6.5 0.3-6 8.5-12 2.3-12 2.1-3.1 8-2.9 1.1-9 3.9-6 8-5.3 13.9-3.7 4-6 4.6-3 19.5-11.2 6-1.6 9 0.5 12 3.8 18 1.4 13 7.1 4.4 6 -5.4 5.6 -11 6.4 -1.4 3 9.4 13.9 2.8 13.1 -10.1 24 -6.7 9 -3.5 9 -13.2 18 6.7 3zM685 214.3l-15 1.1 -11.1-5.4 -6.4-12 0-6 2-3 9.5-6.5 12-2.9 9 1.3 6 4 4.9 7.1 0.7 9 -4.9 9zM442 186.8l-3.4-0.8 0-3 3.4-2.3 2.6 2.3zM574.4 219l-0.9-15 -11.5-6.2 -9-1.4 -2.9 1.6 4.2 9 13.7 13.9 3 0.8zM409 225.5l-6 2 -9-0.9 -6-4.6 -0.4-3 1.2-3 5.2-3.4 12 0.8 4.9 2.6 2 3 -0.3 3zM787 309.5l-9-6.4 -2.9-6.1 -1.4-9 -8.5-9 0.8-6.7 9-7.9 3-0.1 7 5.7 8.8 3 -0.2 12 -3.6 22.6zM652 456.1l-24-3.8 -6.7-5.3 -5.3-7.9 -12-5.3 -6-1.1 -12 3.4 -6.2-1.1 -2.6-3 0.8-9 -1.2-3 -5.8-4.9 -14.5-7.1 -4.6-6 -1.4-9 3.5-12 -1.1-3 -5.9-3.7 -3.8-5.3 -2.1-9 0.7-6 8.2-8.1 12-3 18 3 18 10.7 36-2.9 9-2.3 6-4.9 21-28.6 24-17.5 12-3.7 6-15.7 3-3.2 6-0.8 5.7 5 1.7 9 -0.5 15 9 9 1.5 12 18.6 6.8 5.7 5.2 2.6 6 -0.9 6 -7.4 7.8 -9 3.6 -15 0.8 -6 2.8 -1.9 15 1.9 1.4 9-1.4 6 2.6 2.8 6.4 -0.6 12 2.6 6 16.2 13.3 15 0.5 0.7 1.2 -7.2 6 -0.2 3 7.7 3 1.7 3 -2.7 3.6 -3 0.1 -6-3.4 -18 6.8 -30 5.6 -21-1.4 -15 3.1 -12-3.8 -9 5.1zM748 303.8l-2.3-3.8 0.6-3 4.7-6.8 3-1 1.9 1.8 -0.7 6 -4.2 5.5zM565 318.3l-7-3.3 -2.6-3 -0.7-3 1.3-1.3 3 0.2 5.6 4.1 1.8 3zM616 321.1l-3 1.7 -1.6-4.8 1.6-8.2 3-2.6 4.5 1.8zM589 327.8l-3 1.3 -4.8-5.1 -0.1-6 1.9-3.4 3-0.8 4 4.2 0.6 6zM370 642.1l-27-5.5 -51-0.2 -21-3.2 -21-9.5 -12-1 -9-7.1 -18-6.7 -12.4-8.9 -14.6-15 -14-21 -28.5-54 -7.1-18 -3.5-18 1.1-21 5.7-18 12.8-21 15.5-15.8 15-10.5 33-17.3 24 5.3 12 6.8 12-6.6 9-1.7 12 0.2 15 3.9 12.4 5.7 16.6 15 25 8.6 18.2 15.4 14.5 18 12.4 30 4.6 6 13.3 7.8 24 6.4 9.1 6.8 6.6 15 12.6 12 5.8 12 2 18 -3.8 12 -11.3 13.6 -9 3.7 -6-1.2 -6-5.6 -1.8-4.5 -7.5-42 -3.6-3 -8.1-1.1 -9 0.7 -6 2.6 -3.5 3.8 -2 6 -0.1 12 -4.5 15 1.3 18 -1.1 3 -8.1 4.3 -19.3 4.7 -10.4 6 -0.6 3 3.5 3 30.5 9 1.8 3 -14.5 9.2 -2.7 8.8zM502 435l-9-0.1 -9-2.7 -4.7-3.2 -3.5-6 2.2-6.3 15-11.8 6 0.3 12.9 11.8 3.6 6 -1.4 6 -3.1 2.8zM886 457l-4.8-1 -2.4-3 0.5-3 3.7-2.6 3-0.1 4.3 2.7 0.4 3zM427 471.3l-9-0.5 -3.3-2.8 -0.2-3 6.5-4.3 8.3 1.3 2.6 3 -0.3 3zM637 477.2l-9 1.6 -6-3.1 -2.5-4.7 2-6 9.5-4.9 9 3.4 2.7 7.5 -1.3 3zM586 476.1l-6 0.6 -6-2.7 -2.2-6 2.2-3.3 6-2.6 6 0.7 2.8 2.2 2.3 6zM970 597.2l-27 0.4 -21-17.5 -36-11.4 -12-10.3 -18-2.6 -36-17.2 -18-3.2 -33-11.6 -5.6-4.8 -2.2-9 -7.9-9 -0.8-3 1.5-2.3 9-1 3-9.2 3-3 15 1.1 21-2.1 21 2.3 42 13.4 22.1 12.8 25.3 12 26.4 21 34.2 14.9 5.9 9.1 1.4 12 -4.7 12zM493 565.6l-6-0.1 -4.4-4.5 0.8-6 6.6-4.7 6 1.7 2.6 6 -2.6 6zM766 657.4l-15 1.4 -33-6.4 -12 3.2 -9 0 -9-4.5 -3-6.1 3-4 9-1.5 12-8.3 60-24 15-9.2 38.7-4 9.3-4 30 5.4 18-8.5 12-1.9 12 2.6 6.7 6.4 0.4 9 -4.1 5 -6.6 4 -2.7 3 -1.9 6 -3.8 2.1 -3.4-2.1 2.9-6 -2.5-1.9 -27-11.4 -23.8 16.3 -30.2 13.2 -27 9.3 -6 11.9zM553 660.3l-15-1.4 -8.2-4.9 -5.1-6 -3.1-12 4.4-23.6 33 6.4 14.2 14.2 1.7 9 -3.9 9.7 -6 5.1zM925 660l-6 2 -6-0.4 -16-7.6 -6.4-6 -0.1-6 4.5-4.7 6-3.2 15-3 18 1.5 13 6.4 3 6 -3 6z"/>
<path fill="#c9ff36" d="M955 66.3l-33 1.5 -50.7-1.8 86.1 0zM826 90.8l-6 2 -6-1.4 -3.4-4.4 0.4-3 6-4.3 6 0.5 4.5 3.8 0.6 3zM925 397.9l-9 0.6 -8.5-5.5 -3.2-9 1.2-15 -7.5-4.7 -12-2 -6 3 -9-6.2 -18 8.9 -6-0.2 -6-3.5 -2.9-7.3 2-12 -0.8-6 -10.1-21 -6.5-9 -1.2-6 1.9-3 26.8-15 1.7-3 -4-6 -6.9-4.5 -24-5.2 -5-2.3 -1.5-3 -0.5-18 -9.3-42 4.8-51 5.5-6.5 21-9.2 2-11.3 3.3-6 12.7-11.4 9-3.3 36-5 24 2.2 45-1.5 21 4.1 0 237.8 -8 14.1 -10 9.5 -12 4.9 -15 1.1 -6 2.3 -0.9 18.2zM595 291.7l-7.1-0.7 -2.8-3 -1.2-9 -6.9-4.4 -6 1.7 -6 7.3 -3 1.3 -27-4.1 -25.8-19.8 -3-3 -2.3-6 10.1-20.2 3-2.5 12.6-4.3 1.9-3 0.6-12 5.9-5 6 0.8 24 18.9 6-1.3 6-12 4.8-4.4 -0.7-3 -18-9 -3.7-3 0.1-3 13.1-12 7.4-2.7 9 0.3 12 4.6 18 1.9 10.2 7.9 0.2 3 -2.3 3 -8.1 4.1 -12 2.4 -9-0.5 -8.3 3 1.4 3 15.9 6.4 12 7.7 6 6.7 2.1 6.2 -1.6 6 -11.9 21 -6.6 10.7 -7.8 7.3 -3.5 9zM682 213.5l-12 0.2 -10.6-6.7 -3-6 -0.6-6 2.7-6 3.2-3 8.3-3.8 9-0.9 6 1.9 6.9 5.8 2.8 9 -1.3 6 -4.7 6zM406 225.4l-6 1 -6-1.1 -3.9-3.3 -0.5-3 4.4-4.6 12 0.6 4.6 4 -0.3 3zM655 453.2l-27-3.9 -3-2.6 -5.2-11.7 -15.8-8.5 -6-1.2 -10.6 6.7 -5.4 0 -1.7-3 0.3-9 -10.7-12 -4.1-9 2.3-24 -4.8-3 -13.3-0.8 -3-2.1 -2.7-9.1 0.9-6 7.8-6.7 12-1.9 12 3.4 6 5.2 4.1 9 13.9 5.9 3.6 0.1 8.4-5.3 6-1.3 15 2.8 12-1.5 4.3-3.7 9.8-21 9.9-12.7 24.7-23.3 12.3-3 5.8-18 5.2-3.7 3 0.7 3.4 3 2.3 9 -0.8 9 -3.8 12 7.9 1.2 2.2 1.8 0.3 9 2.9 6 12.6 2.3 9 4.1 5.1 5.6 0.8 6 -2.9 6 -9 5.8 -27 2.5 -0.9 9.7 -5.1 12 0.7 9 5.5 6 11.8 0.7 9.3 11.3 19.9 15 -0.4 9 -4.8 4.1 -9 3.7 -33 5.7 -15-1.6 -18 2.1 -6-2.3 -9-8.1 -3 2.1 -0.7 6.3 -2.3 2.9zM787 295.7l-3 0.3 -2.1-2 -0.9-6 3-7.8 6-1.8 0.9 9.6zM364 636.7l-21-5 -57-1 -15-2.9 -21-8.4 -12 0.2 -9-8 -19.6-11.6 -17.9-18 -11.8-18 -30.6-57 -6.2-15 -3.8-18 1.2-21 6.3-18 11.7-18 15-15 13.7-9.6 33-18.2 15 1.3 5.5 2.5 5.8 6 3.7 0.8 11.4-6.8 6.6-1.6 12 0.7 18 4.8 12 5.7 15 12.4 9 3.8 12 2.3 11.1 7.9 23.3 27 12.3 30 4.3 6.4 16.6 8.6 22.4 4.8 11 7.2 3.4 6 2.2 9 12.8 12 6.1 12 1.6 18 -5.7 15 -7.4 8 -6 3.2 -6 0.7 -6-2.7 -3.8-6.2 -4.7-18 -1.5-21 -2-5.3 -3-1.9 -9-1 -15 2.6 -6.1 8.6 -0.1 15 -4.8 15 0.8 15 -1.7 6 -6.1 3.6 -21.1 5.4 -10.1 6 -1.2 3 5.4 4.6 18.8 7.4 0.7 3 -6.7 6 -3.8 9zM705 387l-5-6.3 -3-1.4 -4.2 1.7 0 3 4.2 3.8 6 1.1zM736 397.9l-3.2-4.9 3.2-3.6 3.2 3.6zM505 433l-9 1.1 -9.4-2.1 -7.6-6 -0.6-6 2.6-3.5 9-6.2 6-1.5 3 1.2 9.2 7 4.3 6 -1.2 6zM886 456.5l-3.9-0.5 -2.7-3 0.6-3 3-2.1 3-0.2 3.7 2.3 0.5 3zM424 471.3l-8-3.3 -0.3-3 2.3-2.2 9-1.3 4.3 3.5 -1.3 4zM634 478l-6 0.2 -6.6-4.2 -1.1-6 4.7-5.2 9-1.2 3 0.9 5 5.5 -1.6 6zM586 475.7l-6 0.8 -5.6-2.5 -2.2-3 1.8-5.7 6-2.9 8.3 2.6 2.3 6zM970 594.2l-21 1.1 -6-1.1 -21-18.3 -36-9.8 -11.5-8.1 -18.5-4.3 -39-19.9 -15-0.6 -33-10.7 -4.3-3.5 -1.3-6 1-9 2.9-3 1.7-14.7 3-1.6 48-0.7 27 6.9 24 9 42 22.8 27 23 15 5.3 9 6 10.8 4 5.1 9 0.6 9 -3.3 9zM490 559l0-1.7 1.7 0.7zM901 609.1l-6 1.9 -12-2.1 -9-5.9 -1.8-6 4.8-5.3 6-2.8 9-1.4 9 1.8 6.2 4.7 1.8 6 -3.3 6zM763 657.3l-12 0.5 -33-7.2 -21 2 -6-2.5 -3.6-5.1 2.9-3 9.7-1.5 3.9-4.5 8.1-5.1 58.6-21.9 10.4-8.4 6-2.4 48-2.8 11.8 4.6 -0.2 6 -5.6 6.2 -30 15 -31.9 11.8 -2.9 3 -1.6 9 -5.6 4.5zM559 657.8l-9 1.7 -9-0.9 -12.5-7.6 -3.9-6 -1.5-9 1.7-9 4.2-7.9 15-2.2 12 1.5 6 3.3 8 8.3 3.3 6 -0.5 9 -4.8 7.8zM925 657.2l-9 2.6 -6-2.5 -12.1-9.3 0-6 6.1-4.6 12-3 12 0.6 10.8 4 3.1 3 0.1 6 -3.1 3z"/>
<path fill="#cfff30" d="M823 91.7l-9-1.1 -2.6-3.6 0.5-3 5.1-3.6 6.1 0.6 3.6 3 0.7 3zM925 397.1l-9 0.9 -7.7-5 -3-6 -0.2-6 8.1-15 -3.2-3.5 -12-6 -30-9.2 -3.4 0.7 -3.5 12 -5.1 4.8 -9 1.1 -6-5 0-9 7.8-9.9 -0.4-3 -13.4-18.3 -6.1-11.7 -0.5-6 24.6-17.7 0.9-3.3 -4.3-6 -5.6-4.3 -9-4 -16.7-3.7 -4.2-3 -11.6-54 2.7-48 4.3-12 13.5-8.2 12.4-0.8 -0.3-12 1.8-6 4.6-6 8.5-6.9 6-2.6 33-6.1 9-0.3 21 2.8 45-1 21 7.3 0 204.9 -8.7 26.9 -6.6 12 -5.7 4.2 -9.7 1.8 -11.3 7.1 -13.4 4.9 3.4 12 0.1 6 -2.9 6zM613 198.4l-30 0.3 -9.8-3.7 -3.8-3 -0.4-3 5.2-9 3.6-3 5.2-1.9 9 0.3 12 5.5 15 1.2 7 3.9 1.9 3 -0.3 3 -5.6 4zM685 210.7l-12 2.1 -9-3.8 -4.3-5 -1.6-6 3.1-9 5.8-4.2 9-2.1 6 0.9 6 3.6 4.6 7.8 0 6 -3.1 6zM400 225.2l-7.6-3.2 -0.5-3 2.1-2.5 9-0.9 5.1 3.4 -0.2 3 -1.9 1.5zM562 280.6l-27-3 -21.2-16.6 -6.1-9 1.2-6 5.3-9 5.8-4.2 13.6-4.8 7.4-10.2 3-1.4 12 4.3 12 9.6 6-2.3 9-11 6-1.6 9 1.6 25.1 11 3.2 6 -1.3 5.6 -21 28.4 -12 7.7 -18-3.7zM595 288.2l-3 1.3 -3-1.1 -1.4-3.4 1.4-5.5 3-3 3.8 5.5zM718 307.1l-6-1.6 -1.7-11.5 2-9 5.7-5.2 4.5 2.2 3.1 9 -1.6 9.4zM655 450.6l-25.3-3.6 -2.5-3 -0.8-9 -10.4-6.5 -17.2-14.5 -6.8-13.1 -12-6.5 -3-3.6 -2.7-6.8 0.7-6 5-6 6-1.5 6 0.6 15 5.4 6-8 6-2.6 6 1.9 6 8.1 3 1.2 9 0.3 6-2.1 7.2-6.3 3.4-21 6.9-12 21.5-18.4 6.9-11.6 5.1-3 6 0.9 4.8 2.1 1.4 9 8.8 12 6-0.8 9 6.3 12 1.2 6 2.4 6.2 5.9 1.2 3 -1 6 -3.4 4.2 -9 4.4 -27-1 -1.6 1.4 2.5 9 -1.4 6 -5.5 7.3 -3 1.5 -6-1.5 -9-7 -3-0.6 -10.1 3.3 -4.9 3.9 -12 0.6 -4.2 4.5 1.3 3 5.9 3.6 15-2.8 27 5.7 21 8.3 26.6 21.2 2.1 6 -4.7 5.9 -7 3.1 -32 5.5 -33-0.2 -18-11.2 -2.8 2.9 -1.6 9zM574 366.2l-9 1.6 -15-1 -2.6-6.8 1.1-6 4.5-4.2 6-2 12 1.3 6 4.1 2.1 3.8 -1.4 6zM358 630.4l-15-3 -27 1.1 -24-1.3 -21-3.9 -21-7.6 -12 0.6 -6-7.4 -21-14.9 -13.8-15 -39.2-69 -8.4-18 -4.1-18 0.7-18 6-18 9.3-15 10.9-12 17.6-13.5 21-10.7 3-2.6 2.9-6.2 3.1-1.9 6-1.1 9 1.1 4 1.9 4.2 6 6.8 2.6 6-1.9 3.3-3.7 5.7-2.6 15 0.5 27 10 21 14.7 21 5.2 8.7 8.2 18.6 24 6 12 7.4 21 4.2 6 15 6 24.1 4.6 9 4.1 6 6.3 4.6 15 10.4 8 4.9 7 3.9 15 -1.6 15 -4.6 9 -5.6 5.9 -6 3.2 -6 1.1 -6-2.7 -3-5 -5-17.5 -1-22.3 -1.6-4.7 -4.4-2.7 -12-0.5 -9 0.9 -6 3 -4.1 8.3 0.4 15 -5.2 15 0.4 15 -2.2 6 -4.9 3 -21.9 6 -10.2 6 -1.7 3 4.4 5 12.8 7 0 3 -3.8 5.6zM502 432.4l-9 0.2 -9-3.6 -2.9-3 -0.3-6 6.2-5.6 6-2.2 9 2.8 5.9 5 2.1 6 -2 3.4zM886 456.1l-3-0.2 -3.1-2.9 0.7-3 2.4-1.7 6.1 1.7 0.5 3zM430 468.3l-3 1.8 -6 0.2 -3.9-2.3 -0.3-3 4.2-3 6 0 3.6 3zM586 475.4l-9 0.1 -4.5-4.5 0-3 4.5-4.7 9 0.4 4.1 4.3 0.1 3zM634 477.3l-6 0.2 -5.8-3.5 -1.3-6 4.1-4.6 9-1.2 3 0.9 4.3 4.9 -1.6 6zM970 591.4l-24 1.1 -6-3 -12-13.3 -5.1-3.2 -33.9-7.8 -15-8 -15-3.8 -28.5-13.4 -16.5-11.3 -6 2.3 -6 0.1 -33-10 -3-2.2 -1.1-5.9 6.4-9 -0.6-15 4.3-2.1 45-1.6 24 5.6 24 8.7 42 23 30 26.4 12 3.5 9 6.1 12 4.2 4.4 7.2 0.7 9 -2.1 6.2zM901 606.9l-9 2 -9-2.2 -5.1-3.7 -1.3-6 3.4-3.9 6-2.7 12 0.1 5.9 3.5 2 3 -0.6 6zM760 657l-12-0.6 -16.4-5.4 -25.6-2.4 -9 1.3 -5-1.9 -1.7-3 9.7-1 5.8-8 6.2-4.2 24-7.1 39-15.5 4.4-6.2 7.6-4 36-1.2 11.4 2.2 4.9 3 -0.4 6 -6.9 5.5 -36 16.9 -21.2 7.6 -1.5 12 -4.3 3.5zM556 657.7l-15-0.1 -7.6-3.6 -6-6 -2.7-6 -0.3-9 3.6-9 4-3.9 12-2.1 12 1.1 6 3.4 7.1 7.5 3.7 9 -2.6 9 -5.2 5.7zM919 657.3l-6-1 -5.7-5.3 -3.1-6 1.5-3 5.1-3 8.2-1.4 9 1.2 5.9 3.2 1.5 3 -1.3 3z"/>
<path fill="#d4ff2b" d="M823 91l-8.6-1 -2.2-3 0.5-3 4.3-2.9 6 0.5 3 2.4 0.7 3zM928 363l-6-1 -27-15.4 -36-14.6 -12-7.7 -6-6.1 -5.3-9.2 0.6-6 17-15 2.6-3 -0.1-3 -4.2-6 -7.6-5.8 -24-8.7 -3-2.5 -13-49 -0.7-15 2.8-33 4.9-14.1 6-4.8 9-3.7 9 2.2 4-0.6 -1.4-18 3.4-6.3 9-7.8 9-3.4 30-6.3 9-0.3 24 3.6 24 0.7 18-1.3 12.3 6.1 8.7 8.6 0 173.6 -9.4 18.8 -4.8 24 -4.7 12 -5.1 4.4 -9 3.4 -12 8zM616 195.5l-9 1.1 -26.3-1.6 -5.4-3 -1.5-3 0.4-6 5.5-6 6.3-1.6 8.4 1.6 9.6 5.5 12 0.7 6.4 2.8 1.8 3 -1 3zM682 210.6l-9 0.9 -9-4.5 -4.1-9 1.3-6 2.8-3.5 6-3.4 6-1.1 6 1.1 6 4.3 2.9 5.6 0 6 -3.4 6zM403 222.9l-6-0.1 -2.2-3.8 5.2-1.8 3 0.6 2 1.2 -0.2 3zM562 276.8l-24-1 -9-5.1 -16.3-15.7 -1.2-6 4.3-9 4.2-3.4 15-4.9 12-6.6 6 0.6 9 6.8 6 2.4 6-1.1 9-8.8 6-1.6 12 2.9 15 1.2 5.3 3.5 1.3 3 -1.9 6 -10.9 9 -8.8 10 -9 0.7 -7.3 7.3 -13.7 1.4zM899.7 231l2.2-3 -3.9-1.8 -3-0.5 -3.7 2.3 0.7 4.5 3 1.4zM574.2 261l1.1-3 -1.3-3.8 -3-0.7 -2.6 1.5 -1.4 3 1 4.1 3 1.5zM718 304.2l-3-0.8 -2.4-3.4 -1.2-6 2-9 4.6-3.8 5.1 3.8 1.5 6 -1.9 9zM712 381.4l-6-0.9 -9-7.8 -3-0.8 -24 1.6 -5.2-4.5 -3.4-9 0.2-9 5.4-11.2 9-8.6 17.4-10.2 2.5-12 4.1-3.4 3.6 0.4 2.9 3 0.1 12 11.4 13.7 9-4.2 9 3.3 12 1 8.2 4.2 3.7 6 -0.8 6 -2.4 3 -8.7 4.8 -15 0 -15-4.9 -4.1 0.1 -1 3 7.4 9 0.3 6 -2.6 5.1zM568 364.1l-15-1 -2-3.1 1-6 4-3.1 6-1.2 9 2.4 3.6 4.9 -0.7 3zM853 363.8l-6 0 -4.2-3.8 0-6 4.2-4.5 6-0.6 5.2 5.1 -0.6 6zM619 378.2l-3-1.1 -1.5-5.1 4.5-3.4 5 3.4 -2 5.3zM925 396.3l-9 1.2 -6.9-4.5 -3.1-6 -0.1-6 2.8-6 7.3-5.6 9 0.6 7.2 11 -1.2 9zM598 390.2l-9 1 -6-2.2 -4-5 0.7-6 6.3-3.7 9 1.7 6.6 8 -0.2 3zM352 624l-39 1 -21-1.4 -18-3.3 -24-8.2 -9-1.5 -22.5-16.6 -14.4-15 -43.2-75 -7.6-18 -2.7-15 1.1-15 4.9-15 9.2-15 14.3-15 12.9-9.5 21-10.7 4.6-3.8 -0.8-6 2.2-3.3 6-2 9 1.1 5 4.2 1 3.1 6 3.2 6 0.8 3.6-1.1 5.2-6 3.2-1.5 12-0.1 27 10.2 24 15.9 15 1.9 6 2.4 7.5 7.2 17.7 27 13.8 36 6 4.6 36 6 11.3 4.4 5.8 6 3.1 15 9.8 6.6 6.8 8.4 4.2 15 -0.4 9 -2.8 9 -7.8 10.3 -6 3.3 -6 0.9 -5.7-2.5 -2-3 -5.7-18 -1.6-27.3 -3-2.9 -6-0.8 -18 0.4 -6 2.2 -4.7 7.4 0.4 18 -5.6 15 -0.6 18 -4.5 4.6 -21 6.2 -13 7.2 -2.4 3 0.6 3 10.9 9 -2.1 4.6zM724 444.3l-39-0.3 -27-17 -21-4 -3 0.4 -3.2 5.6 -5.8 1.4 -8.3-4.4 -5.3-6 -2.5-6 0.4-6 6.7-11.4 9-2.7 27-1.3 18 5.4 18-1.6 27 4.2 21 9 16.9 13.4 4.8 6 -1.5 6 -4.3 3zM505 429.3l-9 2.3 -9-2.4 -3.6-3.2 0-6 6.6-4.6 9 0.5 8 7.1 0.4 3zM655 447.6l-4.2-0.6 -2.8-3 2.5-6 4.5-2 3 0.4 3.2 4.6 -0.3 3zM889 453.2l-3 2.3 -3-0.1 -2.5-2.4 0.8-3 4.7-1.4 2.4 1.4zM427 469.5l-6 0.1 -2.7-1.6 -0.5-3 3.2-2.3 6 0 3 2.3 -0.6 3zM586 475.1l-9 0.2 -4.2-4.3 0.1-3 4.1-4.3 9 0.5 3.6 3.8 0.2 3zM631 477.4l-8.3-3.4 -1.1-6 3.4-4.1 9-1.4 4.6 2.5 2.3 6 -3.9 4.8zM970 588.8l-6 1.9 -18-0.7 -6-3.5 -9-11.3 -6-4.4 -36-7.3 -33-13 -27.6-13.5 -13.5-12 -3.9-8.9 -3-1.3 -1.1 1.2 1.1 9 -3 3.8 -6-0.1 -18-7 -12-2 -2.8-3.7 2.7-6 4.3-3 -1.1-15 2.9-2.9 15-2 30-0.6 27 6.2 24 9.4 40.1 22.9 25.9 25.5 15 4.5 21 11.2 2.9 6.8 -0.1 6 -2.2 6zM898 606.2l-6 0.9 -6-1.1 -4.6-3 -1.3-6 2.9-3.1 6-2.1 9 0.9 5.2 4.3 0.6 3 -1.3 3zM766 655.1l-15 1.2 -15-5.7 -27-3.9 -3-1.9 -0.8-5.8 2.1-3 7.7-4.6 21-4.8 39-15 3.9-2.6 2.2-6 8.9-4 30-0.4 13.8 4.4 1.9 3 -0.8 3 -5.9 5 -36 17 -21 7 -1.1 1 2.3 9 -1.2 3zM553 657.5l-15-1.8 -9.5-7.7 -3.5-12 2.6-9 4.4-5.1 12-3.3 12 1.3 6.8 4.1 7.4 9 1.6 6 -2.7 9 -7.1 6.5zM919 654.4l-4.2-0.4 -4-6 0.5-3 4.7-3.1 6 0.2 4 2.9 -2.6 6z"/>
<path fill="#d9ff26" d="M823 90.4l-7.3-0.4 -2.7-3 0.6-3 3.4-2.2 6 0.5 3 4.7zM937 357.8l-9 0.6 -6-2 -24-17.8 -33-14.9 -15-10.2 -3.7-4.5 -0.9-6 5.5-9 6.4-6 0.6-6 -4.9-6.8 -9-7.2 -24-11.3 -9-23.4 -4.8-17.3 -1.8-15 4.2-45 5.3-9 9.1-5.2 6-0.6 9 4 4.5-1.2 -3-15 0.6-6 5.9-9 10-5.8 36-8.7 30 4.8 24 1.4 15-2.1 10.4 4.4 4.6 6 3.8 9 5.2 17.7 0 120.2 -1.8 15.1 -4.1 12 -12 18 -2.8 27 -3.3 9zM616 193.1l-9 1.5 -24-2.1 -5.2-3.5 -2-6 1.3-3 4.7-3 10.2-0.1 12 7.6 14 1.5 2.3 3zM679 210.1l-9-0.7 -4-2.4 -4-6 1-9 7-5.6 6-1.1 6 1.3 3.8 2.4 3.7 6 -1.4 9 -3.1 3.4zM899.2 234l4.8-2.7 6.3-0.3 2.3-3 -14.6-4.2 -7.3 1.2 -2 3 0.9 6 5.4 2.4zM559 273.5l-18 0.1 -8-3.6 -16.1-15 -1.4-6 2.4-6 5.1-3.9 24-7.4 6 0.7 12 6.2 6 0.7 15-5.7 21-3.8 9 0.8 2.9 3.4 -0.3 3 -5.6 5.4 -30 14.4 -9-7.5 -6 1.6 -4.5 7.1 0.4 12zM721 300.3l-3 1.8 -3-1.2 -2.6-6.9 2.1-9 3.5-2.5 3 1.3 2.1 4.2 0.4 6zM700 313l0-2.3 1.6 1.3zM715 378.9l-3 1.4 -6-0.7 -9-9.5 -18 0.6 -11.1-4.7 -3.6-6 -0.7-6 1.3-6 5.1-8.3 12-8.4 12-2.7 9 2.3 12 9.3 3-0.1 9-7 21 2.7 9 5.6 1.9 3.6 -1 6 -3.9 4.1 -9 3.4 -18-2 -12-7.4 -6 1.9 -1.4 6 7.4 3.6 5.2 8.4 -1.6 6zM568 360.2l-9 1 -2.9-1.2 -1.3-3 4.2-4.2 6-0.2 3.3 1.4 1.6 3zM853 360.9l-3 1 -4.3-1.9 -0.9-3 2.2-3.7 3-0.9 3.8 1.6 1.3 3zM922 397.1l-6-0.1 -6-3.8 -3.8-9.2 3.8-9 9-4.8 3 0.4 6 4.1 3.9 9.3 -3.3 9zM328 621.3l-27 0 -27-4.4 -30-10.8 -18-11.4 -12-11.1 -10.2-13.6 -17-33 -25.3-42 -5-15 -1.4-12 1.3-12 5.2-15 9.9-15 11.9-12 12.6-9.2 18-8.9 3-2.8 5.8-6.1 -2.9-6 3.1-3.7 6-1 6 1.2 6 8.1 12 4.1 6-1.5 6-7.5 12-0.3 27 10.7 15 11.6 9 4.6 15 0.9 6 2.5 6.4 6.3 5.6 12.4 11.3 17.6 13 36 8.7 5.7 33 1.9 13.1 4.4 3.8 3 3.4 6 0.4 12 12.3 7.9 7.3 10.1 2.9 15 -3.4 15 -9.8 10.9 -9 2.2 -6.5-4.1 -6.4-18 -0.2-24 -1.9-6.3 -6-1.5 -18-0.1 -9.8 1.9 -3.1 3 -2.1 5.8 1.2 18.2 -6.1 15 -1.1 18.1 -6 4.9 -18 5.2 -14.4 7.8 -3 3 -0.4 3 3.9 6 -1 3zM592 386.1l-6-0.3 -3-4.9 3-3 6 0.8 2.4 2.3 0.2 3zM733 441.6l-15 1.8 -33-1.1 -24-16.5 -15-7.3 -3.3-4.5 0-3 4.2-6 8.1-3.6 36-2 27 4.2 18 8.4 13.8 11 4.4 6 0 3 -3.2 3.7zM625 426.9l-7.9-3.9 -2.5-6 1.4-2.3 6 0.9 4.3 4.4 1.1 3zM499 429.8l-6 0 -6-2.9 -2-3.9 1.4-3 6.6-2.9 8.6 2.9 2.9 6zM886 455l-4.9-2 1.9-3.8 4.7 0.8 0.8 3zM427 468.9l-6 0 -2.1-3.9 5.1-2.2 3 0.6 2.1 1.6zM586 474.8l-9 0.2 -3.9-4 0.1-3 6.8-4.8 6 1.4 3.1 3.4 0.2 3zM637 475.4l-6 1.5 -6-1.3 -3.2-4.6 0.3-3 5.9-5 9 1.2 3 3.8 0.3 3zM964 588.8l-15-0.3 -6-2.3 -15-17.5 -39-6.5 -27-10.2 -27-12.8 -14.5-11.2 -8.1-12 -4.4-3.5 -3.1 0.5 0.1 12 -3 2.1 -9-1.8 -12-6.5 -9 0.1 -3-1.5 -0.2-4.4 6.2-3 0.8-3 -1.9-12 1.1-3 15-4.1 33-0.1 24 5.6 21 8.2 41.1 23.4 27.9 29.1 15 3.2 18.8 9.7 3 6 -0.1 6 -3.7 7zM898 603.9l-6 1.4 -6-1.6 -3.1-3.7 0.7-3 5.4-3.2 9 1.3 3.1 4.9zM766 654.4l-6 1.6 -9-0.3 -15-6.4 -24-3 -5.3-4.3 0-3 8.3-6.9 25.7-5.1 38.6-15 2.4-3 0.7-6 7.6-3.4 30 0 9 2.7 3.8 3.7 -0.6 3 -6.2 5 -18 6.7 -18 10 -20.4 5.3 -2.3 3 4.7 9 -1.1 3zM550 657l-12-2.1 -6-4.1 -4.4-5.8 -1.6-6 1.2-9 4.1-6 3.7-2.5 12-2.4 9 1.5 6 3.4 7.5 9 1.2 9 -2.7 6 -9 7.1z"/>
<path fill="#deff21" d="M820 90.5l-3-0.5 -3.3-3 0.8-3 2.5-1.5 7.3 1.5 0.9 3zM934 354.3l-6-0.4 -6-3 -24-23.8 -27.1-12.1 -12.7-9 -2.5-6 5.4-12 -2.3-9 -11.8-11.7 -21-11.5 -6-5.9 -9-20.2 -4.4-16.7 -1.2-18 1.8-24 1.8-12 4.1-9 6.9-5.4 6-1.8 24 10.9 1.2-0.7 -8.8-21 0.1-6 4.2-9 8.9-6 33.4-10.5 12 0.1 18 5.4 24 2.6 21-2.4 3.6 1.8 4.9 6 4.1 15 0.9 18 -4.5 13.2 9 10.3 3 13.3 -0.3 35.2 -7.8 39 1.1 21 -3.9 9 -16.1 18 2.3 18 -4.2 15 -9.9 9zM610 192.1l-24-1.5 -6-2.6 -2.7-5 1.1-3 4.6-2.7 9 0.4 4.3 2.3 4.7 6.1 14.3 2.9zM682 207.9l-9 1.1 -7.9-5 -1.8-9 3.7-5.4 6-2.8 6 0 7.6 5.2 1.4 9zM898.2 237l5.8-4 9 0.1 3-1.4 1.2-3.7 -7.2-4.3 -18-1.6 -5.2 5.9 0.2 6 2 3.4 3 1.3zM601 243.1l-3.9-3.1 6.2-6 6.7-1.7 4.7 1.7 -0.1 3 -3.2 3zM547 270.2l-9-0.6 -15-12.9 -3.1-7.7 3.1-5.4 9-3.8 15-2 7.8 2.2 8.4 6 -3 9 -1.2 12.6zM718 300.3l-3.9-3.3 -0.8-6 1.7-5.1 3-2 3 1.6 1.7 5.5 -1 6zM712 379.6l-3 0.1 -6-3 -6-9.7 -15 2.1 -12-4.6 -3.3-4.5 -1.1-6 2.9-9 4.5-5.5 9-5.3 9-1.2 9 2.2 10.8 6.8 1.1 3 -7.3 6 -1.4 6 11.8 4.6 3.6 4.4 0.7 6zM748 357.1l-9 0.9 -12-2.5 -5.9-4.5 -3-6 8.9-10.2 24 2.8 5.4 4.4 1.6 6 -3.9 6zM922 396.5l-9-1.2 -5-5.3 -0.9-3 1.2-9 4.7-4.9 6-1.6 6 1.4 3 2.8 3.2 8.3 -1 6zM328 618.2l-24 0.4 -27-4.1 -27-9.4 -18.7-11.1 -13.1-12 -9.1-12 -18.6-36 -26-42 -3.9-12 -1.3-15 1.9-12 4.9-12 8.9-13.2 12-11.9 15-10.3 15-6.2 3.1-6.4 6.1-6 -4.7-6 2-3 5.5-1.1 5.6 1.1 2.7 3 -0.6 3 1.3 1.2 15 6 9.1-1.2 1.1-6 4.2-3 12.6 1 24 10.5 12 10.2 9 5.3 18 0.8 6 2.7 7.6 8.5 4.4 14.1 12.1 21.9 8.9 28.2 6 7.7 3 1.6 12-3.4 18 0.5 17.9 4.4 4 3 3.6 6 -1.2 12 14.7 9.1 6.4 8.9 3 15 -2.2 12 -7.2 10.5 -6 3.5 -6 0.8 -6-3.8 -6.4-17 0.2-27 -2.8-5.4 -30-0.5 -6 2 -3.9 6.9 1.6 21 -6.6 15 -1.6 18 -4.5 3.9 -18 5.8 -15.7 8.3 -3.7 3 -3.7 9zM727 441.1l-33 1.1 -12-2.7 -26-19.5 -3-3 0.3-6 7.7-4.4 27-5 21 1.4 15 4.5 18 11.2 8.9 10.3 -0.2 3 -5.7 4.6zM499 427.4l-6 0.3 -3.7-1.7 -1-3 3.3-3 4.8 0 4.3 3 0.2 3zM886 454.5l-4.3-1.5 1.3-3.3 3.9 0.3 0.9 3zM427 468.4l-6-0.2 -1.1-3.2 7.1-1 1.3 1zM586 474.5l-3 1.2 -6-0.9 -3.5-3.8 0.1-3 6.4-4.6 6 1.6 2.8 3 0.1 3zM637 475l-6 1.7 -6-1.6 -2.8-4.1 0.2-3 5.6-4.7 6-0.1 5.7 4.8 0.2 3zM967 585.7l-9 1.5 -12-1.7 -6-5.4 -9-14.6 -36-3 -33-11.5 -33-17 -9.5-9 -8.2-12 -3.3-1.6 -3-0.8 -2.1 2.4 0.5 9 -1.4 2.7 -9-0.7 -8.2-5 -5.9-6 -2.6-18 7.7-2 6-4.2 33 0 21 4.4 24 9.2 42 24.6 12.4 13 11.6 16.9 3 1.6 15 1 15.5 7.5 3 3 1.5 6 -1.5 6zM892 603.2l-5.4-3.2 1.4-3 8.1 0 1.7 3zM763 654.8l-12 0.3 -15-7.1 -21-1.9 -6-3.3 -1-3.8 2-3 8-4.3 27-3.8 39-15.9 -1.4-6 1.1-3 6.3-2.8 12-1 18 1.2 7.8 2.6 2.8 3 -0.4 3 -4.2 3.6 -21 6.9 -15 9.8 -27 6.7 0.5 3 5.5 4.5 2 4.5 -2 3.7zM559 654.3l-6 1.9 -9 0 -12-6.3 -4.8-7.9 -0.6-6 1.5-6 3.9-5.4 9-4.1 9-0.7 9 2.7 5.5 4.5 5.5 9 0 6 -2.8 6z"/>
<path fill="#e3ff1c" d="M823 88.6l-6 0.5 -2.3-2.1 0.9-3 4.4-1.3 3 1 1.4 3.3zM937 348.7l-6 0.7 -7.4-4.4 -11.9-21 -5.7-6 -29-12 -9-6 -2-3 -2.2-15 -3.2-6 -10.6-10.3 -27-18.5 -6-7.2 -6-13.6 -3.4-13.4 -1.4-15 1-18 2.2-18 4.6-10.9 6-4.8 9-1.3 24 13.4 2.6-2.4 -0.3-3 -8.3-14.6 -1.3-6.4 4.3-11.8 7.6-6.2 31.4-12.8 12 0.1 18 6.8 24 5 6-0.5 9-4.4 6 0.3 5.8 5.5 3.1 9 1 18 -8.3 21 1.4 5.2 9 12.5 2.8 12.3 -0.9 12 -4.9 11.9 -0.4-2.9 -2.6-1.5 -3 0 -0.8 1.5 0.8 3.2 6-0.2 1.6 6 -0.5 9 -5.5 24 5.3 15 0.6 9 -4.7 9 -16.4 12 -5.1 6 8.3 9 1.2 9 -11.2 18zM595 187.5l-6 1.3 -6-1 -4.4-4.8 1-3 6.4-2.6 6 1 4.8 4.6zM679 207.7l-9-1 -5-5.7 -0.2-6 5.2-5.9 9-1 6 3.8 1.7 3.1 -0.1 6 -1.6 3zM896.3 240l7.7-5.4 14-0.6 2.8-3 0.1-3 -2.1-3 -7.2-3 -16.6-1.8 -6 1.5 -4.2 6.3 0.6 9 3.6 3.6zM547 267l-6.2 0 -13-12 -2-6 2.3-3 12.9-2.5 9 3.3 3.4 5.2 1.2 9 -1.2 3zM718 298.5l-3-2.3 -0.8-5.2 0.8-3.2 3-2.6 3 2.3 0.8 3.5 -0.8 4.9zM691 366.6l-6 1.2 -9-1.8 -4.8-3 -3.4-6 0.1-6 2.7-6 5.4-5.4 6-3.1 12-0.4 12.3 5.9 0 3 -4.9 6 -3.6 12zM745 357l-9-0.2 -9.8-2.8 -5.2-6 0.8-6 5.2-5.6 3-0.4 15 0.6 6.9 2.4 4.9 6 -0.9 6 -4.9 4.3zM712 378.8l-6-0.9 -5.7-5.9 -1.3-6 4-4.8 9-0.3 5.9 5.1 0.8 6 -3.7 5.2zM922 396l-9-1.1 -5.6-7.9 1.5-9 7.1-5.5 9 1.1 5.5 7.4 -0.7 9 -4.8 5zM328 615.2l-24 0.7 -27-4.2 -24-8.6 -19.9-12.1 -9.8-9 -9.3-12 -18.5-36 -20.4-30 -7.9-15 -3.5-12 -0.8-12 2-12 5.1-12 8.5-12 14.5-13.5 15-9.2 12-3 2-10.3 8.2-6 -7.2-6 2.6-3 7.1 0 3.3 3 -1.8 3 2.9 3 18.9 6.3 9-0.7 2.1-2.6 -2.2-6 3.1-2.1 12 0.8 12 6.6 12 4.3 12 11.3 9 5.1 15-1 9 3.1 6.9 7.9 5.1 19.3 10.1 19.7 13.3 45 3.6 1.4 8.1-10.4 6.9-3.2 18-0.6 15 3 5.9 3.8 3.7 6 -0.2 6 -2.4 6 1.6 3 12.4 4.7 8.7 10.3 2.9 12 -2.3 15 -6.3 9.3 -6 3.6 -6 0.7 -6-4.4 -5.9-15.2 0.3-33 -33.4-1.2 -7.1 1.2 -2.7 3 -1.5 6 2.4 21 -7 15 -2.2 18 -3.1 3 -23.8 8.9 -15.4 9.1 -5.6 5.9zM700 441.1l-12-1 -9-3.7 -18.9-16.4 -1.3-6 5.2-4.5 15-4.8 12-1.6 15 0.9 12 2.8 12 5.3 14.2 10.9 3.6 6 -0.6 3 -3.4 3 -8 3 -14.8 2.7zM886 453.9l-3.7-0.9 0.7-2.3 3.2-0.7 0.9 3zM424 468.4l-3.1-3.4 6.5 0 -1.5 3zM586 474.2l-3 1.3 -6-1 -3.2-3.5 0.1-3 6.1-4.3 6 1.6 2.5 2.7 0.2 3zM637 474.6l-9 1.6 -3.8-2.2 -1.4-6 5.2-4.4 6-0.1 5.4 4.5 0.2 3zM925 561.2l-12 2 -15-1.3 -12-2.7 -21-7.9 -33-16.6 -12-10.9 -7.6-10.8 -5.3-3 -6.1 0 0.4 12 -2.4 1.8 -6-1 -11.4-9.8 -3.1-9 -0.5-6.9 7.8-2.1 4.2-5.2 18 1 15-1.2 21 4.3 21 7.9 36 19.9 11.8 9.3 10 12 4.8 9 0.8 6zM961 585.4l-9.7-0.4 -6.8-3 -5.6-9 -1-6 1.2-3 6.9-2.9 6 0.5 16 8.4 1.6 3 -0.1 6 -2.5 4zM763 654.2l-12 0.3 -15-7.7 -18-0.7 -6-2.3 -2.7-4.8 2.7-3.6 9-3.9 27-0.5 12.5-7 23.5-9.5 4.1-2.5 -4.2-6 1-3 5.1-2.3 27-0.2 8.6 2.5 3.2 3 -0.3 3 -3.5 3 -23.2 6 -11.8 10 -9 2.3 -18 1.5 -9 3 -1.1 1.2 10.1 4.3 5.8 4.7 1.1 3 -1.2 3zM556 654.9l-9 1.1 -6-1.2 -9.9-6.8 -3.2-6 -0.6-6 1.7-6 5.1-6 9.9-3.4 9 0.3 6 2.1 7.5 7 3.2 9 -1.5 6 -4.8 6z"/>
<path fill="#e8ff17" d="M823 87.6l-3 1.3 -4.3-1.9 1-3 3.3-0.7 3 2.1zM928 307l-9 0 -24-5 -18-7.9 -6-7.2 -3.7-10.9 -11.4-9 -17.9-21.3 -3-1.8 -9-0.3 -6-3.4 -6-9.2 -5.5-18 -0.7-30 2.6-21 3.6-8.7 6-5.4 6-1.5 6 2.2 15 10.9 9 1.7 2.3-5.2 -7.3-18 1.9-9 7.7-12 3.9-3 15.3-9 9.2-3.1 15 0.9 39 18.8 3-0.1 11.5-10.5 6.5 0 3.3 3 3.6 9 0.4 18 -2 6 -8 12 -0.5 6 2.2 6 8.5 12 2.7 12 -1.7 6 -10.8 9 -0.4 6 3.7 15 -5.5 24 10.7 15 1.3 9 -2.8 6 -4.7 4.4zM933 150l2.3-3 -1.3-5.6 -3 1.4 -1.4 4.2 1.4 3.7zM592 186.8l-9-0.5 -3.1-3.3 1-3 5.1-1.9 7.4 1.9 1.8 3zM682 205l-6 2 -7.5-3 -2.8-6 2.5-6 7.8-3.2 7.4 3.2 2.5 6zM850.4 216l-3.4-3.9 -1.2 3.9 1.2 2.5zM893.3 243l10.7-7.1 15 0.5 3.8-2.4 2-6 -5.8-5.7 -6-1.9 -18-1.7 -6 1.4 -5.1 4.9 -1.4 12 3.5 5.7zM544 261.1l-1.2-3.1 1.2-2.9 3.3 2.9zM718 296.8l-2.8-5.8 2.8-4.1 2.9 4.1zM937 340.3l-3 1 -4.2-2.3 -2.1-6 0.3-6.2 12-14 9-1.9 7.6 7.1 0.2 6 -4.8 6.1 -8.1 2.9zM685 366.4l-9-2.1 -5-4.3 -1.7-6 1.5-6 5.2-6.1 6-3.3 6-1 9 1.6 4.9 2.8 -4.1 15 -4.1 6zM751 354.5l-9 2.2 -12-2 -6-3.7 -2.1-6 5.1-7.3 21 0.2 6 3.7 2 3.4 -1 6zM709 378.3l-6-3.3 -2.7-6 2.7-6 6-2 6 2.4 3.3 5.6 -3.3 7.6zM919 396.1l-7.8-3.1 -2.5-3 -1.3-6 2.6-6.7 6-4.4 3-0.4 6 1.9 3 2.8 2.6 6.8 -1.2 6 -2.4 3zM232 383.4l-3 0.1 -4.4-2.5 4.4-2.9 3 0.8 2.7 2.1zM328 612.2l-24 1.1 -24-3.6 -24-8.3 -18-10.7 -9.9-8.7 -9.5-12 -18.4-36 -21.2-30 -8.3-15 -3.7-12 -0.8-12 2.1-12 5.4-12 10.3-13.4 15-12.6 12-6.6 13.9-3.4 -2.1-9 0.9-3 5.3-4.4 9-0.7 18 7.5 15-0.2 4.9-2.2 -7.9-4.8 -1.4-4.2 4.4-1.9 6 0.4 13.2 7.5 13.8 4.5 12 12.6 6.7 3.9 5.3 1 12-2.4 6 1.5 6 4.3 4.7 7.6 2.9 18 9.6 21 7.5 24 2.1 15 3.6 6 5.6 3.3 3-1.1 6-11.9 6-4 6-1.1 24 1.4 6 2.8 4.6 4.6 0.8 9 -5.4 8.2 -18 2.7 -27-1.6 -3 4.7 -0.7 7 3.3 21 -7.6 15 -2.9 18 -3.7 3 -18.4 6.8 -27 15.5zM730 438l-30 2.2 -15-2.2 -13.8-9 -5.9-6 -3-6 4.8-6 14.9-5.3 15-1.2 18 2.7 15.5 6.8 13.4 12 -0.2 6 -4.1 3zM886 453.4l-3.1-0.4 3.1-1.4zM424 466.8l-1.1-1.8 2.6 0zM583 475.3l-6-1 -2.9-3.3 0.1-3 2.8-2.9 6-0.9 5.2 3.8 0.2 3zM637 474.2l-3 1.7 -6 0 -5.2-4.9 0.3-3 4.9-4.1 6 0 5 4.1 0.3 3zM916 561.2l-24-1.5 -27-9.2 -33-17.2 -12-11.1 -6.5-9.2 -11.5-6 -4 0 2.5 9 -1.5 5.9 -6-0.3 -9.7-8.6 -3.4-9 0.8-6 7.9 0 -0.2-6 4.6-2.1 15 2.1 15-1.6 18 3.3 24 8.8 36 20.1 13.3 11.4 6.7 9 4 9 -1.4 6zM451 573.6l-6-1.4 -3-3.5 -5.5-13.7 -0.1-18 2.6-13.6 3-2.7 9 1.2 9 5.2 5 6.9 2.8 9 -0.3 12 -3.3 9 -7.2 7.6zM964 582.5l-9 1.1 -9-3.2 -4.3-7.4 0.5-6 3.8-3 6-0.4 13.2 6.4 2.6 6zM787 627.7l-12 0.6 -5.3-1.3 -0.1-3 9.9-6 13.4-3 -1.2-3 -6.6-6 1.9-3.6 9-2.1 18 0.4 9 1.9 4.4 3.4 -0.4 3 -7 4.4 -21 2.5 -3 2.1 -2.5 6zM556 654.3l-12 0.7 -6-2.1 -6.1-4.9 -3.3-6 -0.7-6 1.8-6 5.3-5.8 9-3 9 0.2 6 2.2 6.9 6.4 3.2 9 -1.6 6 -5.1 6zM760 654.4l-12-1.5 -9-7 -15 0.6 -7.2-1.5 -5.5-3 -0.9-3 2-3 8.6-3.9 9-0.8 10.8 1.7 6.6 6 12.6 1.4 7.7 4.6 1.2 3 -1.2 3z"/>
<path fill="#edff12" d="M820 88.1l-3.3-1.1 3.3-3.1 2.3 3.1zM940 297l-9 2.3 -12 0.4 -24-5.1 -15.5-9.6 -2.5-3.4 -1.6-8.6 -10.4-6.3 -6-0.7 -2.5-2 -11.2-30 0.3-3 9.1-9 1.5-6 -3.7-6 -5.5-4.7 -3 1.4 -1.1 3.3 -2.6 21 -11.3 8.3 -6-0.3 -3-2 -6-9 -3.2-9 -2.6-15 -0.1-15 2.6-24 3.3-9.6 6-5.8 6-1.4 8.5 4.8 9.5 10.8 9 1.4 6-1.9 2-7.3 -3.4-15 6.5-12 -0.6-9 4.9-6 17.6-10.7 12-1 9 2.6 23.6 18.1 3.9 9 -6.2 9 -1.6 6 1.3 5.8 3 1.9 7.1-4.7 4.9-9.2 3-2 6.6-18.8 4.8-6 3.6-1.2 3 1 5.1 9.2 1 12 -2 9 -4.1 6 -8 6 -1.8 6 3.9 12 10.7 12 1.7 9 -1 3 -8.5 6.8 -3.5 5.2 -1 18 -7.5 27 4.2 6 13.3 9 2.2 9 -3.5 6 -4.2 3.2zM589 186.1l-6-1.3 -1.7-1.8 1-3 3.7-1.2 6.1 1.2 1.5 3zM679 205.2l-6 0.1 -5.1-4.3 -0.1-6 2.2-3 9-1.3 4.8 4.3 0 6zM890.7 246l7.3-3.1 7.5-5.9 10.5 2.3 6-1 6.1-4.3 1.4-6 -5.5-6 -8-3 -21-1.7 -6 1.2 -7.4 6.5 -2.3 12 1.3 6 2.4 2.3zM921.6 258l-2.6-3.3 -2.5 3.3 2.5 2.8zM946 330.4l-6.1-3.4 -2.1-6 0.7-3 4.5-4.9 6-0.7 4.6 2.6 2.7 6 -4.3 7.9zM748 355.2l-9 1 -12-3.7 -3.7-4.5 1.1-6 5.6-4 15-0.2 6 2.2 4.2 5 0.2 3 -1.4 3.1zM688 364.3l-6 0.4 -6-2.2 -3-2.6 -2-5.9 1.7-6 3.3-3.8 6-3.4 6-1 8.7 2.2 0.2 3 -1.3 12zM715 376l-6 1.8 -5.4-2.8 -2.8-6 2.2-4.9 6-2.5 6 2.3 2.8 5.1zM925 394.3l-9 1.2 -6.9-5.5 -0.9-9 7.8-7.7 6 0 7.8 7.7 0.4 6zM232 381.8l-5.6-0.8 2.6-1.4 3 0.7zM331 609l-21 2.1 -27-3.2 -23.7-7.9 -18.3-10.8 -11.2-10.2 -6.9-9 -18.3-36 -22-30 -8.7-15 -3.9-12 -0.8-12 1.4-9 4.7-12 8.7-12.3 15-13.3 12-7.1 15.3-3.3 2.3-3 -4.4-9 1-3 3.8-3 6-1.6 6 1.1 15 8.3 24 0.2 3.7-2 1.3-3 -11-2.3 -5.3-3.7 -0.5-3 8.8-0.9 7.8 3.9 4.2 4.6 9 1.1 6 2.7 9 11.4 9 6.1 3 0.9 12-3.5 6 0.3 6.8 3.4 6.3 9 1.9 20.1 7.3 15.9 7.9 24 2.7 18 3.1 6.1 9 9.4 0.9 14.5 4.1 15 0.1 6 -8.2 15 -3.8 18zM721 438.4l-24 0.8 -12-2.4 -15.2-10.8 -4.2-6 -0.2-3 7.6-6.8 15-4.1 15-0.1 15 3.3 18.2 10.7 5.1 6 0.6 3 -1.5 3 -5 3zM583 475.1l-6-1.1 -2.7-3 0.1-3 2.6-2.6 6-0.9 4.9 3.5 0.3 3zM634 475.6l-6 0.1 -3-1.9 -1.9-2.8 1.9-4.8 6-2.5 6 2.3 2 5zM919 558.1l-12 2.3 -21-3 -18-6.4 -24-11.9 -15-9.5 -15-16.9 -18-9.6 -5.1-5.1 -1.3-6 6.4-1.6 12 2.3 12-1.5 12 1.1 18 4.8 18 7.6 33 18.7 9.2 7.6 7.3 9 4.5 9 0 6zM430 519.4l-18 0.5 -14.8-3.9 -2.8-3 2.2-12 6.1-6 6.3-2 15-0.5 12 2.9 6.8 5.6 0.7 9 -4.5 5.9zM799 519.1l-3 1.9 -3-0.6 -6-4.4 -5-9 -0.2-6 5.2-0.5 6 3.6 4.7 5.9zM457 570.6l-6 2 -6-1.6 -8.1-16 -0.7-12 1.4-9 2.5-9 4.9-2.9 9 1.8 5.9 4.1 6.6 12 1.1 9 -1.6 9 -3 6.6zM964 579.4l-6 2.5 -9-2.1 -3.5-3.8 -0.7-6 4.2-3.9 9 1.9 6.8 5zM820 612.6l-9 1.9 -12-0.5 -12.8-8 0.9-3 5.9-2 24 0.5 8.9 4.5 -0.3 3zM784 627l-4.1 0 -4.1-3 5.2-4.3 9-1.1 2.2 2.4 -1.5 3zM553 654.6l-6 0.3 -9-2.5 -7.6-7.4 -1.9-6 0.7-6 3.4-6 5.4-3.8 9-1.8 9 1.2 6 3.7 5.1 6.7 1.4 6 -1.5 6 -5.5 6zM757 654.2l-11.4-3.2 -3.6-5.9 -3-1.1 -18 1.5 -8.4-3.5 -1-3 2-3 7.4-3.3 15.2 0.3 5.4 3 3.4 5.7 12-0.7 9.5 4 1.5 3 -1.3 3z"/>
<path fill="#f2ff0d" d="M937 294.7l-9 1.3 -12-1 -13.6-4 -10.4-6 -4.6-6 1.6-3.8 12 5.7 3 0.2 3.2-2.1 -1.6-9 -10.6-6.6 -3-0.9 -9 4.7 -7.7-3.2 -7.3-6.8 -6 5.6 -3 0.8 -2.6-2.6 -2-12 6.4-33 -13.8-18.4 -3 1.6 -7.4 28.8 -7.6 7.7 -6 0.3 -3-1.8 -6-9 -3-9.2 -2.2-15 0.2-15 2.6-21 3.4-9 8-5.9 6 1 3 2.1 7.7 11.8 7.3 21.9 6-14.3 9-7.1 2.1-3.5 0.4-15 9-12 -0.7-6 -5.6-9 1.1-3 10.1-9 10.6-4.7 15 1.2 9.2 6.5 3.3 6 0.5 6 -1.4 3 -10.4 6 -2 3 3.8 2.1 15-4.6 2.4 5.5 -0.2 12 2.7 6 4.1 2.4 9-1.3 3 3.2 7.2 16.7 13.8 8.1 3 5.2 0.1 4.7 -2.1 3 -11.2 6 -1.8 2.4 -3.6 12.6 -5.4 8.4 -3 0.5 -12-7.6 -9-3.1 -24-1.4 -6 1.3 -8 4.9 -5.6 12 -0.9 6 1.2 6 7.3 4.6 6-0.5 18-12 12 4.5 18-4.3 1.7 1.7 -1.7 15 1 3 8.8 6 14.2 5.2 4.9 6.8 -1.6 6 -3.3 3.2zM961 148.1l-3 0.3 -3-2.1 -2.7-11.3 1.9-12 3.6-6 3.2-1.3 3 1.1 3 5 1.5 10.2 -1.5 9.1zM592 183.1l-6 1.7 -3.3-1.8 3.3-3.5 4.1 0.5zM676 204.4l-6-2.8 -1.3-3.6 1.3-3.8 6-2.8 6 3.2 1 3.4 -1 3.3zM924.3 261l1.1-6 -3.4-3.7 -3-0.6 -3 2.4 -1.4 7.9 1.4 2.1 3 0.6zM952 327.8l-6 1.5 -4.3-2.3 -2.5-6 3.8-6.5 6-1.4 5.7 4.9 0.1 6zM748 354.6l-9 1.1 -12-4.2 -2.6-3.5 1-6 4.6-3.1 9-0.7 12 2.6 3.4 4.2 0.2 3 -1.4 3zM685 363.4l-9-2.8 -3.3-6.6 2.1-6 3.1-3 10.1-2.7 4.5 2.7 1.7 9 -2.6 6zM715 375.4l-3 1.8 -6-0.8 -4-4.4 0.3-6 6.7-3.8 6 2.3 2.5 4.5zM925 394l-9 1.3 -4-2.3 -3.8-6 0.3-6 7.5-7.2 6-0.1 7.5 7.3 0.4 6zM283 390.4l-9-1.1 -3.7-2.3 -0.1-3 7.5 0 5.6 3zM334 606.8l-24 2 -24-2.6 -24-7.7 -17.9-10.5 -17.2-18 -18-36 -22.9-30 -9.1-15 -4-12 -0.9-12 1.4-9 5-12 8.9-12 14.7-12.6 12-6.6 16.6-4.8 1-3 -6-9 3.4-4.9 6-1.9 6 1.1 5.2 2.7 6.8 6.7 6 0.8 21 0.1 3-0.9 6-6 9-0.3 8.9 5.6 6.1 10.6 9 5.4 3 0.4 12-4.5 6 0.2 6 2.9 5.1 6 3 9 0 18 14.3 39 1.7 15 11.9 18 7.4 27 0.1 6 -8.9 15 -1.8 12 -2.9 6zM712 438l-18-0.2 -12-3.4 -10.6-8.4 -3.5-6 0.3-3 4.8-4.7 9-3.7 21-1.5 21 6 10.1 6.9 4.7 6 0.3 3 -2 3 -4.1 2.2zM583 474.8l-5.5-0.8 -3-3 0.2-3 2.3-2.3 6-0.9 4.6 3.2 0.3 3zM634 475.4l-8.4-1.4 -2.2-3 0.3-3 7.3-4 6 2.4 1.7 4.6zM913 558.4l-12 0.7 -18-3.2 -15-5.7 -27-13.7 -15-10.8 -12-13.7 -18-10.1 -5.6-6.9 0.5-3 5.1-1.2 15 2.8 9-1.5 12 0.8 15 3.7 21 8.7 33 18.9 10.8 9.8 8.3 15 -1 6zM427 519.1l-12 0.4 -14-3.5 -4.4-6 1.8-9 7.1-6 9.5-1.9 15 0.7 9 4 4.3 6.2 -1.3 6.9 -6 5.8zM796 519.5l-6-2.1 -4-4.4 -2.7-6 0.7-4.5 6 1 6 5.8 2 6.7zM454 571.2l-6 0.3 -3-1.7 -4.2-5.8 -4.1-12 1.5-18 3.6-9 3.2-1.7 9 1.4 6 4.2 3.7 5.1 2.9 9 0.2 9 -2.4 9 -4.4 6.4zM958 579.4l-4.6-0.4 -4.4-2.9 -0.1-6.1 6.1-0.9 6.6 3.9 0.7 3zM817 612.9l-15 0.6 -9-3.3 -5.6-4.2 0.9-3 4.7-1.6 24 0.6 7.8 4 -0.4 3zM553 654l-12-0.8 -6-3.5 -4-4.7 -1.9-6 0.6-6 3.7-6 4.6-3.1 9-2.1 9 1.3 6 3.8 4.7 6.1 1.2 6 -1.5 6 -5.8 6zM784 624.5l-2.3-0.5 2.3-2.5 2.3 2.5zM730 645l-12-1 -4.1-2 -1.3-3 2.4-3.2 9-3 9 0.4 6.2 2.8 1.3 3 -1.5 3zM763 652.5l-6 1.2 -9-2.1 -3.6-3.6 0.3-3 9.3-3 9 1.5 4.1 4.5z"/>
<path fill="#f7ff08" d="M874 223.2l-3 0.9 -2.3-2.1 -3.3-9 -12.4-11.2 -1.5-6.8 11.7-24 11.7-12 -1.2-9 1.6-3 7.4-6 1-3 -11.5-15 -1.8-3 0.6-3 9-9 5.5-3 6.5-1.4 9 0.7 10.5 6.7 2.6 9 -4 6 -9.2 6 -4.6 6 3.6 3 16.1 3.2 3 2.6 6 12.5 13.1 8.7 2.4 6 -0.2 33 -2.6 6 -3.7 2.2 -39-1.1zM964 141.9l-3 2.1 -3-1 -3-8 1.8-12 4.2-4.1 3 1.5 2.7 8.6zM829 232.7l-6 0.7 -6-5.2 -5.1-12.2 -2.3-15 0.4-18 3.3-21 3.7-6.8 6-3.4 6 1.3 7.2 8.9 3.8 12 2.2 15 -5.6 33 -2.8 6zM589 183.4l-4.1-0.4 1.1-1.9 3 0.6zM961 195.8l-6.7-0.8 -1.8-3 0.7-3 4.8-2 3 1.1 2.3 3.9zM679 202l-3 0.9 -4.4-1.9 -1.3-3 1.1-3 4.6-2 4.3 2 1.1 3zM859 261.9l-3.2-6.9 1.2-12 5-8.8 3-1 2.7 6.8 -0.6 12 -2.9 6zM940 291.2l-15 1.7 -8.3-1.9 -4.1-3 -2.6-19.7 -12-5.1 -6.3-5.2 -1.4-3 3.2-6 12.4-9 4.1 0.3 5.9 5.7 -3.3 15 0.4 4.6 6 0.7 12-1.5 24 5.2 5.7 3 1.8 3 -1.9 6zM949 328.5l-3 0 -5.3-4.5 0.2-6 5.1-4.1 6 1.5 2.8 5.6 -0.6 3zM748 354l-9 1.1 -9-2.7 -4.6-4.4 1.1-6 3.5-2.2 9-1 9 1 3.6 2.2 2.3 6zM688 360.6l-6 1 -6.7-4.6 -0.1-6 3.8-4.5 6-1.7 5.6 3.2 1.5 6zM712 376.8l-6-0.9 -3.4-3.9 0.5-6 2.9-2.5 6-0.2 3.8 2.7 1 6zM925 393.6l-9 1.5 -6.1-5.1 -1.7-6 4.8-8.3 6-2.1 8.4 4.4 2.3 9zM280 389l-8-2 2-2.9 7.5 2.9zM331 606.4l-27 0 -21-3.2 -21-7.4 -17.3-10.8 -13.9-15 -17.5-36 -24-30 -9.6-15 -3.4-9 -1.8-12 1.6-12 3.5-9 8.2-12 14.2-12.7 12-7.1 15-4 5.4-3.2 0.6-3 -6-4.8 -2.2-4.2 1.1-3 4.1-2.4 6-0.3 6 2.3 3.5 3.4 2.5 6 3 0.8 27 0.2 3-0.6 6-7 9-1.4 8 5 5.6 12 10.1 6 18.3-5.8 8.3 2.8 5.4 6 3.1 12 -1.8 15.4 13 35.6 2.6 18 12.8 21 7.7 21 0.9 9 -9.6 15 -2.4 12 -3.5 6 -30.5 16.4zM724 435.7l-24 1.8 -15-2.9 -12-8.6 -3-6 0.6-3 5.4-4.6 12-3.9 12-0.6 15 2.6 13.3 6.5 8.1 9 0 3 -2.6 3zM583 474.6l-5-0.6 -3.2-3 2.2-5.1 6-0.9 4.4 3 0.3 3zM634 475.1l-8-1.1 -2.3-3 0.4-3 6.9-3.8 6 2.6 1.4 4.2zM904 558.1l-15-1.4 -12-3.4 -36-17.6 -15-11.1 -12-13.2 -17.8-10.4 -5-6 1-3 3.8-0.7 15 3.3 15-1.8 18 3.4 24 9.8 30 17 12.7 11 7.6 15 -2.3 6zM421 519l-12-1.2 -9.2-4.8 -1.5-3 0.3-6 4-6 9.4-3.8 12-0.7 9 1.7 8.2 5.8 1.4 6 -3.6 6.5 -6 3.6zM796 517.1l-3 0.6 -5.7-4.7 -2.3-6 2-2.9 8 5.9zM454 570.4l-6 0.2 -3-1.7 -5.1-7.9 -2.8-9 0.8-15 4.1-10.3 3-2.2 6 0 7 3.5 5 6 3.1 9 0.2 9 -2.6 9 -3.7 5.5zM817 612.3l-15 0.3 -13.5-6.6 0.9-3 6.6-1.6 21 1.1 6.6 3.5 -0.4 3zM559 651.5l-6 2.1 -9 0 -10.2-5.6 -3.6-6 -0.6-6 4.6-9 6.8-3.8 9-1 6 1.4 6 3.8 4.2 5.6 1.3 6 -1.7 6zM736 642.4l-6 2 -9-0.1 -5.7-2.3 -1.6-3 4.3-4.1 12-1.5 7.3 2.6 1.3 3zM763 651.9l-9 1.1 -5.8-2 -2.4-3 1-3 4.2-1.9 9 0.1 6.1 4.8z"/>
<path fill="#fcff03" d="M889 135l-9-5.4 -6.9-9.6 0.2-3 8.3-9 7.4-3.3 9-0.3 8.9 3.6 4.7 6 0.4 6 -1.6 3 -15.4 11zM961 139.2l-3-3.2 -0.6-4 0.6-5.1 3-4 3 2.7 0.7 6.4 -0.7 4.2zM883 216.4l-6-0.1 -2.8-3.3 0.6-6 6.9-9 0.2-3 -13.9-7.3 -0.8-10.7 1.3-6 8.7-9 2.8-9.3 3-4.4 9-3.2 15 2.5 9 6 9 14.1 6-0.9 6 3.4 1.6 3.8 -0.6 3 -4 4.6 -5.7 1.4 -0.2 18 -2.9 6 -9.2 3 -21 2.4zM826 231.2l-6-1.9 -4.9-7.3 -3.6-12 -1.3-12 3.8-35.1 3-5.9 6-3.6 6 1.7 5.3 6.9 4.6 15 1.4 12 -0.6 12 -3.8 18 -3.9 8.1zM862 204.2l-6-3.2 -0.5-6 3.5-4.6 6.6-1.4 1.4 3 -0.5 6 -1.5 4.2zM676 201.1l-3.5-3.1 3.5-3.2 3.3 3.2zM862 259.2l-3 1.2 -2.6-8.4 1.6-9 4-5.7 3 0.9 1.8 7.8zM907 264.4l-9-2.3 -5.3-7.1 2.7-6 11.6-7.4 3.9 1.4 2.4 6 -2.2 12zM940 288.6l-12 1.7 -8.4-2.3 -3.4-6 -0.2-10 6-3 9 1.7 9-0.5 13 2.8 4.8 3 0.3 3 -2.7 3zM949 327.7l-3 0 -4.5-3.7 0.2-6 4.3-3.4 6 1.5 2.3 4.9 -0.7 3zM745 354.4l-9-0.3 -7.2-3.1 -2.5-3 0.7-5 3-2.3 9-1.4 6 0.2 5.7 2.5 2.5 6 -2.2 3.5zM688 357.9l-3 1.9 -6-1.5 -2.2-4.3 0.8-3 4.4-3.4 4.3 0.4 2.9 3zM712 376.4l-6-0.9 -2.9-3.5 -0.6-3 3.5-5 6-0.3 3.3 2.3 1.1 6zM925 393.3l-3 1.7 -6-0.1 -5.9-4.9 -1.7-6 4.6-8 6-2.1 8.1 4.1 2.3 9zM277 387.8l-3.1-0.8 5.5 0zM244 402.8l-6 1.1 -6-2.8 -4-5.1 1.3-3 5.7-2.2 8.2 2.2 2.7 3 0.2 3zM340 603.2l-9 2.4 -9 0.2 -30-3 -12-2.6 -24-10.4 -10.6-7.8 -8.6-9 -9.2-15 -9.6-24 -30.2-36 -9-18 -1.8-15 2.5-12 7.5-13.4 12-12.3 15-9.7 18-5.8 9-5.5 42-1.1 7-9.2 5-1.7 6 1.5 4.2 3.2 3.8 12 10 6.9 6 0.4 9-5.7 6-1 6 1.5 5 3.9 5.2 12 -2.6 21 12.2 33 2.3 18 2.4 6 11.5 16.5 9.8 25.5 -1.5 6 -9.3 12 -2.9 12 -4.1 6zM721 435.3l-21 1.4 -15-3.1 -10.4-7.6 -2.6-6 1-3 6-4.6 12-3.3 15 0.3 12 3.2 12 7.4 4.1 6 -0.4 3 -3.1 3zM634 474.9l-7.5-0.9 -2.5-3 0.4-3 6.6-3.5 6 2.7 1.1 3.8zM583 474.4l-4.5-0.4 -3.5-3 2-4.8 6-1 4.1 2.8 0.3 3zM910 556.1l-15 0.7 -15-3.1 -33-15.6 -18-11.9 -15-15.5 -17.2-9.7 -4.9-6 1.1-2.3 6-0.5 12 3.1 12-1.9 12 1.1 18 5.3 15 6.8 30 17.1 11.7 10.3 5.4 9 1.4 6 -0.7 3zM433 516.3l-12 2.2 -14.8-2.5 -6.3-6 0.1-6 4.3-6 7.2-3 12.5-1 9 1.7 7.5 5.3 1.3 6 -2.8 5.3zM793 516.2l-4.1-3.2 -1.9-6 3-0.2 3.6 3.2 1.3 3zM451 570.2l-6-2.2 -3-3.9 -4.8-15.1 0.5-9 3-9 4.3-5.4 3-0.6 6 1.2 6 4.4 4 6.4 1.9 9 -0.6 9 -4 9 -4.3 4.2zM814 612.4l-12-0.6 -12.4-5.8 1.1-3 8.3-1.3 15 0.7 8.5 3.6 -0.4 3zM556 652.4l-12 0.8 -9.5-5.2 -3.8-6 -0.6-6 4.9-9 6-3.3 9-1.1 9 2.9 4.8 4.5 3 6 -0.2 6 -3.7 6zM733 642.8l-12 0.9 -4.4-1.7 -1.9-3 6.3-4.5 9-0.5 5.4 2 1.7 3zM763 651.3l-9 1.1 -4.4-1.4 -2.6-3 4-4 9-0.1 5.2 4.1z"/>
<path fill="#fffc00" d="M892 132.8l-9-2.8 -7.6-10 -0.1-3 4.3-6 6.4-4.4 6-1.6 9 1 7.5 5 2.2 6 -0.5 3 -3.2 4.1zM886 213.8l-6-0.2 -1.8-3.6 0.7-3 7.3-9 0.1-6 -11.4-9 -3-9 14.1-22.8 6-2.1 6 0.1 9 3.1 7.3 6.7 3.8 9 0.1 9 -7.2 21 -3.8 6 -6.2 4.2zM826 228.9l-6-1.9 -3.6-5 -3.4-9 -2-15 3.3-33 2.7-6.1 6-3.9 6 2.1 3.8 4.9 4.1 12 2.1 15 -0.6 12 -3.4 16.1 -3 6.9zM934 179.3l-3 0.5 -5.1-2.8 -0.6-3 2.7-4.4 3-1.1 5.1 2.5 0.9 3zM859 259.1l-1.9-4.1 0-6 4.9-9.9 3 2.5 0.4 7.4 -1.6 6zM907 263.1l-8.9-2.1 -4-6 2.7-6 10.2-5 3.3 2 1.7 6 -0.8 6zM940 285.7l-9 1.9 -6-0.8 -5.1-4.8 -0.4-6 2.5-2.7 18 0.5 7.9 2.2 2.4 3zM949 327l-6-2.1 -1.5-3.9 0.9-3 3.6-2.7 6 1.5 1.9 4.2 -1.9 4.3zM742 354.3l-11.9-3.3 -2.8-3 -0.3-3 3-3.4 9-1.8 10.7 2.2 2.5 3 -1.2 5.6zM682 357.2l-2.3-3.2 2.3-3.3 3 0.1 1.5 3.2 -1.5 2.8zM712 375.9l-6-0.9 -2.5-3 -0.5-3 3-4.5 6-0.5 3 2.3 1.1 5.7zM922 394.7l-6 0 -7.1-7.7 2.4-9 7.7-3.7 6 2 4.4 7.7 -1.7 6zM241 401.2l-9-1.4 -2.8-3.8 1.6-3 4.2-1.4 6.6 1.4 2.7 3 -0.4 3zM337 603.7l-15 1.1 -33-4.6 -12-3.2 -23.7-12 -15.2-15 -8.3-15 -8.4-24 -30.8-33 -7.2-12 -3.1-9 -0.7-15 3.6-12 7.7-12 11.1-10.4 15-9.2 27-9.5 18-2.1 24 0.2 2.9-8 6.1-4 9.3 4 4.3 15 10.4 6 3 1 12-7.8 6-1.1 6 1.5 6 5.4 3.9 13 -4.3 18 11.3 30 3.6 24 14.5 21 7.8 15 2.5 9 -1.6 6 -10.1 12 -3.5 12 -3.1 4.4 -21 14zM715 435.2l-15 0.7 -12-2.2 -9-4.8 -4.7-5.9 -0.4-3 4.9-6 9.2-3.4 12-0.9 15 2.8 12 6.7 4.9 6.8 -0.7 3 -3.7 3zM634 474.6l-7.1-0.6 -2.6-3 0.4-3 3.3-2.6 6-0.1 3.4 2.7 0.4 3zM583 474.2l-4-0.2 -3.8-3 1.8-4.6 6-1 3.8 2.6 0.3 3zM430 516.6l-12 1.3 -9.6-1.9 -7.2-6 0-6 4.8-6 6-2.4 12-1.2 9 1.8 6.7 4.8 1.4 6 -3.9 6zM907 555.6l-12 0.4 -12-2 -33-15 -18-11.3 -18.1-17.7 -14.9-7.8 -4.7-4.2 -1.3-3.7 3-2 15 3.6 21-1.4 18 4.6 15 6.5 33 18.8 10.8 9.6 5.1 9 0.9 6 -1.8 3.6zM457 567.5l-6 2 -6-2.4 -4.2-6.1 -3-9 -0.1-9 2.3-9 3.6-6 4.4-2.2 6 1.1 5.6 4.1 5.6 12 -1.3 15zM811 612.1l-9-0.9 -11.3-5.2 1.4-3 9.9-1 12.8 1 6.6 3 -1.4 3.6zM556 652l-12 0.8 -6-2.5 -5.4-5.3 -2.1-9 5.2-9 5.3-2.8 9-1.2 9 3 4.4 4 2.9 6 -0.2 6 -3.8 6zM733 642l-12 1.1 -5.2-4.1 5.2-4 9-0.3 3.7 1.3 1.9 3zM760 651.8l-9-0.8 -2.7-3 2.7-3.1 9-0.3 4.2 3.4z"/>
<path fill="#fff700" d="M895 130.1l-9-0.1 -8.6-10 -0.2-3 3.9-6 4.9-3.5 6-1.6 12 2.4 3.1 2.7 2.1 6 -3 6zM889 210.8l-6 0.8 -1.5-1.6 1.5-4.5 6.9-7.5 1.3-6 -13.5-12 -2.2-6 2.1-6 8.4-12.7 6-3.1 6 0.1 6 2 6 5 3.1 5.7 0.5 9 -7.6 15 -5 14.4zM826 226.5l-6-1.8 -3-4 -3.7-10.7 -1.5-12 3.6-33 3.3-6 4.3-2.4 6 2.5 3.7 5.9 5.1 24 -0.5 12 -3.3 15 -2.7 6zM934 178l-3 0.7 -4.2-4.7 4.2-4.4 3 0.7 2.1 3.7zM862 256.8l-3 1 -1.6-5.8 1-6 3.6-5.4 2.9 5.4zM907 261.9l-6-0.1 -4.8-3.8 -0.5-6 5.3-4.8 6-0.9 3 2.8 1 5.9zM937 282.6l-9 1 -3.1-1.6 -0.2-3 9.3-1.1 5.3 1.1zM952 324.6l-6 1.8 -3-2.4 0.2-6 2.8-2.2 6 1.7 1.4 3.5zM748 352.2l-6 1.6 -6-0.8 -6-3.2 -1.9-4.8 3.2-3 4.7-1.2 12 0.8 3.5 3.4 0.3 3zM712 375.5l-5.1-0.5 -3-3 -0.5-3 2.6-4 6-0.6 3 2.6 0.7 5zM922 394.5l-6 0 -6.8-7.5 0.6-6 6.2-5.8 9 1.4 4.2 7.4 -1.6 6zM241 399.5l-6 0.5 -4.4-4 2.1-3 6.9 0 3.2 3zM337 603l-12 1.3 -48-9.5 -19.5-9.8 -15.8-15 -9.7-18 -6.7-24 -14.3-10.7 -15-15.8 -8.7-12.5 -4.8-12 -0.8-15 3.8-12 7.5-11.3 10.3-9.7 14.7-9 26-8.9 18-2.4 27 0.3 1-10 5-3.3 6 1.4 4.4 4.9 -0.9 9 1.2 3 13.3 8.1 3 0.7 9-7.5 9-2.8 6 1.5 6 5.7 3.4 12.3 -5.4 18 0.3 3 11.6 30 2.1 21 18 25.2 7.5 13.8 1.3 6 -2.8 7.5 -10 10.5 -6.2 15 -19.9 15zM706 435.1l-15-1.5 -9-3.8 -6-6.8 1.3-6 10.7-5.3 15-1 15 4 10.7 8.3 0 6 -4.4 3zM583 474l-3.5 0 -4.1-3 1.6-4.3 6-1.1 3.5 2.4 0.4 3zM634 474.4l-6.7-0.4 -2.7-3 0.4-3 3-2.4 6 0 3 2.4 0.5 3zM427 516.8l-12 0.2 -9-3.2 -4.2-6.8 2.2-6 5-3.7 9-2.2 9 0.1 9 3.1 4.4 5.7 -1.3 6 -6.1 4.9zM904 555l-12 0 -12-2.5 -30-14.2 -18-11.4 -17.3-16.9 -15.7-8.3 -5.6-6.7 2.6-2.1 18 4 9-2.1 12 0.7 15 4.1 18 8.1 30 17.3 10 9 4.7 9 0.4 6 -3.1 4zM454 568.3l-6 0 -3-2 -3.7-5.3 -3.1-9 1.2-15 2.8-6 5.8-4.3 6 0.9 4.8 3.4 6 12 -1.4 15 -3.4 6zM817 610.4l-12 0.8 -13.1-5.2 2-3 2.1-0.4 16.1 0.4 8.2 3 -0.5 3zM556 651.5l-12 0.9 -6-2.6 -4.9-4.8 -2.1-9 5.4-9 4.6-2.4 9-1.2 6 1.4 6.9 5.2 3 6 -0.3 6 -3.6 5.7zM730 642.4l-9 0.1 -4.1-3.5 4.1-3.4 9-0.2 4.2 3.6zM760 651.3l-7.3-0.3 -3.1-3 4.4-3.1 6 0.6 3.2 2.5z"/>
<path fill="#fff200" d="M892 129.4l-6-1.1 -3-2.3 -4.2-9 3.8-6 4.7-3 7.7-1.3 6 1.2 6.4 6.1 -0.5 6 -5.9 5.1zM898 187.2l-6-1.1 -9-5.3 -4.5-6.8 1.5-6 6-9.2 6-4 6 0.1 6 2.7 4.3 4.4 2.1 6 -1.8 9zM829 222.3l-6 1.9 -3.3-2.2 -4.6-9 -2.2-12 0.1-15 2.6-18 2.3-6 5.1-3.7 3.3 0.7 5 6 5.2 21 -1.3 21 -3.2 10.8zM931 177.5l-2.7-3.5 2.7-3.3 4.2 3.3 -1.2 2.5zM889 207.6l-3.2-0.6 9.2-9.4 3-0.5 -2.7 6.9zM862 255.7l-3 0.8 -1.1-4.5 1.1-5.9 3-4.3 2.2 4.2zM904 261.7l-6-2.7 -2-4 2-4.8 6-2.9 4.4 1.7 1.8 6 -3.2 5.8zM949 326.1l-3-0.2 -3.4-4.9 3.4-4.7 3-0.2 3.9 4.9zM748 351.6l-6 1.7 -6-0.9 -6.6-4.4 -0.2-3 6.8-3.7 9-0.3 5.7 4 0.4 3zM712 375.1l-3 0.4 -4.7-3.5 -0.5-3 2.2-3.5 6-0.7 3 3 0.3 4.2zM922 394.3l-6 0 -5.3-4.3 -1.3-3 0.7-6 5.9-5.6 9 1.5 3.9 7.1 -1.5 6zM241 396.4l-3 2.6 -6-3 3-2.6 3 0.2zM334 603.2l-9 0.3 -24-6.8 -12-0.6 -12-3.6 -18-9.4 -13.9-13.1 -9.8-18 -6.3-26.3 -15-9.1 -13.2-12.6 -10.8-14.3 -5.4-12.7 -1.1-12 2.8-12 7.2-12 11.5-11 15-9 27-8.7 18-1.9 24 1.7 5.8-1.1 -4.5-9 0.7-3 4-2.6 6 1.4 3.6 4.2 -0.6 5.8 -2.6 3.2 1.3 3 16.3 10.1 3 0.5 7.6-7.6 7.4-3.8 9 1.3 5.8 5.5 2.5 6 0.4 9 -6.4 18 12 30 1.4 21 2.7 6 11.6 12.5 9 13.1 5.3 13.4 -1.9 6 -10.2 9 -6.8 15 -8.2 9 -14.2 10.2zM718 432.8l-15 1.6 -14.3-2.4 -9.4-6 -1.7-6 4.4-4.8 9-3.2 9-0.6 12 2 8.3 3.6 6.5 6 0.8 3 -1.4 3zM586 471.8l-6 2.2 -4.3-3 0.3-3 4-2.4 3 0.2 3.2 2.2zM634 474.1l-6.2-0.1 -2.9-3 0.4-3 2.7-2.2 6 0 2.7 2.2 0.5 3zM907 553.1l-9 1.5 -15-1.7 -27-12.1 -21-12.4 -19.5-18.4 -16.5-8.8 -4.8-6.2 4.8-1.7 15 4.4 12-2.4 9 0.7 15 4 18 8.2 27 15.5 9.6 7.3 4.5 6 2.9 9 -0.5 3zM427 516.2l-12 0.2 -8.7-3.4 -3.3-6 2.2-6 6.8-4.1 9-1.5 9 0.8 6 2.8 3.7 5 -1.5 6 -5.2 4.2zM454 567.6l-6 0 -3-2 -6.4-13.6 1.2-15 3.2-6 5-3.5 6 0.8 4.1 2.7 4.3 6 2 6 0.2 9 -1.7 6 -3.6 6zM817 609.8l-12 0.9 -11.8-4.7 3-3 14.8 0.3 8.2 2.7zM556 651.1l-12 0.9 -9-5.3 -3.6-7.7 0.9-6 2.7-4.2 6-3.8 9-1.2 6 1.4 6 4.3 3.5 6.5 -0.4 6 -3.1 5.1zM727 642.4l-5.7-0.4 -3.3-3 3.7-3 8.1 0 3 3zM757 651.2l-6-3.2 6-2.3 4.8 2.3z"/>
<path fill="#ffed00" d="M895 127l-6 0.8 -3-1.2 -5.2-6.6 -0.3-3 2.5-4.6 7.7-4.4 7.4 0 5.8 3 1.9 3 -0.7 6zM901 180.3l-9 1.7 -6-2.6 -4.5-5.4 2.4-9 8.1-7.7 9 1.4 5.7 6.3 -0.2 9zM829 219.7l-3 2.2 -6-2.1 -3.7-6.8 -2.6-12 0.1-15 2.8-18 2.9-6 3.5-1.9 3 0.7 3.8 4.2 5.6 21 -0.7 18zM934 174.6l-3 1.5 -1.5-2.1 1.5-1.9zM859 255.2l-0.4-6.2 3.4-6 1.6 3 -0.4 6 -1.2 2.6zM907 259.9l-6 0.4 -3-2.3 -0.6-6 3.6-3.1 5.8 0.1 2.3 3 0.4 3zM949 325.6l-3-0.2 -2.8-4.4 2.8-4.2 3-0.2 3.5 4.4zM748 351l-6 1.8 -6-0.9 -5.5-3.9 -0.1-3 5.6-3.1 9-0.3 5 3.4 0.3 3zM709 375.1l-4.3-3.1 -0.5-3 1.7-3 3.1-1.3 3 0.5 3.3 3.8 -0.4 3 -2.9 2.7zM922 394.1l-6 0 -5.1-4.1 -1.2-3 0.5-6 5.8-5.5 6 0 5.8 5.5 0.9 3 -1.5 6zM238 396.7l-3.7-0.7 3.7-0.6zM301 408.8l-3 0.6 -5.6-4.4 -0.3-6 5.9-1.8 3.7 1.8 2.3 6zM331 603l-9-0.9 -21-8.7 -12 0.7 -15-5 -16.5-10.1 -11.2-12 -8.8-18 -4.9-24 -3.6-3.4 -15-7.8 -10.5-9.8 -11.8-15 -5.1-12 -1.2-12 2.9-12 7.5-12 12.2-11.1 18-9.5 18-5.7 15-2.3 39 1.8 24 12.3 8.3-9.5 6.7-3.3 9 1.3 5.3 5 2.6 6 0.4 9 -7.9 18 12.4 30 1.4 24 21.8 25.4 6 9.7 1.7 6.9 -2 6 -11.3 9 -6.4 13.2 -11.1 13.8 -12.9 8.3zM715 432.5l-12 1.1 -12-1.8 -10-5.8 -1.6-6 2.6-3.3 9-3.7 9-0.8 12 2.1 10.5 5.7 3 6 -1.8 3zM586 471.4l-6 2.4 -4.1-2.8 0.3-3 6.8-2 3 2zM631 474.6l-5.9-3.6 0.5-3 5.4-2.6 5.5 2.6 0.4 3zM904 553l-9 1 -12-1.7 -30-13.6 -18-11.1 -18.7-17.6 -17-9 -4.4-6 4.1-1.3 15 4.7 12-2.6 9 0.6 15 4.1 18 8.2 30 17.5 8.4 7.8 4.4 12 -0.9 3zM424 516.1l-9-0.3 -7.3-2.8 -3.7-6 2.4-6 5.6-3.5 9-1.7 9 0.9 6 3 3 4.3 -1.6 6 -4.4 3.6zM451 567.5l-6-2.6 -3-4.2 -3.4-14.7 3.4-12.6 3-3.7 6-1.6 6 2.6 3.2 3.3 2.9 6 1.3 9 -4.4 13.4 -3 3zM817 609.2l-12 0.9 -10.3-4.1 4.3-2.5 12 0.3 7.1 2.2zM553 651.7l-12-1.1 -6.9-5.6 -2.2-9 2.6-6 3.5-3.1 6-2.4 9 0.1 6 2.7 5 5.7 1.3 6 -2 6 -4.3 4.2zM730 640.2l-6 1.6 -4.6-2.8 7.6-2.8 4.3 2.8zM760 648.6l-3 1.4 -4.3-2 4.3-1.3z"/>
<path fill="#ffe800" d="M892 126.3l-3.5-0.3 -4.2-3 -2.1-6 1.2-3 3.1-3 5.5-1.9 9 1.5 3.2 3.4 -0.2 4.4 -4.7 4.6zM826 219.3l-3.6-0.3 -4.7-6 -3.2-15 2.5-26.8 3-7.4 3-1.8 3 0.9 3.7 5.1 4.9 21 -2.4 21 -3.2 6.8zM898 178.2l-9-0.3 -4.5-3.9 -0.7-3 2.2-6 6-5.2 6 0.3 5.6 4.9 0.4 7zM862 253.5l-3.1-1.5 3.1-7.7 1.2 4.7zM907 258.9l-3 1.3 -5.1-2.2 -1.4-3 0.8-3 5.7-2.9 3 1.1 1.8 4.8zM949 325.1l-3-0.2 -2.3-3.9 2.3-3.7 3-0.3 3 3.9zM745 351.8l-9.8-0.8 -3.6-3 0.1-3 6.2-3 7.1 0.1 4.2 2.9 0.4 3zM712 374.3l-3 0.5 -3.9-2.8 -0.6-3 2.3-3 5.2-0.5 2.9 3.5 -0.4 3zM922 393.9l-6 0 -4.9-3.9 -1.2-3 0.5-6 5.6-5.3 6 0 5.6 5.3 -0.6 9zM301 407.1l-3 0.4 -4.2-2.5 -1.5-3 1.1-3 4.6-1.1 3 1.4 1.9 2.7zM343 600.1l-9 2.2 -9-0.2 -18-7.3 -6-4.6 -9 2.4 -9-2.2 -17.5-8.4 -13.5-12 -10.2-18 -6.8-27.8 -3-3.3 -15-7.6 -9-7.4 -12.2-13.9 -6.3-12 -2.2-12 1.8-12 6.5-12 9.4-9.7 21-12.3 18-5.7 12-2 15-0.5 27 2 24 12.6 6.1-8.4 5.9-4.8 9-0.9 6 3.5 4.5 8.2 0.4 9 -1.9 6 -7.5 12 12.9 30 0.6 24 24 26.7 5.9 9.3 1.3 6 -2.3 6 -12.5 9 -16.5 27zM712 432.1l-12 0.5 -12-2.9 -5.3-3.7 -1.5-6 3.8-3.8 9-2.8 9-0.2 9 2 8.6 4.8 2.9 6 -2.5 3.1zM586 471.1l-6 2.5 -3.9-2.6 0.4-3 6.5-1.8 2.7 1.8zM631 474.4l-5.6-3.4 0.5-3 5.1-2.4 5.2 2.4 0.4 3zM901 552.8l-9 0.5 -12-2.3 -30-14.6 -18-11.9 -15-14.6 -17.2-8.9 -4.2-6 6.4-0.4 12 4.5 12-2.7 12 1 15 4.6 15 7.1 30 17.7 7.6 7.2 3.2 6 0.8 6 -2.6 4.3zM430 514.3l-9 1.5 -9-1.5 -6-4.3 -0.5-6 3.5-4.1 6-2.7 9-1 8.4 1.8 4.3 3 1.5 6 -2.2 3.6zM457 564.8l-3 1.6 -6-0.1 -5.3-5.3 -2.7-6 -0.2-15 2.5-6 5.7-5.1 9 2.4 4.5 5.7 2 6 -0.5 12zM814 609.6l-9 0 -8.7-3.6 8.7-2 11.9 2 -1 3zM553 651.3l-12-1.1 -6.4-5.2 -2.3-9 5.7-8.6 6-2.6 9 0.1 6 2.8 4.6 5.3 1.3 6 -2.1 6 -3.8 3.7zM727 640.4l-6.2-1.4 3.2-1.6 5.7 1.6z"/>
<path fill="#ffe300" d="M895 123.5l-6 0.7 -4.4-4.2 0.9-6 3.5-2.5 9-0.6 3.9 3.1 -0.9 5.4zM826 216.5l-3 0.1 -3-2.6 -3-6.9 -1.2-9.1 2.2-24 2-7.1 3-2.5 3 1.1 3 4.4 4.4 19.1 -1.4 17 -3 7.6zM898 174.7l-6 1 -3.6-1.7 -1.7-3 2-6 3.3-2.4 3-0.5 5.1 2.9 1 6zM862 252.3l-1.5-3.3 1.5-3.5zM904 259.5l-4.2-1.5 -1.5-3 0.9-3 4.8-2.2 3 1.6 1.1 3.6 -1.2 3zM949 324.6l-3-0.3 -1.8-3.3 1.8-3.2 3-0.3 2.5 3.5zM745 351.3l-9-0.6 -3.3-2.7 0.3-3 6-2.7 6 0.5 3.4 2.2 0.4 3zM712 374l-3 0.4 -3.6-2.4 -0.5-3 2.7-3 4.4-0.1 2.5 3.1zM922 393.7l-6 0 -4.7-3.7 -1.2-3 0.4-6 5.5-5.1 6-0.1 5.5 5.2 -0.7 9zM301 405.6l-3 0.7 -3-1.5 -1.6-2.8 1.2-3 3.4-0.5 3 2.1zM703 432l-15-3.5 -5.3-5.5 0.4-3 7.9-5 12-0.9 11 2.9 7.1 6 0.3 3 -2.9 3zM340 600.8l-15 0.7 -18-8.9 -6-4.7 -9 2.8 -12-3.4 -14.9-8.3 -12.1-11.9 -8-15.1 -5.9-24 -3.3-6 -3.8-3.5 -15-7.6 -9-7.5 -10.2-11.4 -6.4-12 -2.3-12 1.9-12 6.6-12 10.4-10.1 18-10.3 15-5 15-2.8 15-0.5 27 2.1 24 13 6.7-10.4 5.3-4.3 9-1 7.3 5.3 2.8 6 0.4 9 -2 6 -8.8 12 13.5 30 0.9 9 -1.2 15 2.1 3.8 15 13.2 9 10.7 5.3 8.3 1.4 6 -3.7 7.1 -12.9 7.9 -15.1 27 -7.8 6zM583 473.2l-6-1.5 -0.3-3.7 3.3-1.8 5.4 1.8 0.5 3zM631 474.2l-5.4-3.2 0.6-3 4.8-2.2 4.9 2.2 0.5 3zM898 552.5l-18-1.9 -30-14.8 -18-11.9 -15-14.7 -16.7-8.2 -3.1-3 -0.4-3 5.2 0 15 5 9-3 12 0.8 15 4.6 15 7.2 30 17.7 6.9 6.7 3.1 6 0.4 6 -4.4 4.9zM430 513.7l-9 1.6 -9-1.7 -4.9-3.6 -0.6-6 2.5-3.2 6-3 9-1.1 7.2 1.3 4.8 3 1.5 6 -1.7 3zM457 564.1l-3 1.8 -6-0.2 -4.9-4.7 -2.8-6 -0.2-15 2.8-6 5.1-4.4 9 2.3 4 5.1 2.1 6 -0.4 12zM814 609.1l-9 0 -6.7-3.1 12.7-1.1 4.4 1.1zM550 651.5l-6-0.6 -6-2.9 -5.4-9 3-9 8.4-4.8 12 1.1 5.1 3.7 3.2 6 -0.4 6 -1.9 3.4 -6 4.6z"/>
<path fill="#ffde00" d="M895 120.7l-3 1.1 -4.5-1.8 -0.6-3 2.1-3 9.1 0 0.8 3zM826 213.2l-3 0.1 -3-3.3 -3-12 2.6-24 3.4-6.4 3 1.4 3 5.5 3.2 14.5 -1.3 15zM895 171.5l-3.6-0.5 0.6-4.1 3-0.6 1.8 1.7zM904 258.8l-3.3-0.8 -1.6-3 1-3 3.9-1.4 3.4 4.4zM949 324.2l-3-0.5 -1.3-2.7 1.3-2.5 3-0.6 2 3.1zM742 351.3l-8.2-3.3 0.5-3 7.7-2.2 5.5 2.2 0.5 3.1zM712 373.6l-3 0.4 -3.2-2 -0.5-3 3.1-3 3.6 0.4 2.1 2.6zM922 393.5l-6-0.1 -4.5-3.4 -1.3-3 0.5-6 5.3-5 6 0 5.3 5 -0.7 9zM298 405.1l-3.5-3.1 3.5-2.5 3.1 2.5zM340 600.4l-15 0.5 -24-14.6 -9 2.6 -9-2.4 -14-7.5 -12.7-12 -8.2-15 -6.9-24 -3.3-6 -5.9-5.5 -15-7.8 -9-7.7 -8.3-9 -6.5-12 -2.4-12 1.9-12 4.5-9 10.8-11.2 21-11.9 27-6.6 42 1.4 24 13.8 5.1-9.5 6.9-6.8 9-1 6.8 4.8 3.5 9 -1 9 -11.4 15 14 30 1 9 -2 15 3.9 6 12.2 9.4 12 13.2 4.8 7.4 1.4 6 -3.2 6.3 -15.3 8.7 -11.3 18 -2.2 9 -7.7 6zM715 429.3l-9 1.7 -12-1.1 -7.6-3.9 -1.9-3 0.5-3 9-4.7 15 0.8 7.8 3.9 2.4 3 0 3zM583 473l-6-1.5 0-3.5 3-1.6 5.1 1.6 0.5 3zM634 473.1l-6 0 -2.1-2.1 0.5-3 4.6-2 3 0.7 2.1 4.3zM895 552.1l-18-3.2 -33-17.1 -12-8.6 -15-14.7 -16.1-7.5 -3.2-3 0.7-3 18.6 5.9 12-3.6 15 2.3 21 8.8 30 17.5 9.2 8.1 3.5 9 -2.5 6zM430 513.1l-9 1.7 -8.9-1.8 -3.9-3 -0.7-6 2.4-3 6.3-3 13.8 0 5.1 3 1.8 3 -2 6zM454 565.3l-6-0.2 -3-2.3 -5.1-10.8 0-9 1.7-6 6.4-6.7 3-0.4 6 2.6 5.7 10.5 0.2 9 -1.8 6zM811 609.1l-10.2-3.1 13.2 0zM550 651.1l-6-0.5 -5.4-2.6 -3.1-3 -2.5-6 3.1-9 7.9-4.5 12 1.1 4.6 3.4 3.3 6 -2 9 -5.9 4.6z"/>
<path fill="#ffd600" d="M826 208.8l-4.1-1.8 -2.6-9 0.7-15.1 3-9.3 3 0.9 4.4 14.5 -0.6 12zM904 258.1l-4.2-3.1 1.3-3 2.9-0.6 2.6 3.6zM949 323.4l-3-0.7 0-3.3 3-0.7 1.4 2.3zM745 349.7l-6 0.7 -4.1-2.4 0.7-3 9.4-0.9 2 3.9zM712 373.2l-3 0.5 -2.7-1.7 -0.6-3 3.3-2.9 4.7 2.9zM922 393.3l-6-0.1 -5.7-6.2 0.6-6 5.1-4.8 6 0 5.2 4.8 0.5 6 -1.3 3zM298 403.1l-1.5-1.1 1.5-0.9 1.1 0.9zM337 600.7l-12-0.4 -5.2-3.3 -3.8-4.9 -12-7 -9 1.9 -6-0.4 -9-3.2 -11.4-7.4 -13.1-15 -10.9-30 -5-9 -7.6-7.3 -15-8.1 -15.4-14.6 -7.7-15 -1-15 6.1-15 12-11.7 21-11 24-5.6 42 1.3 24 14.6 5.7-11.6 6.3-6.3 9-1 6.3 4.3 3.6 9 -0.9 8.4 -3 5.8 -8.4 6.8 -1.5 3 14.8 30 0.9 9 -2.5 12 0.5 6 17.2 13.6 9 9.4 7.3 10 1.4 6 -3.4 6 -14.5 6 -2.8 3 -10.1 15 -0.3 9 -4.1 6zM712 429.1l-9 1.1 -9-1.3 -5.6-2.9 -2-3 0.6-3 4.4-3 5.6-1.2 12 1.3 8.2 5.9 -0.2 3zM583 472.8l-6-1.6 0.3-3.2 2.7-1.4 4.8 1.4 0.5 3zM634 472.9l-6 0 -1.9-1.9 0.6-3 4.3-1.8 3 0.7 1.9 4.1zM427 513.6l-9 0.4 -6-1.9 -3-2.7 -0.5-5.4 3.5-3.6 6.4-2.4 8.6-0.2 6 2.3 3.2 3.9 -0.1 3 -3.1 3.8zM901 550.4l-9 1.3 -9-1.2 -30-14.2 -18-11.4 -18-17.1 -15.6-6.8 -3.1-3 0.7-2 6 0.8 12 5.2 9-3.8 12 0.4 12 3.4 15 6.8 30 17.6 8.6 7.6 3.2 9 -0.6 3zM454 564.7l-6-0.2 -3-2.3 -4-7.2 -1.1-6 2.2-12 2.9-4.2 6-2.3 6 2.6 3 3.7 2.8 9.2 -2.1 12zM556 649.3l-9 1.5 -9-3.7 -4.6-8.1 3.2-9 10.4-4.7 6 0.6 7.2 4.1 3.6 9 -2.4 6z"/>
<path fill="#ffcc00" d="M904 255.6l-1.4-0.6 1.4-0.8zM949 321.6l-2.1-0.6 2.1-0.6zM742 349.1l-4.3-1.1 1.2-3 4.3 0 1.7 3zM712 372.4l-4.5-0.4 -0.8-3 2.3-1.9 3 0.7zM919 393.6l-7-3.6 -1.6-6 2.6-5.3 6-2.7 6 2.7 2.6 5.3 -1.6 6zM334 600.4l-9-1.6 -2.7-1.8 -4.7-9 -13.6-5.8 -12 2 -9-2.5 -6-3.6 -15-17.1 -10.6-27 -11.1-15 -6-6 -17.3-10.3 -12-10.7 -7.8-15 -1.4-12 4.1-15 11.1-11.3 12-7.7 15-6 15-3.3 15-0.9 30 1.9 24 16.1 3-0.5 2.2-12.3 6.8-8.2 9-1.1 6 4.5 3.1 7.8 -1.2 9 -4.9 7 -11 5 17.5 36 -0.2 9 -3.7 15 2.2 3 16.2 10.1 9 8.5 9 11.1 1.5 6.3 -4.5 6.1 -18 3.8 -13.5 20.1 0 3 3.8 6 -0.5 3 -7.8 6.2zM709 427.2l-12 0.2 -6.4-4.4 3.4-4.1 12-0.3 6.8 4.4 -1 3zM583 472.4l-5.6-1.4 0.6-3 2-1.1 4.2 1.1 0.6 3zM634 472.4l-6 0 -1.4-1.4 0.7-3 3.7-1.4 3 0.8 1.4 3.6zM814 504.3l-6-0.7 -8.3-5.6 2.3-1.1 4.2 1.1 9.6 6zM424 513.1l-6-0.2 -6-2.5 -2.1-3.4 0.5-3 3-3 7.6-2.4 11.6 2.4 2.1 3 -0.1 3 -4.6 4.3zM898 549.9l-9 0.7 -9-1.9 -33-16.8 -17.5-12.9 -11-12 -0.6-3 8.1-4.6 12-0.1 12 3.3 18 8.7 27 16.1 7.4 6.6 2.8 9 -1.2 3.1zM451 564.2l-3-0.8 -4.9-5.4 -2.6-12 1.2-6 3.3-5.8 6-2.6 3 0.7 5.1 4.7 3.1 12 -1.1 6 -3.4 6zM556 648.6l-9 1.6 -9-4 -3.9-7.2 1.2-6 2.3-3 6.4-3.5 6-0.5 9.3 4 3.8 9 -2.5 6z"/>
<path fill="#ffc200" d="M709 372.2l-1.2-3.2 4.2-0.2zM919 393.2l-6.6-3.2 -1.8-6 2.4-4.9 6-2.8 6 2.8 2.4 4.9 -1.8 6zM343 445.6l-6 1.3 -6-1.6 -3.9-7.3 1.3-12 2.6-4.4 6-3.9 9 1.9 3 3.4 2 6 -1.1 9zM706 423.4l-3 1.3 -6.2-1.7 3.2-1.8zM343 597.8l-9 1.8 -6-0.7 -3.6-1.9 -1.5-3 1.9-6 -2.6-3 -18.2-5 -15 1.6 -10.8-5.6 -9.4-15 -4.9-15 -7.9-15 -21-20.6 -24-15.6 -7-8.8 -4.5-12 -0.7-9 2.1-12 7.1-9.2 15-10 12-5.3 15-3.9 18-1.3 30 2.4 30 22 21.9 35.3 1 9 -5.9 15 0.6 6 21.4 12.1 12.6 11.9 5.7 9 -1.4 6 -4.9 2.8 -20.3 0.2 -6.1 12 -6.6 7.7 -6 3.2 -6 0.5 -4.4 3.6 -1.8 3 15.2-2.7 9 5.3 0.3 3.4 -2.4 3zM583 471.9l-5-0.9 0.7-3 4.9 0 0.6 3zM634 471.9l-6 0 -0.2-3.9 6.2-0.2zM430 510.1l-6 1.9 -6-0.3 -6-4.4 0.4-3.3 8.6-4.4 9 1.1 3.2 3.3 -0.2 3zM808 501.9l-3.8-0.9 0.8-1.8 4.2 1.8zM895 549.4l-9 0 -9-2.6 -33-17.7 -16.2-13.1 -6.6-9 0.7-3 4.1-3.3 6-1.1 15 2.7 15 6.4 32.5 19.3 6.6 6 2.6 6 -1.6 6zM454 562.6l-6-0.3 -3-2.6 -3.8-10.7 2.8-12 4-3.8 3-0.6 7.2 4.4 3.2 9 -1.4 9.8zM553 649.1l-9-0.1 -6-3.6 -2.3-3.4 0.4-9 4.9-4.7 6-1.7 6 0.5 7.9 5.9 0.7 9 -2.6 3.7z"/>
<path fill="#ffb800" d="M925 390.3l-6 2.6 -6-2.7 -2.1-6.2 2.1-4.5 6-2.9 6 2.9 2.2 4.5zM343 444.3l-9 0.3 -5.3-6.6 -0.7-6 1.5-6 4.5-5.8 3-1.2 6 0.4 3 2.1 3.9 7.5 -0.9 9zM322 579.2l-15-1.6 -15 3 -6-1.5 -6-4.1 -4-8 -0.7-6 4.2-9 -10.4-12 -5.2-9 -13.9-8 -15-15.7 -18-10.5 -8.9-7.8 -6.4-21 1.3-15 5-7.1 15-9.7 15-6.3 15-3.4 18-0.8 24 1.7 21.1 13.6 11.9 10.9 17.1 25.1 3.9 9 -0.4 9 -8.9 18 3.4 3 14.9 5.1 9 5.7 13.9 13.2 3.2 9 -2.1 3.1 -6 1.8 -15-3.1 -6 0.3 -12 17.8zM583 471.5l-4.4-0.5 0.8-3 3.6 0.1zM634 471.3l-3 1.2 -3.3-1.5 1.1-3 2.2-0.7 2.2 0.7zM427 510.2l-10-0.2 -3-3 0.6-3 4.9-3 8 0 3.9 3 -0.2 3zM898 547.3l-9 1.6 -9-1.8 -33-17.1 -17.9-14 -4.7-6 -0.3-6 4.9-3.2 9-0.1 15 4.4 12 6 33 20.7 4.5 8.2 -1.5 4.8zM454 561.5l-6-0.3 -3-2.8 -3.2-9.4 0.5-6 2.6-6 6.1-3.3 6.2 3.3 3.5 9 -1.2 9zM343 597.2l-12 1.4 -4.4-1.6 -1.6-3 3-4.9 6-2.8 12-0.7 4 2.4 0.8 3zM553 648.5l-9-0.2 -7.6-6.3 -0.7-6 5.3-7 6-1.8 6 0.5 7.2 5.3 0.7 9z"/>
<path fill="#ffad00" d="M922 392.2l-6 0 -4.7-5.2 0.8-6 3.9-3.4 6 0 3.9 3.4 0.8 6zM340 444.1l-6-1.2 -4.8-7.9 1.8-9.8 6-4.7 8.1 2.5 3.9 7.9 -3 9.6zM295 579l-9-1.1 -7.2-7.9 0.5-9 5.4-9 -9.3-12 -4.7-12 -20.7-7.4 -12-14 -21-11.8 -6.9-5.8 -5.4-18 -0.4-15 2-6 7.7-6.9 21-9.9 18-4.5 15-0.9 27 2.5 18 11.2 10.3 8.5 23.2 33 1.3 6 -0.8 6 -12.8 18 -0.2 4.8 18 2.9 9 3.6 15 12 6 7.4 0 6.2 -6 2.6 -24-6.1 -6 0.7 -3.1 10.9 -5.9 7.2 -15 7.2zM631 472l-2.6-1 2.6-3.3 2.7 3.3zM583 471.1l-3.7-0.1 0.7-2.5zM427 508.4l-6 1.1 -3-1.2 -1.5-1.3 0.6-3 3.9-1.8 6 0.3 2.3 1.5 -0.2 3zM895 547.3l-6 0.8 -9-1.8 -36-19.1 -16.3-14.2 -2.7-6 1.1-3 8.9-2.8 15 3.4 42 23.7 6.9 5.7 2.3 6 -0.6 3zM326.8 534l0.9-3 -2.7-3 -2.2 3 0.7 3 1.5 1.1zM451 561.1l-6-4 -2.5-8.1 2.5-10.7 6-3.6 6 3.3 3.1 11 -3.1 9zM340 597.5l-9 0.2 -4.1-3.7 1.6-3 8.5-4 6-0.5 4.4 1.5 1.9 3 -2 3zM550 648.5l-9-2.3 -4.8-7.2 1.4-6 6.4-4.6 9-0.1 6 4.1 1.8 3.6 -0.6 6 -2.2 3z"/>
<path fill="#ffa300" d="M922 392l-6 0 -4.4-5 0.8-6 3.6-3.1 6 0 3.6 3.1 0.9 6zM343 441.5l-6 1 -3.2-1.5 -2.8-4 0-9 3-4.2 3-1.2 6 2.2 3.4 4.2 0.7 6zM301 576.3l-6 1.8 -6-0.3 -6-3.4 -2.6-4.4 1.3-9 6.5-9 -8.7-12 0.5-15 -5.9-3 -15.1-0.1 -6-1.7 -5.4-4.2 -8.9-12 -21.7-10.7 -5-4.3 -4.6-18 -1.4-15 1.9-6 6.1-5.5 18-8.3 21-5.5 15-0.8 24 2.4 18 9.6 9 6.7 24 30.8 3.4 9.6 -2.3 9 -13.1 13.9 -15.7 10.1 6.7 17.3 8.8 3.7 2.1 3 1.6 6 -1.1 6 -5.8 6 -11.6 3.9zM631 471.6l-1.6-0.6 1.6-2.7 1.6 2.7zM424 507.6l-3.9-0.6 0.6-3 5.1 0 -0.1 3zM895 546.3l-6 1 -9-1.8 -36-19.1 -15.1-13.4 -2.4-6 1.5-3 10-1.9 12 3 42 24.1 5.8 4.8 2.2 6 -0.8 3zM379 550.4l-9-0.4 -27-10.9 -6-5.1 -1.3-3 1.6-6 5.7-2.6 6-0.3 12 3.9 18 15.1 2.5 4.9zM454 559.4l-6-0.3 -3.4-4.1 -1.5-6 1.9-9.3 6-4 6 3.7 2.3 6.6 -1.4 9zM337 597.3l-5.1-0.3 -3.1-3 2.2-3.1 9-3.1 6 1.3 1.6 1.9 -1.6 3zM556 645.8l-9 2 -6-2.3 -4.1-6.5 1.5-6 8.6-4.7 9 2.1 3 3.1 1.4 5.5z"/>
<path fill="#ff9900" d="M922 391.7l-6 0 -4.2-4.7 1-6 3.2-2.8 6 0 3.3 2.8 0.9 6zM340 441.1l-3.1-0.1 -3.7-3 -1.5-6 2.3-5.4 3.6-0.6 6.6 6 -0.2 6zM265 519.4l-12-1.3 -5.4-5.1 -6.6-10.3 -21-9 -6.3-4.7 -1.6-3 -4.5-30 1.7-6 4.7-4.4 15-6.9 24-6 18-0.6 21 2.7 15 7.3 10.9 7.9 25.6 33 1.3 9 -2.3 6 -8.5 8.8 -9 5.7 -21 5 -24-1.7zM892 546.2l-12-1.5 -36-19.2 -14-12.5 -2-6 1-1.8 3-2 6-0.4 12 2.9 42 24.3 4.7 4 2.2 6 -1.2 3zM298 576.4l-6 0.9 -6-1.8 -2.8-2.5 -2-6 2.3-6 8-9 -7.5-9 -1.7-6 0.9-3 5.8-7.5 9-3.4 9 3.1 6.5 4.8 7.9 15 0.9 6 -0.8 3 -5.5 4.2 -7.7 10.8zM376 549.6l-6-1.2 -21-9.5 -6-4.9 -1.5-6 3.3-3 4.2-0.8 12.7 3.8 17.3 15 0 5.1zM454 558.4l-6-0.4 -4.2-9 1.2-7.6 3-3.8 3-0.9 5.4 3.3 2.2 6 -0.4 6zM343 594.6l-6 1.7 -6.2-2.3 2.6-3 6.6-1.9 5.8 1.9zM556 645.1l-6 2.2 -8.7-2.3 -3.8-6 1.7-6 7.8-4.2 9 2.3 3 3.8 0.8 4.1z"/>
<path fill="#ff8f00" d="M922 391.5l-6 0 -3.9-4.5 0.9-5.9 3-2.7 6 0 3 2.7 1 5.9zM340 438.2l-3.8-0.2 -2.3-3 0.1-3.3 3-0.9 3 2.7zM265 516.8l-6 0.9 -6-1.7 -2.9-3 -3.8-9 -3.3-3 -20-7 -7.7-5 -2.3-6 -1.1-18 -2.9-9 1.6-6 3.4-3.3 15-7.1 24-5.1 18-0.5 21 2.9 12 5.3 12 8.3 26 32.5 1.5 9 -2.5 6 -13 11 -9 3.2 -9 0.9 -30-2.3zM895 543.9l-6 1.7 -9-1.7 -30-15.6 -16.5-12.3 -3.9-6 -0.2-3 3.3-3 8.3-0.2 21 8.3 33 21.3 2.7 6.6zM376 547.4l-7.9-1.4 -17.7-9 -4.8-6 1-3 8.4-1.1 8.7 4.1 13.3 12 0.6 3zM295 576.3l-9-1.9 -3.3-4.4 -0.3-3 2.6-6 10.3-9 -8.7-9 -1.4-6 6.8-7.6 9-1.1 6 1.8 5.2 3.9 3.6 9 -0.4 3 -7.4 9 1.6 6 -1.2 6 -5.5 6zM451 558.1l-4.5-3.1 -2.1-6 0.7-6 2.9-4.2 3-1.1 3 1 3 3.9 1 6.4 -2 6zM340 594.7l-6.7-0.7 3.7-3.2 6.2 0.2 -1 3zM553 646.1l-9-0.2 -4.7-3.9 -0.9-6 2.6-3.9 9-2.7 7.2 3.6 1.8 6.4 -3 4.9z"/>
<path fill="#ff8500" d="M922 391.3l-6 0 -3.7-4.3 0.7-5.3 3-3.1 6 0 2.7 2.4 1 6zM265 513.5l-9 1.3 -3-2.1 -2.6-8.7 -2.7-3 -5.9-3 -18.8-5 -6.3-4 -2.3-6 0.3-15 -4.4-12 1.5-6 3.1-3 17.1-7.4 21-3.6 18-0.2 24 3.7 12 6.1 9.4 7.4 22.2 27 3.2 6 0.4 6 -2.7 6 -5.5 5.5 -9 5.1 -15 2.2 -33-3.8 -6 1.6zM892 544.2l-12-1.1 -33-17.3 -12.5-9.8 -3.8-6 0.2-3 4.1-2.6 6 0.1 9 2.4 12.4 6.1 32 21 2 6zM304 549.6l-9-1.7 -5.9-4.9 -1.2-6 2.1-3 5-2.8 6-0.4 9 4.7 2.4 7.5 -2.4 3.7zM373 545l-7.3-2 -11.3-6 -4.2-6 4.8-1.7 6 2.1 11.2 8.6 2.1 3zM454 556l-3 1 -3-1.4 -2.9-6.6 1-6 1.9-3 3-1.2 3.1 1.2 3.1 6 -0.5 6zM301 573.2l-6 2.3 -6-0.4 -5.3-5.1 0.5-6 4.8-5.3 6-3.2 6-0.6 3 1.3 3.4 7.8 -2.6 6zM553 645.5l-6 0.6 -6-3 -2.1-4.1 2.1-6.2 9-2.9 6.4 3.1 2 6 -1.1 3z"/>
<path fill="#ff7a00" d="M922 391l-6 0 -3.5-4 -0.3-3 3.8-5.2 6 0 2.5 2.2 1 6zM259 510.9l-1.7-0.9 -0.5-6 -3.5-3 -6-3 -21.3-4.7 -9-5.8 -1.4-4.5 2-9 -0.4-6 -5.7-12 1.4-6 4.1-3.6 18-6.8 18-2.3 18 0.2 24 3.5 9 4.1 10.4 7.9 26.1 33 0.4 6 -2.8 6 -7.1 6.1 -9 3.9 -12 1 -24-4.8 -12-0.6 -9 1.7zM892 543.2l-10.1-0.2 -34.9-18 -11.5-9 -3.6-6 0.5-3 5.6-2 6 0.6 17.3 7.4 15.7 11.8 16.2 9.2 2 6zM304 546.8l-6 0 -6-3.4 -1.9-3.4 0.5-3 7.4-4.1 9 3 2.6 4.1 -0.4 3zM364 537.6l-3.7-0.6 0.7-1.3zM451 555.8l-3-1.6 -2-5.2 1-6 4-3.1 4.2 3.1 1.2 6 -2.4 5.7zM298 574l-9 0.3 -4.4-4.3 -0.3-3 4.7-7.2 9-3.5 6 2.7 2 5 -2.5 6zM550 645.6l-6-1 -4.4-5.6 2.2-6 5.2-2.4 6 0.8 4.5 4.6 -0.9 6z"/>
<path fill="#ff7000" d="M922 390.8l-6 0 -3.2-3.8 -0.3-3 3.5-4.9 6 0 2.2 1.9 1 6zM319 507.2l-12-0.4 -24-5.5 -24-1.9 -36-8.1 -5.8-5.3 2.7-15 -1.6-6 -5.8-9 1.6-6 11.9-7.2 21-4.2 24 0.2 21 2.6 9 3.2 14.3 11.4 23.9 30 0.4 6 -3 6 -8.6 6.4zM889 543.1l-9-1.8 -36-18.9 -9.8-9.4 -1.1-3 1.1-3 3.8-1.2 9 1.2 15 7.1 15 12 14.9 7.9 1.9 6zM304 544l-9-0.8 -2.2-3.2 1.1-3 4.1-1.8 6 1.3 2.5 3.5zM454 553.1l-3 1.5 -3-2 -1.1-3.6 1.1-6 3-1.7 3 1.5 1.3 3.2zM298 573.2l-9 0.3 -3.5-3.5 -0.4-3 3.9-6.2 9-3.1 5.8 3.3 1 3 -2.4 6zM550 645.1l-6-1.2 -3.7-4.9 2.5-6 4.2-1.8 6 0.8 3.8 4 -1.1 6z"/>
<path fill="#ff6600" d="M922 390.6l-6 0 -3-3.6 -0.3-3 3.3-4.7 3-0.8 5 2.5 1 6zM325 504.4l-15 1.4 -21-5.9 -54-5.9 -12-3.5 -4.7-4.5 -0.5-3 4.1-15 -6.8-9 -1.6-6 3.5-4.8 6-3.6 21-5.1 21-0.2 33 4.9 15 11.3 24.9 30.5 -0.9 9.4 -5.5 5.6zM892 540.3l-3 1.6 -6-0.4 -15-8.8 -18-7.4 -12.5-9.3 -2.2-3 -0.3-4.5 3-1.9 6 0.2 15 6.1 18 14.5 13.4 6.6 2.2 3zM301 541.4l-4.3-1.4 4.3-1.2 1.3 1.2zM451 553l-3.2-4 0.2-3.4 3-2.9 3 2.4 0.5 3.9zM295 573.5l-6-0.9 -3-5.6 4.1-6 7.9-2.3 4.3 2.3 0.9 6 -2.2 3.3zM553 643.4l-6 0.9 -4.4-2.3 -1.3-6 2.5-3 6.2-1.3 3.5 1.3 2.9 6z"/>
<path fill="#ff5c00" d="M922 390.3l-6 0 -2.8-3.3 -0.3-3 3.1-4.5 3-0.8 4.7 2.3 1.1 6zM322 504l-12 0.4 -18-5.9 -20.3-3.5 -30.7-0.9 -15-2.9 -6-4.3 -1.2-3.9 5.4-15 -8-9 -1.7-6 2.5-3.9 6-3.9 21-5.1 18-0.2 36 5.2 13.8 10.9 10.6 15 14.1 15 0.6 6 -3.1 5.4zM889 540.6l-7.3-0.6 -10.7-7.6 -21-7.9 -11.5-8.5 -2.8-6 2.3-2.3 6-0.2 14.1 5.5 18.9 16.1 11.8 4.9 2.3 3zM451 550.8l-1.3-1.8 1.3-4 1.6 4zM298 571.7l-6 1.2 -3-1.2 -2.2-4.7 1.1-3 7.1-4.4 5.7 1.4 1.6 6zM553 642.6l-6 1 -3-1.2 -2.2-3.4 0.4-3 4.8-3.6 6 1.1 2.6 5.5z"/>
<path fill="#ff5200" d="M922 390.1l-6 0 -2.6-3.1 -0.3-3 2.9-4.3 3-0.8 4.5 2.1 1.1 6zM325 501.9l-12 1.6 -36-10 -36 0 -15-3 -5.7-4.5 -0.6-3 6.7-15 -9.1-9 -2-6 4.7-5.5 6-3 21-4.1 15 0.3 36 5.3 12.1 10 10.3 15 14.7 15 0.6 6 -1.3 3zM871 529.8l-12-2.1 -12-5.6 -7.4-6.1 -2.5-6 6.9-1.8 13 4.8 11.3 9 4.1 6zM889 537.8l-3 2 -3-0.8 -3.6-2 -2.4-4 9 0.8zM298 570.9l-6 1.3 -3-1.5 -1.4-3.7 1.2-3 6.2-3.5 3.8 0.5 2.8 3 -0.2 3zM550 643l-5.2-1 -2.1-3 0.3-3 4-3 3.2 0 4.1 3 0.4 3z"/>
<path fill="#ff4700" d="M919 390.8l-3-0.9 -2.7-5.9 2.7-4.1 3-0.8 3 0.8 2.7 4.1 -2.7 5.9zM322 501.6l-12 0 -16.9-6.6 -16.1-3.5 -33 1.6 -18-3.2 -4.7-3.9 -0.7-3 8-15 -10.3-9 -2.1-6 3.8-4.8 6-3.2 18-3.8 21 0.4 33 5.3 10.5 9.1 10.5 15.7 14.7 14.3 0.7 6 -1.6 3zM865 528l-10.9-3 -10.1-5.9 -5.3-6.1 0.2-3 8.1-0.5 13.5 6.5 8.1 9 -0.6 2.3zM298 570.1l-6 1.3 -2.7-1.4 -0.9-3 1.5-3 5.1-2.7 3 0.4 2.4 2.3 0 3zM550 642.4l-3.6-0.4 -2.9-3 0.4-3 3.1-2 6.4 2 0.5 3z"/>
<path fill="#ff3d00" d="M919 390.6l-5.2-3.6 -0.3-3 2.5-3.8 3-0.9 3 0.9 2.5 3.8 -0.3 3zM316 501.2l-36-11.2 -36 2.5 -18-3.3 -3.8-3.2 -0.7-3 9.2-15 -11.4-9 -2.2-6 1.6-3 7.3-4.6 18-3.9 18 0.3 36 6 11.4 11.2 9.5 15 13.3 12 0.7 6 -1.9 3.2 -6 4.1zM865 525.9l-9-0.9 -9-4.6 -7-7.4 1-2.8 6-0.1 12.3 5.9 6.1 6 0.7 3zM295 570.7l-4.2-0.7 -1.5-3 1.6-3 4.1-1.8 4.3 1.8 0.1 3zM550 641.4l-5.4-2.4 0.7-3 4.7-1.2 2.1 1.2 0.9 3z"/>
<path fill="#ff3300" d="M919 390.4l-5-3.4 -0.3-3 2.3-3.6 3-1 3 1 2.3 3.6 -0.3 3zM322 499l-9 0.6 -18-7.8 -15-3.3 -33 3.4 -12-0.6 -8.1-2.3 -3.7-3 -0.9-3 2.8-6 7.6-9 -12.4-9 -2.4-6 1.7-3 6.4-4.1 18-4 18 0.3 21 4.8 12 0.3 5 2.7 5.5 6 11.2 18 13.9 12 0.4 6.6 -3 3.4zM862 524.9l-12-3.6 -8.6-8.3 2.6-2.1 9.1 2.1 8.4 6 2.1 3zM298 567.6l-3 2.4 -3-0.2 -1.6-2.8 1.6-2.9 3-1 3.1 0.9zM550 640l-3.9-1 0.7-3 3.6 0 0.9 3z"/>
<path fill="#ff2900" d="M919 390.2l-4.8-3.2 -0.4-3 2.2-3.4 3-1 3 1 2.2 3.4 -0.4 3zM319 498.4l-6.9-0.4 -14.1-7.1 -18-3.7 -33 4.3 -18.8-2.5 -4.1-3 -0.1-6 10.6-12 -13.3-9 -2.6-6 1.8-3 5.5-3.6 18-4.1 15 0.1 24 5.3 12 0.3 6.8 5 14.2 22.7 12.8 10.3 1.2 3 -2 5zM859 523.1l-11.2-4.1 -4.5-6 6.7-0.4 6.6 3.4 4.8 6zM295 568.6l-3.5-1.6 3.5-3 2 3z"/>
<path fill="#ff1f00" d="M919 390l-4.6-3 -0.4-3 2-3.2 3-1 3 1 2 3.2 -0.4 3zM322 496.1l-9 0.6 -15-7.8 -15-2.8 -33 4.9 -20.4-2 -4.5-3 -0.4-6 11.7-12 -14.1-9 -2.8-6 1.8-3 7.7-4.3 18-3.3 15 0.8 21 5.3 12 0.3 5.6 4.2 14 24 12.1 9 0.8 6zM856 521.3l-9.8-5.3 0.8-2.6 7.8 2.6 3.3 3z"/>
<path fill="#ff1400" d="M922 388.7l-3 1.2 -4.4-2.9 -0.4-3 1.8-2.9 3-1.1 3 1.1 1.8 2.9zM319 495.4l-6.1-0.4 -11.9-7.4 -15-2.4 -36 5.4 -18.9-1.6 -5.1-3 -0.5-6 12.6-12 -14.9-9 -2.8-6 1.8-3 6.8-3.9 18-3.3 15 0.9 21 5.5 12 0.4 6.4 6.4 10.2 21 13.4 10.2 0.1 4.8z"/>
<path fill="#ff0a00" d="M922 388.5l-3 1.2 -3-1.2 -1.6-4.5 1.6-2.6 3-1.2 3 1.2 1.6 2.6zM319 493.1l-6-0.5 -9-7 -9-1.4 -15 0.2 -30 5.8 -18-1.4 -5-2.8 -0.7-6 13.4-12 -2.8-3 -12.7-6 -3-6 1.8-3 6-3.5 18-3.3 15 0.9 21 5.9 12 0.5 5.1 5.5 9.9 23.9 10.8 6.1 2.1 3 -1.3 3z"/>
<path fill="#ff0000" d="M922 388.3l-3 1.2 -3-1.3 -1.4-4.2 1.4-2.3 3-1.4 3 1.4 1.4 2.3zM256 489.1l-18 0.5 -10.1-3.6 -1.5-3 2.9-6 12-9 -2.4-3 -13.8-6 -3.1-6 1.9-3 11.1-4.9 18-1.6 15 2.3 15 5.1 9-0.3 5 2.4 7.3 18 -0.5 9z"/>
<path fill="#f50000" d="M922 388l-3 1.3 -3-1.3 -1.3-4 1.3-2 3-1.5 3 1.4 1.3 2.1zM253 489.1l-15 0.1 -9.1-3.2 -1.7-3 2.8-6 12.9-9 -1.9-3 -15-6 -3.2-6 2-3 10.2-4.5 18-1.6 15 2.4 15 5.5 9-0.2 3.5 1.4 6.4 18 -1.1 6 -5.7 3z"/>
<path fill="#eb0000" d="M922 387.8l-3 1.3 -3-1.3 -1.1-3.8 1.1-1.7 3-1.6 3 1.5 1.1 1.8zM250 489.1l-12-0.3 -9-4.1 -0.4-4.7 2.2-3 13.6-9 -1.1-3 -17.3-6.9 -2.4-5.1 2.1-3 12.3-4.8 15-0.9 12 1.6 15 6.2 12 0.5 3 2 4.4 16.4 -3 6 -31.4 9.6z"/>
<path fill="#e00000" d="M922 387.6l-3 1.3 -3-1.3 0-5.1 3-1.6 3 1.6zM265 486.2l-21 2.7 -12.9-2.9 -2.3-3 0.5-3 6-6 10.6-6 -0.1-3 -17.8-6 -3.1-3 -0.4-3 2.1-3 11.4-4.4 18-0.8 12 2.4 15 7.5 9-0.1 1.7 1.4 -0.8 6 3.9 9 -0.9 3 -6.9 4.5z"/>
<path fill="#d60000" d="M922 387.3l-3 1.4 -3-1.4 0-4.5 3-1.7 3 1.7zM262 486.5l-18 2 -12-2.6 -2.3-2.9 2.6-6 15.1-9 1.1-3 -19.5-6 -3.2-3 -0.5-3 2.3-3 6.1-3 10.3-1.9 21 1.7 12.6 6.2 2.6 3 -0.7 6 9.5 1.3 4.3 4.7 -0.1 6 -3.7 3z"/>
<path fill="#cc0000" d="M922 387.1l-3 1.4 -3.1-1.5 -0.4-3 3.5-2.7 3.5 2.7zM262 486.2l-18 1.9 -12-3.3 -1.1-4.8 2.2-3 18.6-12 -21.7-6 -3.3-3 -0.5-3 2.3-3 15.5-4.5 20.3 1.5 11.6 6 1.4 3 -4.2 6 12.9 3.1 4.6 2.9 1.3 3 -1 3 -3.6 3z"/>
<path fill="#c20000" d="M919 388.3l-2.8-1.3 -0.5-3 3.3-2.4 3.4 2.4 -0.6 3zM259 486.5l-18 1 -6.3-1.5 -2.7-2.4 -0.3-3.6 3.3-3.9 20.8-11.1 -24.7-6 -3.5-3 -0.5-3 2.5-3 7.1-3 10.3-1.4 18 2.1 9.4 5.3 1.1 3 -6.2 6 16.7 4.8 3 2.8 -0.2 4.4 -3.4 3z"/>
<path fill="#b80000" d="M919 388.1l-2.4-1.1 -0.8-3 3.2-2.2 3.2 2.2 -0.8 3zM259 486.1l-18 0.9 -4.8-1 -3.8-3 2.2-6 6.4-4.3 15-6.7 8.5-1 -20.5-2.5 -11.8-3.5 -3.7-3 -0.4-3 2.6-3 7.7-3 8.6-1 18 2.3 8.1 4.7 0.7 3 -7.9 6 1.3 3 15.8 1.9 4.8 4.1 -0.7 3 -9 6z"/>
<path fill="#ad0000" d="M919 387.9l-3-3.9 3-1.9 3 1.9zM262 462.3l-9 0.8 -15-2.4 -8.4-4.7 -0.6-3 2.8-3 9.2-3.1 21 0.9 6.1 2.2 3.8 3 0.5 3 -4.4 4.2zM256 486.3l-18-0.3 -4.5-3 -0.2-3 7.7-6.9 18-6.9 18 0.2 5.6 1.6 3.4 3 -0.5 3 -8.7 6z"/>
<path fill="#a30000" d="M919 387.8l-2.6-3.8 2.6-1.7 2.6 1.7zM256 462.3l-21-3.1 -4.4-3.2 -0.4-3 7.8-4.8 12-1.6 12 1.7 8.6 4.7 0.4 3 -3 3zM253 486.4l-13-0.4 -5.5-3 -0.3-3 6.8-6.4 18-6.6 15-0.3 6 1.3 4.3 3 -0.3 3 -8.3 6z"/>
<path fill="#990000" d="M919 387.6l-2.2-3.6 2.2-1.5 2.2 1.5zM265 459.7l-12 2 -12-1.2 -9-4.2 -0.7-3.3 3.2-3 9.5-2.6 15 0.7 10.4 4.9 0.3 3zM253 486l-12-0.4 -5.3-2.6 -0.6-3 8.9-7.3 18-5.4 12 0.2 8.6 3.5 0 3 -8.1 6z"/>
<path fill="#8f0000" d="M919 387.4l-1.9-3.4 1.9-1.2 1.9 1.2zM262 460l-9 1.2 -12-1.2 -8.1-4 -0.4-3 3.6-3 7.9-2 15 0.6 9.2 4.4 0.3 3zM265 483.1l-21 2.5 -7-2.6 -0.9-3 6.2-6 13.7-5 15-1.2 9.9 3.2 0.4 3 -2.7 3z"/>
<path fill="#850000" d="M919 387.2l-1.5-3.2 1.5-1 1.5 1zM262 459.3l-9 1.4 -12-1.2 -6.8-3.5 -0.2-3 3.8-3 6.2-1.4 15 0.5 7.9 3.9 0.2 3zM262 483.5l-18 1.4 -5.7-1.9 -1.1-3 6-6 12.8-4.6 15-1 8.2 2.6 0.8 3 -2.6 3z"/>
<path fill="#800000" d="M919 387l-1.1-3 1.1-0.7 1.1 0.7zM259 459.4l-18-0.4 -5.3-3 -0.2-3 8.5-3.8 16.6 0.8 5 3 0.1 3zM262 483.2l-15 1.4 -7-1.6 -1.7-3 6-6 11.7-4.1 12-1.1 9.5 2.2 1.2 3 -2.4 3z"/>
</g></g>
<path d="M306.4 75.2V768.5M473.5 75.2V768.5M640.6 75.2V768.5M807.7 75.2V768.5M139.3 699.4H973.7M139.3 558.8H973.7M139.3 414.6H973.7M139.3 265.8H973.7M139.3 111.4H973.7" fill="none" stroke="#000" stroke-opacity="0.2" stroke-width="1" stroke-dasharray="2.5 5.85"/>
<path d="M139.3 75.2H973.7V768.5H139.3Z M148.3 84.2V759.5H964.7V84.2Z" fill="#fff" fill-rule="evenodd" stroke="none"/><path d="M139.3 759.5H222.0V768.5H139.3ZM222.0 75.2H306.4V84.2H222.0ZM306.4 759.5H390.0V768.5H306.4ZM390.0 75.2H473.5V84.2H390.0ZM473.5 759.5H557.0V768.5H473.5ZM557.0 75.2H640.6V84.2H557.0ZM640.6 759.5H724.2V768.5H640.6ZM724.2 75.2H807.7V84.2H724.2ZM807.7 759.5H891.2V768.5H807.7ZM891.2 75.2H973.7V84.2H891.2ZM139.3 734.0H148.3V768.5H139.3ZM964.7 700.0H973.7V734.0H964.7ZM139.3 630.1H148.3V700.0H139.3ZM964.7 559.4H973.7V630.1H964.7ZM139.3 487.8H148.3V559.4H139.3ZM964.7 415.2H973.7V487.8H964.7ZM139.3 341.4H148.3V415.2H139.3ZM964.7 266.4H973.7V341.4H964.7ZM139.3 190.0H148.3V266.4H139.3ZM964.7 112.0H973.7V190.0H964.7ZM139.3 93.0H148.3V112.0H139.3ZM964.7 76.4H973.7V93.0H964.7Z" fill="#000"/><path d="M139.3 75.2H973.7V768.5H139.3Z M148.3 84.2H964.7V759.5H148.3Z M139.3 75.2l9.0 9.0 M973.7 768.5l-9.0 -9.0 M973.7 75.2l-9.0 9.0 M139.3 768.5l9.0 -9.0" fill="none" stroke="#000" stroke-width="0.9"/>
<defs><clipPath id="box"><rect x="139.3" y="75.2" width="834.4" height="693.3"/></clipPath></defs><g clip-path="url(#box)" stroke="#603c06" stroke-linejoin="round" stroke-linecap="round"><path d="M692.6 769.6 694.6 766.2 697.9 762.1 699.9 757.1 697.9 751.1 695.4 744.8 694.4 738.4 697.7 736.9 700.6 733.4 697.9 729.8 694.8 725.3 689.9 722.4 683.6 720.1 677.0 716.9 674.0 714.8 670.8 712.0 668.1 709.3 664.9 706.5 660.5 704.6 656.8 704.2 652.4 703.8 648.4 701.8 644.5 700.2 638.0 699.3 634.1 700.7 630.1 701.5 626.1 701.9 621.6 702.9 617.3 701.4 613.1 700.2 607.5 698.7 603.5 700.5 599.2 702.8 595.0 704.0 591.1 705.7 586.7 706.0 582.3 706.5 578.6 707.2 573.6 706.4 568.1 706.3 563.8 705.5 559.8 704.5 561.1 705.1 553.4 706.1 551.0 702.6 545.7 703.6 540.9 706.5 535.9 710.3 531.7 708.7 527.9 707.8 523.1 704.7 518.7 702.2 512.4 704.9 508.8 702.2 509.6 699.8 515.0 697.3 520.6 693.5 522.8 690.2 525.5 686.6 527.6 683.3 529.5 679.5 530.5 674.0 531.5 669.1 532.2 663.5 532.9 658.4 533.6 653.2 534.0 648.1 536.7 641.9 540.5 635.8 542.8 631.4 544.5 627.7 545.9 622.4 547.5 617.9 548.5 612.4 549.5 607.0 551.0 602.0 552.6 596.7 553.3 592.2 555.0 586.4 555.6 581.2 556.3 576.7 557.8 571.4 558.7 566.0 559.9 558.6 561.4 550.9 563.2 546.7 565.5 543.3 568.1 540.0 570.6 536.7 572.8 533.4 575.4 529.8 579.1 524.8 579.7 525.1 581.8 518.5 582.3 511.1 579.7 504.3 575.3 501.6 568.9 502.9 564.7 504.0 560.3 504.4 555.7 503.9 550.8 503.2 546.3 502.6 541.0 501.8 535.5 501.6 530.4 501.2 525.7 502.2 520.2 503.9 516.1 504.5 511.4 505.6 507.7 507.2 502.9 508.0 499.2 508.8 494.4 509.5 490.0 510.0 486.3 511.3 481.7 512.4 476.5 513.6 471.6 514.5 464.8 518.4 462.2 521.8 459.7 524.9 462.2 525.3 460.4 528.8 458.6 533.0 457.9 538.1 457.3 543.0 457.7 547.8 458.0 553.1 455.6 561.2 453.2 564.8 451.0 568.7 448.8 572.6 447.0 576.6 444.1 579.7 441.7 582.7 440.2 586.7 436.8 590.1 433.9 593.1 433.1 599.6 431.8 604.8 427.9 609.9 424.0 611.4 420.3 612.7 412.8 610.2 404.8 608.9 397.3 607.0 391.7 607.9 386.5 608.4 381.3 610.0 376.7 611.4 371.1 612.6 366.3 613.4 361.3 614.7 355.7 615.3 350.7 616.3 346.0 617.8 340.3 619.8 335.4 622.1 330.7 622.9 326.5 623.6 321.3 621.4 317.0 614.9 313.6 609.8 308.1 611.5 304.7 608.9 300.4 604.5 293.9 603.6 286.4 603.1 280.0 601.1 275.2 595.5 270.9 590.8 267.3 585.6 264.4 581.9 262.2 578.9 260.5 575.4 259.6 571.5 258.0 567.7 256.7 563.8 254.4 559.6 251.9 556.1 248.4 551.7 245.4 548.0 241.9 544.0 238.7 540.2 236.3 536.4 234.0 532.6 231.9 528.6 229.9 524.7 228.5 524.6 229.5 520.5 229.8 515.9 229.0 508.0 225.1 503.0 219.7 498.2 217.7 494.1 216.0 490.6 214.4 485.3 213.4 480.0 212.3 474.7 211.2 469.4 210.8 464.7 210.5 459.1 210.7 455.3 211.5 450.9 211.3 446.3 211.5 442.2 211.6 437.9 211.8 434.0 212.7 429.4 212.7 425.4 213.1 420.7 213.3 416.5 214.1 412.3 214.3 408.0 214.8 402.7 215.5 397.6 216.8 392.2 218.3 387.2 220.4 382.3 222.4 377.2 224.3 373.5 226.0 369.3 228.4 365.3 230.1 361.8 231.6 356.8 234.1 351.5 234.9 346.5 235.4 341.1 235.1 336.2 234.8 331.1 233.4 326.0 232.2 320.7 230.2 315.1 228.4 310.2 227.1 305.4 226.2 300.1 228.8 300.1 229.6 295.1 230.7 291.1 231.8 287.1 233.2 282.9 235.3 279.2 236.9 275.4 240.2 271.5 243.0 268.1 246.7 263.9 250.5 260.2 254.2 257.6 257.5 254.7 260.6 252.2 265.3 249.7 269.4 246.9 273.4 244.5 278.1 242.7 282.4 240.2 286.5 238.2 289.9 235.4 293.7 232.9 297.1 230.8 299.9 227.5 303.9 224.9 307.1 221.4 310.3 219.3 313.7 216.4 317.1 213.8 321.1 211.4 324.5 209.5 327.9 207.5 332.6 205.4 337.9 202.4 342.7 201.5 348.2 200.1 353.1 199.4 358.4 199.1 363.3 199.3 369.0 199.2 374.2 201.0 379.4 202.1 384.1 204.1 389.7 206.2 394.4 207.1 399.5 207.8 399.7 204.4 402.6 202.4 405.3 199.2 408.9 196.4 412.3 197.6 411.9 200.3 415.2 199.6 419.5 200.1 420.7 202.5 423.5 203.4 425.5 206.3 427.3 204.5 429.8 206.6 431.5 204.7 432.8 207.1 431.2 209.5 432.3 212.2 434.3 214.4 435.4 216.9 438.2 220.2 441.1 221.1 444.2 224.4 446.6 225.2 449.1 223.7 452.0 221.0 452.6 217.7 455.6 216.8 459.1 215.1 461.6 217.2 463.7 219.8 464.1 223.2 467.5 224.5 469.9 222.8 472.9 219.7 475.2 217.0 479.4 215.8 483.9 216.7 488.0 217.5 491.5 219.4 496.2 220.6 500.1 222.3 502.7 225.7 498.9 227.0 496.3 228.0 493.0 230.6 496.0 226.9 500.4 224.9 504.3 227.0 506.2 222.7 506.6 220.1 504.0 218.8 501.6 215.7 498.5 214.3 494.7 213.9 490.2 212.1 487.8 210.4 485.6 207.4 484.4 203.8 485.5 200.7 488.8 198.8 492.1 197.3 494.4 195.1 496.3 191.3 494.5 188.1 491.9 189.2 491.1 186.2 494.7 185.3 498.5 183.9 500.7 182.8 496.1 180.6 494.1 177.6 496.0 175.2 500.4 175.2 504.4 174.5 508.1 173.5 511.6 172.9 515.2 174.5 519.8 173.9 523.5 175.7 528.6 174.6 532.8 175.7 536.2 174.4 536.8 167.7 539.0 164.0 540.0 159.9 541.5 163.6 543.0 166.8 544.1 171.6 546.1 175.3 548.0 176.6 550.6 177.8 554.8 176.6 558.0 174.4 560.3 173.8 567.7 175.0 574.5 173.9 579.1 173.6 584.4 173.5 589.5 173.5 595.1 173.6 599.9 175.5 605.3 176.2 608.6 178.2 613.1 180.2 616.8 183.2 620.4 185.4 623.4 188.8 625.5 192.1 626.8 195.7 627.9 199.9 633.7 203.6 640.1 204.5 646.0 200.9 650.4 198.1 653.9 194.4 657.7 191.3 661.9 187.9 668.3 185.2 674.7 186.2 678.4 188.9 682.1 191.9 686.3 195.5 689.7 199.9 693.0 203.9 696.0 208.7 695.9 210.3 699.5 213.6 702.3 216.1 704.8 219.6 704.6 222.8 707.4 220.9 711.6 221.7 714.2 222.5 715.5 226.4 717.5 231.1 716.0 233.7 717.4 237.4 718.4 241.3 717.7 246.9 716.7 251.0 714.6 256.0 712.8 259.3 712.3 264.1 711.8 268.8 712.8 273.8 714.9 278.4 715.0 282.5 717.7 286.3 720.8 289.7 722.7 293.5 722.5 295.0 724.6 299.3 727.7 303.5 730.0 308.5 731.3 312.4 732.7 316.9 734.4 320.8 737.2 323.6 739.3 324.7 742.4 323.1 744.2 324.1 746.1 329.0 746.6 333.8 748.3 338.2 751.1 341.0 753.8 343.5 758.1 344.7 762.2 347.2 765.3 349.5 767.3 352.5 767.2 356.0 768.4 358.5 770.2 361.6 771.2 364.7 774.1 367.2 776.1 369.3 776.7 370.9 779.4 371.6 784.0 371.4 787.7 369.1 791.5 367.5 793.9 365.8 797.3 363.2 799.0 359.8 801.6 356.0 802.2 351.3 803.7 346.7 804.2 341.0 805.3 336.1 806.0 330.0 806.5 323.6 806.7 317.4 805.9 311.7 805.2 305.1 803.2 300.1 801.9 296.5 800.6 294.8 802.9 298.3 800.5 291.7 798.4 284.2 795.9 277.9 793.2 271.7 790.6 265.1 788.6 258.9 786.6 252.5 787.3 249.2 788.9 248.0 788.0 244.5 785.6 241.7 782.8 237.4 780.2 232.2 777.4 226.7 774.8 220.9 772.6 214.8 770.1 209.7 768.8 204.4 767.4 198.1 765.6 193.2 764.1 187.9 762.7 183.3 761.3 178.0 759.9 173.0 759.1 167.9 759.2 162.2 758.8 157.6 758.6 152.7 759.3 148.0 760.7 144.3 761.9 140.3 763.0 137.0 764.1 132.7 766.8 126.3 769.1 119.8 773.0 115.2 777.2 110.0 782.0 104.8 785.8 100.7 790.1 96.8 795.4 94.3 800.3 90.7 803.8 88.8 808.1 86.5 813.3 81.3 817.3 78.3 820.7 75.2 823.4 72.7M229.5 296.1 229.0 295.5 228.8 295.4 228.0 295.1 228.0 294.7 230.0 294.8 229.6 293.9M233.5 282.3 234.6 280.5 234.2 279.6 234.7 278.9 233.6 279.1 235.5 278.3 236.1 278.6M242.5 268.1 242.1 266.0 241.7 264.8 242.3 264.0 243.9 264.7 242.5 265.1 243.9 266.4M254.5 257.1 253.9 256.6 253.7 253.8 254.0 254.0 256.2 253.4 255.5 254.5 256.0 255.6M268.7 247.7 269.8 246.0 271.4 245.3 271.6 243.7 272.6 243.9 271.1 244.8 271.2 245.2M274.2 244.4 275.0 243.7 275.5 240.7 276.2 239.2 276.0 241.7 276.2 243.1 275.9 244.1M277.5 242.7 277.4 242.5 277.6 242.1 277.9 240.2 280.1 240.6 279.5 241.2 280.2 240.5M285.2 238.9 285.1 237.9 285.9 237.2 284.8 236.2 287.3 236.4 286.9 236.5 286.9 238.5M290.5 235.3 290.7 234.0 290.5 234.5 289.0 234.2 291.2 233.2 291.2 233.4 292.4 233.6M291.8 234.3 292.8 231.7 292.9 231.4 293.9 229.7 293.9 229.2 294.8 231.3 294.0 232.5M304.5 223.8 304.0 223.2 305.4 221.6 305.7 221.6 306.5 221.1 306.4 220.5 306.6 222.9M309.6 219.7 309.1 218.6 308.4 219.1 309.3 218.2 310.9 217.8 310.9 216.8 313.3 217.2M325.0 209.1 326.1 209.0 325.7 207.7 326.0 206.6 327.3 206.0 325.9 207.4 326.6 208.2M340.5 202.1 339.1 202.4 339.8 201.8 338.4 201.0 339.9 200.1 342.1 200.6 343.2 202.4M357.1 199.1 357.6 198.8 356.5 197.7 356.1 197.4 356.7 197.3 357.5 198.0 358.7 199.1M359.3 198.9 359.3 198.3 361.1 198.6 361.0 196.6 362.6 198.5 361.6 198.1 362.9 198.8M364.0 199.2 363.3 197.3 364.3 196.7 365.2 193.9 365.9 197.0 365.7 197.4 368.0 199.6M366.7 199.3 368.1 197.9 370.3 198.9 371.6 198.2 371.7 197.7 369.9 199.7 370.7 199.7M382.7 203.6 385.0 203.3 385.0 203.7 386.5 204.3 388.2 204.0 386.8 205.4 386.0 205.1M395.1 207.2 395.2 207.1 394.7 205.1 395.3 205.1 395.5 205.0 398.3 206.0 399.0 207.8M404.2 200.6 402.6 199.9 402.8 200.2 401.7 200.1 403.0 199.0 403.9 198.2 405.3 199.7M410.6 196.9 412.0 197.1 413.4 196.3 416.2 195.1 415.9 196.7 414.0 197.4 413.5 197.2M416.9 199.7 418.2 198.4 417.6 197.7 418.6 199.0 419.9 199.4 419.6 198.7 420.1 201.2M420.1 202.7 419.9 201.4 420.3 199.7 421.5 197.8 423.5 199.3 423.8 200.9 424.3 203.3M428.3 205.7 429.1 205.6 429.6 204.4 431.4 204.2 431.9 205.8 431.3 207.0 430.0 207.7M431.0 204.0 432.5 203.8 433.9 205.4 434.0 205.7 434.0 205.5 432.5 206.7 433.1 207.0M431.9 212.1 432.9 212.9 433.9 212.1 434.9 211.0 434.8 212.7 433.3 213.0 432.5 213.0M435.1 216.7 435.7 216.3 438.0 215.7 438.9 216.1 438.5 216.3 438.7 217.9 438.8 218.3M444.8 224.5 447.1 224.7 448.2 224.5 450.0 223.8 449.2 224.2 448.6 225.5 448.9 225.6M452.5 219.2 452.4 219.0 450.9 217.0 449.1 216.2 450.2 216.0 452.5 217.0 452.5 217.4M462.4 218.2 461.9 218.1 463.3 217.0 464.2 216.7 463.1 218.1 463.5 218.3 463.3 220.1M466.8 225.0 466.3 223.7 467.8 223.9 468.1 222.2 469.3 222.5 469.2 222.4 468.9 222.4M474.4 218.2 473.9 216.7 473.6 216.6 473.5 214.6 474.6 215.3 474.0 215.6 476.2 217.8M476.4 216.8 477.5 214.4 476.9 213.9 476.6 211.9 477.6 212.0 478.6 214.7 480.0 215.7M486.8 217.5 486.5 217.7 486.9 216.0 486.8 215.6 488.4 216.5 488.4 216.9 489.3 219.1M496.2 220.7 496.4 221.3 497.1 221.2 499.2 220.4 499.1 221.8 498.6 222.2 499.2 220.9M502.7 225.4 503.7 226.1 503.8 226.7 503.0 227.8 502.6 227.2 500.2 227.4 499.2 225.6M494.2 229.4 494.6 228.2 493.9 227.0 495.0 225.7 495.7 225.2 495.4 227.0 495.8 226.0M499.0 224.2 500.7 223.2 499.8 221.2 500.4 220.8 501.8 223.2 502.9 225.4 503.4 226.3M505.2 224.8 504.2 223.2 503.6 224.1 503.1 222.5 504.2 222.2 504.9 222.3 506.6 222.1M503.3 217.6 503.3 217.9 502.5 218.9 501.7 219.3 501.4 218.5 500.2 216.7 501.5 214.8M496.8 214.1 496.4 214.2 494.6 213.8 492.5 215.7 493.6 214.8 493.1 214.0 493.7 212.8M491.9 212.9 492.6 214.7 491.7 214.3 491.6 216.3 489.8 215.3 489.1 214.3 490.0 211.3M485.5 207.2 483.6 206.4 483.2 205.3 482.4 204.1 482.7 204.9 483.3 205.5 484.7 206.2M523.0 175.4 524.0 174.7 525.8 173.8 528.0 173.9 527.3 173.8 527.8 174.5 526.2 174.7M532.9 175.4 533.1 174.6 533.6 171.8 534.1 170.6 536.4 172.2 536.7 173.6 536.6 174.2M536.6 172.6 535.9 171.7 534.2 169.8 532.6 166.8 534.5 167.3 535.7 169.3 536.9 168.9M538.8 163.5 538.7 162.2 536.9 159.1 536.9 156.9 538.3 158.3 538.0 158.4 540.2 159.2M540.8 162.5 541.5 161.2 542.3 162.0 541.6 161.8 541.1 162.3 541.7 164.1 541.7 163.1M543.3 166.7 543.0 166.9 543.9 167.4 544.7 167.7 544.3 168.5 544.4 168.3 543.6 168.0M546.0 175.4 546.0 174.8 547.4 175.0 548.2 174.3 549.0 175.0 549.1 175.9 547.6 176.4M549.4 178.6 550.5 177.7 550.9 176.2 552.5 173.7 553.9 175.0 553.4 175.8 552.8 178.2M558.3 174.5 557.4 173.6 556.5 173.5 557.9 174.0 558.0 174.3 560.9 174.2 560.6 173.3M568.8 174.6 568.9 172.8 568.5 171.2 568.6 169.4 569.3 172.4 569.8 172.7 570.9 174.1M574.0 174.0 574.7 172.2 573.6 170.1 574.2 168.6 577.3 171.0 576.5 172.2 577.8 173.2M581.7 173.4 582.0 172.4 585.0 171.3 585.5 171.1 586.9 172.7 586.3 172.2 584.6 173.9M593.3 173.9 594.2 172.7 594.3 172.8 595.3 171.4 596.3 173.1 595.7 174.3 594.1 173.1M596.3 174.3 596.7 172.5 596.1 172.0 596.3 171.0 598.0 172.6 599.7 174.5 600.2 174.5M598.3 174.8 599.7 174.6 599.5 173.6 600.9 173.0 602.9 174.2 601.6 175.7 601.9 175.1M608.1 178.1 609.7 178.0 610.2 177.2 611.6 177.8 612.4 178.6 612.0 177.9 610.5 179.1M612.9 180.5 614.0 178.7 614.7 177.2 616.1 177.9 615.4 179.4 614.9 179.9 615.9 181.4M619.9 184.8 621.4 184.5 622.6 185.4 624.5 186.4 623.7 187.5 623.0 186.9 623.1 187.5M623.6 189.4 623.4 189.4 625.7 189.2 625.8 188.2 625.4 190.6 625.4 192.2 625.7 192.3M625.8 192.4 627.9 192.4 628.9 193.2 629.3 195.2 628.4 194.9 627.6 194.9 626.4 195.1M627.0 195.9 627.4 194.9 628.5 194.6 630.5 194.5 629.8 195.2 628.0 197.0 626.7 198.4M630.3 201.3 632.0 202.1 632.9 201.1 633.8 202.9 634.4 203.8 634.8 204.2 633.2 204.4M637.3 204.3 637.9 203.1 640.1 204.2 641.9 203.2 640.6 203.7 640.2 203.3 640.5 204.5M643.0 202.9 642.7 201.8 642.1 201.8 643.1 202.1 644.6 200.1 645.6 201.5 646.1 200.8M647.3 200.1 647.2 199.0 645.3 200.1 645.8 199.6 647.6 199.2 647.4 197.9 649.0 197.2M654.6 194.0 653.6 193.2 653.7 192.8 651.2 192.8 653.9 191.5 655.9 192.2 657.4 192.4M663.7 187.1 661.9 185.4 662.1 183.6 660.3 182.8 664.6 184.3 665.5 183.8 667.4 186.4M673.5 185.9 673.9 184.2 675.0 184.5 675.8 183.7 677.3 183.5 676.7 185.7 675.9 186.5M675.5 186.8 675.7 185.4 676.0 185.9 678.2 185.9 676.9 185.6 676.6 188.1 677.3 187.8M680.3 190.5 682.3 190.7 683.4 190.2 685.6 189.5 686.8 191.7 685.1 192.3 684.1 192.6M688.1 197.9 689.2 196.9 691.2 196.3 691.7 195.4 691.9 197.4 691.2 198.9 690.2 201.0M693.7 205.0 694.4 205.5 696.7 205.1 698.9 204.8 698.0 205.2 696.7 207.3 694.6 206.2M697.2 211.1 698.1 210.5 697.4 209.5 698.8 208.9 699.5 211.1 699.1 212.3 698.6 212.1M702.6 216.5 702.8 216.6 702.6 216.0 703.8 213.8 703.5 216.1 703.9 217.2 702.7 218.2M707.3 220.9 707.4 220.2 706.3 219.8 705.9 219.3 707.4 220.1 709.2 219.7 709.5 222.2M710.2 221.3 710.4 221.2 710.0 219.4 711.4 219.5 711.5 220.8 711.6 221.1 714.0 222.5M715.2 226.3 716.8 227.7 717.2 227.3 718.0 227.1 717.3 229.9 716.5 228.5 717.5 229.9M716.0 233.7 717.4 233.4 718.8 234.1 720.6 233.4 720.2 234.5 719.2 236.6 716.4 237.3M723.7 297.4 724.4 296.9 724.5 297.4 723.5 297.4 724.1 298.8 724.2 299.6 725.3 299.9M728.0 304.9 728.6 304.9 731.3 306.0 733.3 306.8 731.2 306.5 730.1 306.1 729.7 307.3M732.0 314.2 732.9 314.2 734.2 315.6 733.6 316.1 733.3 315.4 732.7 315.9 733.1 314.5M735.3 321.6 736.6 322.3 736.9 322.3 738.5 321.9 738.5 323.6 736.6 323.1 736.2 322.9M740.6 324.3 739.5 324.3 739.5 324.2 738.2 324.2 739.4 323.0 741.5 323.0 742.1 323.2M744.1 323.7 745.0 325.2 745.5 325.9 747.3 325.1 745.4 327.2 746.4 326.3 745.2 326.2M745.2 327.0 746.1 327.3 745.5 326.6 747.0 326.4 747.2 327.8 745.4 328.2 746.7 328.9M748.2 338.0 748.3 337.2 747.9 336.3 749.3 335.9 749.3 337.7 749.3 338.5 750.3 340.3M750.4 340.6 752.4 340.7 752.4 340.5 753.1 339.7 753.5 340.5 751.9 341.5 751.6 340.9M753.0 342.9 752.0 342.6 751.5 341.5 752.8 341.2 754.7 342.1 755.3 343.3 756.4 343.9M760.7 346.1 760.6 345.0 759.3 346.0 759.6 344.2 760.7 346.6 761.2 345.5 762.6 348.0M767.4 356.6 768.3 356.1 767.0 355.9 768.8 355.0 768.3 355.6 768.3 356.4 767.5 357.3M227.3 304.8 225.7 304.9 226.2 304.9 225.0 305.3 226.8 307.2 227.7 307.6 228.2 307.6M228.9 311.0 228.2 311.0 228.7 310.5 227.2 311.5 227.4 310.9 227.9 312.7 229.9 312.7M229.8 313.7 230.3 315.3 228.1 315.2 227.9 317.5 229.6 316.4 229.2 314.9 230.6 314.4M231.2 318.0 230.1 318.7 231.1 319.8 231.5 321.5 232.3 322.5 232.2 320.4 231.1 321.1M234.2 329.1 233.4 330.1 231.8 329.8 232.1 331.6 231.8 330.8 232.9 330.0 234.2 330.7M235.1 336.3 235.0 337.8 235.0 338.3 234.2 337.9 234.9 339.2 234.7 337.8 235.4 338.4M234.7 346.2 234.3 347.6 232.9 346.9 233.4 347.7 233.9 349.2 234.6 349.4 234.5 349.5M233.2 353.0 231.9 353.2 230.7 356.3 230.6 356.9 231.4 356.5 231.0 356.7 232.9 356.3M230.4 360.6 230.0 361.2 227.7 360.7 227.7 360.7 228.0 361.4 228.3 362.1 231.0 361.4M224.9 371.9 224.3 373.1 222.0 373.3 220.8 373.1 221.3 373.5 222.0 374.8 224.7 373.9M219.8 383.6 219.2 384.5 217.8 384.1 218.8 384.6 219.0 385.2 219.0 386.7 218.6 386.2M558.9 705.4 558.9 706.5 559.9 707.0 559.0 706.0 557.8 705.6 556.0 705.6 556.5 706.2M543.6 704.8 542.8 706.0 541.6 706.8 541.9 708.1 540.6 706.9 542.4 706.5 541.6 705.7M535.3 710.0 534.4 710.6 535.2 711.7 534.5 710.8 534.8 711.2 533.4 710.1 533.1 709.9M523.6 705.5 523.7 704.9 522.6 705.3 520.4 705.0 520.7 703.4 521.3 703.7 521.9 704.4M514.3 704.2 513.1 705.8 512.9 707.1 511.8 706.8 511.6 706.5 513.0 705.5 512.3 704.0M516.7 696.1 516.2 694.9 517.2 694.3 516.3 692.3 517.7 692.8 517.7 694.7 519.0 694.2M521.6 691.6 520.8 690.6 521.5 688.2 520.5 688.3 522.2 687.2 523.2 688.2 523.8 689.4M525.3 687.2 525.3 686.0 525.9 686.0 525.3 686.0 525.5 685.9 525.2 684.6 526.0 684.6M527.1 683.6 527.9 682.1 526.2 682.0 526.4 681.7 526.6 680.5 527.1 681.6 528.0 681.0M528.2 681.4 528.5 680.7 527.5 679.4 527.7 677.2 528.6 678.2 529.2 678.3 529.8 679.3M531.9 668.0 530.0 668.7 529.1 668.9 528.8 669.9 530.3 667.2 531.1 666.5 533.0 665.1M533.6 654.5 534.0 653.9 533.6 652.1 532.4 651.8 532.9 650.0 533.2 651.3 533.1 652.8M140.0 665.9 145.0 671.6 148.9 673.1 152.9 674.4 157.7 675.6 163.0 676.0 168.6 677.0 173.6 677.9 179.9 679.0 183.1 682.0 186.3 684.5 190.2 686.7 194.1 689.6 199.0 691.8 204.5 694.6 209.5 697.7 214.7 700.6 219.6 700.9 224.8 701.4 230.2 702.1 234.9 703.5 240.5 706.2 245.5 708.7 250.5 709.6 255.6 710.7 260.9 709.9 266.1 709.1 271.3 707.2 276.3 704.7 281.6 703.3 286.8 701.1 290.5 699.0 294.4 697.3 298.0 694.7 302.2 692.9 306.8 691.0 312.2 691.0 317.3 691.7 322.7 692.2 327.7 693.1 332.9 695.2 338.2 697.5 341.4 699.7 344.7 701.3 348.3 703.4 351.5 706.2 355.1 708.6 358.2 711.6 361.8 714.6 365.6 717.3 368.8 720.4 372.3 723.9 375.7 727.3 379.3 730.7 382.5 734.2 385.8 737.4 389.6 741.0 392.8 743.6 396.2 747.0 399.4 750.0 403.1 752.8 406.6 756.3 410.0 759.4 414.7 764.2M642.0 491.3 647.1 489.3 650.1 487.9 652.3 486.8 657.1 485.0 661.8 484.4 659.6 479.6 658.7 475.9 661.0 470.8 664.8 468.3 668.7 464.5 672.5 460.8 675.4 459.4 677.7 458.2 680.1 457.3 683.1 456.5 686.1 455.3 689.1 454.3 692.1 452.9 695.6 452.6 700.6 451.3 703.5 450.6 706.9 450.3 710.8 450.2 714.3 449.7 719.6 448.5 721.2 446.7 724.7 445.9 729.9 444.6 732.4 444.7 736.5 444.1 739.3 444.4 743.6 445.0 746.2 444.7 749.6 444.8 755.4 445.6 756.9 448.1 760.8 446.7 765.0 444.9 769.3 442.1 774.5 441.1 780.4 442.4 784.0 444.2 786.5 445.0 789.7 446.6 791.6 448.2 794.2 448.8 799.9 450.5 802.0 451.6 804.4 453.4 807.1 454.7 809.8 455.8 813.0 457.1 815.2 458.8 817.3 459.8 820.6 462.2 822.6 463.7 825.6 466.6 827.4 468.5 830.4 470.0 832.9 468.6 835.4 468.5 838.6 467.3 842.0 468.3 845.8 468.6 848.8 469.9 852.5 470.0 856.9 471.3 859.5 472.0 862.4 473.2 864.0 474.6 867.0 475.7 869.3 477.2 872.3 478.3 874.7 480.3 877.9 481.4 880.1 482.6 882.2 484.6 884.6 488.1 887.9 490.7 889.8 492.9 892.8 495.2 895.2 497.6 897.5 499.3 900.8 501.8 903.3 503.7 905.9 506.1 908.1 507.1 911.2 508.6 913.3 509.8 917.6 510.9 921.2 512.0 924.6 513.0 927.5 513.9 931.9 515.0 935.0 515.4 938.5 516.4 941.6 517.6 944.7 517.9 948.0 518.2 951.9 518.2 954.7 522.4 953.3 525.4 950.4 524.5 948.6 529.0 952.9 526.7 957.5 528.2 955.0 531.8 959.5 533.6 963.2 533.8 967.7 534.7 971.3 534.4 974.6 534.6M642.0 491.3 645.4 493.7 649.9 492.3 653.5 490.9 657.2 495.6 661.9 492.8 666.0 490.3 668.6 489.6 671.7 489.7 674.1 486.2 675.0 481.7 679.5 480.6 685.2 479.4 688.7 479.4 694.3 479.4 698.2 476.9 701.6 473.8 705.9 470.2 710.7 466.7 714.2 463.1 715.4 462.2 720.7 462.3 726.1 462.3 729.3 461.8 733.1 462.7 736.7 462.2 739.5 461.7 743.3 462.3 746.2 462.1 750.7 464.4 752.8 467.8 749.5 470.7 744.8 471.3 739.4 471.2 735.3 472.4 736.7 474.8 741.1 477.5 743.5 478.3 746.4 480.0 751.2 481.5 756.5 482.2 761.9 483.7 766.2 483.7 766.8 478.6 768.3 477.0 769.9 482.8 771.8 483.9 777.7 484.8 780.6 484.3 783.8 484.8 788.2 485.3 791.1 484.5 794.3 487.8 799.1 491.1 802.8 493.6 805.6 495.0 808.0 496.6 811.2 496.9 813.2 498.7 818.3 500.9 823.7 502.3 827.0 502.7 829.8 503.6 833.1 503.8 835.5 503.7 838.7 502.8 842.6 502.9 846.6 501.9 850.8 506.1 851.9 508.1 853.0 511.2 854.5 513.4 855.4 515.8 857.0 518.6 857.6 521.3 861.1 525.2 864.9 525.4 867.1 526.6 869.5 527.2 872.1 528.7 875.2 530.3 877.4 531.5 879.6 532.7 885.3 533.9 888.0 533.5 891.3 533.4 894.4 533.2 897.8 534.2 902.1 536.7 903.5 539.0 903.9 541.7 901.7 544.0 899.4 546.7 896.4 548.0 894.5 548.9 891.4 550.5 888.6 552.6 886.1 555.0 885.1 557.3 883.5 559.7 882.6 563.9 887.4 563.5 891.4 563.2 894.2 562.2 898.2 561.4 901.5 561.3 905.3 560.9 908.4 560.3 911.9 560.0 915.1 559.7 918.3 559.1 921.4 559.2 924.7 558.5 928.5 558.5 931.8 558.5 934.5 558.7 938.2 558.0 940.6 558.2 944.6 558.0 947.7 558.5 950.8 559.0 953.8 559.7 957.0 560.4 961.2 560.7 964.5 561.3 968.5 561.5 970.8 561.8 974.9 561.8M701.1 500.4 703.7 502.4 707.4 500.8 709.5 497.4 710.6 492.9 708.2 490.6 710.3 489.1 713.3 489.6 715.9 489.6 719.6 491.3 721.1 495.1 721.2 499.7 720.4 502.7 717.2 505.2 714.5 505.8 712.6 506.5 709.4 506.2 707.5 506.5 704.0 505.2ZM709.7 483.3 712.8 485.1 715.4 486.3 719.1 488.9 719.9 492.2 720.8 494.4 722.1 497.2 724.8 500.8M716.5 463.6 717.2 467.6 720.5 466.6 722.9 464.0 722.8 468.0 724.8 471.5 727.6 469.6 730.3 468.8M862.0 618.8 864.5 613.9 870.7 612.3 875.7 611.5 879.7 610.3 885.3 611.0 889.9 611.9 895.2 612.1 900.6 612.4 905.9 612.9 910.9 613.5 914.9 615.4 918.5 617.7 922.6 619.2 926.4 621.6 931.3 625.4 932.7 628.3 934.2 631.6 929.0 634.2 925.2 633.8 920.9 632.9 917.6 631.1 914.7 629.2 910.6 631.8 906.7 633.2 905.6 637.9 902.1 639.7 899.1 634.5 894.6 634.3 890.3 634.4 886.1 633.3 882.3 632.9 880.1 630.5 877.1 628.0 872.1 623.7 865.8 622.9ZM760.4 580.3 770.7 580.8 770.7 584.1 761.7 584.6ZM803.3 570.5 809.3 568.7 809.5 569.7 803.9 571.3ZM811.8 568.2 817.0 566.6 817.2 567.7 812.3 569.2ZM839.7 313.2 841.9 315.1 844.2 317.2 846.6 320.1 848.7 321.5 851.9 320.9 854.0 321.2 858.2 319.4 860.9 318.8 864.4 317.1 868.1 315.9 871.9 315.3 875.1 314.3 877.8 315.9 874.4 316.3 871.2 317.9 868.8 317.9 866.2 318.9 863.1 320.0 859.8 320.6 857.2 321.6 854.4 322.8 851.6 322.9 848.4 323.1 845.7 320.8 843.5 318.6ZM880.0 320.9 877.9 317.4 876.9 315.4 876.1 312.4 879.1 308.7 882.6 307.6 884.4 307.4 887.1 306.9 890.4 308.3 892.9 310.4 893.8 311.0 897.1 313.7 899.2 314.7 902.1 316.2 905.2 317.5 906.1 318.8 907.4 321.1 908.3 323.3 908.8 325.7 908.1 328.3 906.4 329.3 905.8 332.0 901.5 335.3 901.3 337.1 901.4 339.0 901.2 342.8 899.7 345.5 898.0 342.5 895.9 340.9 894.6 340.3 897.7 338.1 899.3 335.3 899.8 332.9 900.8 331.1 901.2 328.3 898.9 323.3 897.3 320.2 895.6 317.6 895.3 314.8 894.2 313.3 889.8 311.4 887.4 309.7 886.1 309.0 882.6 308.1M875.7 347.5 879.4 350.7 880.4 352.5 882.4 354.4 883.0 359.0 880.6 361.3 876.1 363.7 873.6 359.9M831.1 349.2 830.4 353.2 831.3 358.1M868.9 366.3 868.9 368.2 867.3 371.4 868.9 375.5 867.1 378.5 866.1 381.7 865.8 383.5 862.9 386.2 861.3 388.8 859.1 389.5 857.7 389.9 857.9 393.1 859.8 393.3 861.9 396.3 863.5 396.2 865.4 398.8 867.1 402.3 870.2 402.5 870.9 405.9 873.6 407.4 875.0 411.0 875.7 412.9 876.5 415.2 877.8 417.5 879.0 420.2 880.8 422.2 879.9 425.3 885.2 427.9 887.3 426.1 889.1 423.4 888.6 422.1 889.2 419.4 889.3 417.9 889.3 413.6 888.2 410.5 888.3 408.9 887.5 406.6 886.2 403.0 885.0 399.9 884.5 397.6 885.1 394.8 882.7 392.1 882.3 390.1 882.0 387.1 880.4 384.2 878.3 382.4 878.0 379.3 877.0 377.3 875.3 373.3 874.5 371.1 871.7 369.0 870.0 366.7ZM883.8 392.4 884.8 392.4 884.8 393.4 883.8 393.4ZM899.8 412.3 900.8 412.3 900.8 413.3 899.8 413.3ZM903.5 415.6 904.6 415.6 904.6 416.6 903.5 416.6ZM909.5 409.6 910.6 409.6 910.6 410.6 909.5 410.6ZM969.6 419.8 970.6 419.8 970.6 420.9 969.6 420.9ZM888.6 376.6 892.0 378.0 895.2 377.9 896.6 377.8 899.2 375.8 901.7 375.1 905.4 373.8 907.1 372.8 909.3 369.9 909.7 368.3 912.0 366.5 913.2 364.1 911.4 360.5 915.1 357.9 919.5 357.3 919.2 360.5 920.5 362.2 923.6 363.2 925.6 365.7 928.2 366.9 930.1 368.0 932.2 369.6 934.3 371.3 937.3 374.4 937.7 378.4 935.4 382.2 934.7 386.5 934.9 389.8 936.9 391.9 933.0 389.3 930.4 386.1 929.5 383.0 927.7 379.9M888.6 376.6 891.2 375.9 895.4 376.4 898.5 375.6 895.6 378.6 891.4 379.0ZM913.5 383.5 912.5 387.4 913.6 390.3 913.5 393.0 914.5 395.3 916.7 396.5 919.6 399.4 921.4 402.1 922.2 403.4 924.7 406.8 926.8 408.9 927.5 410.7 929.9 413.3 931.1 416.7 933.4 418.5 935.3 421.1 937.9 423.4 939.4 425.8 942.2 426.9 943.8 428.8 946.5 431.3 948.7 432.7 951.5 434.2 955.4 434.6 959.7 436.5 957.1 435.9 953.4 435.9 949.9 435.5 947.3 435.2 942.7 435.6 939.7 435.7 938.9 435.5M948.6 389.5 951.6 390.7 953.9 392.4 955.2 394.5 956.1 397.7 956.9 399.2 958.1 401.4 959.7 403.6 961.9 407.3 963.6 410.5 960.1 409.4 957.7 408.6M957.1 445.2 954.9 447.0 952.5 448.2 949.5 449.2 948.3 451.0 947.3 453.2 946.0 455.4 945.1 458.8 944.9 461.1 944.4 464.1 944.9 467.1 946.0 470.2 946.5 473.6 947.7 475.9 948.7 478.5 950.1 481.1 950.7 483.2M736.0 393.8 738.3 393.5 740.7 393.4 743.4 392.5 746.5 392.1 748.9 391.0 751.5 390.3 753.7 389.5 756.7 388.7 759.1 387.6 761.8 387.3 764.4 386.6 767.3 386.0 769.6 384.8 771.9 384.8 774.4 383.2 777.0 381.9 780.0 381.1 782.0 380.1 784.8 378.2 787.8 376.8 789.7 375.8M768.5 367.0 768.9 370.8 771.9 373.2 775.7 372.8 777.0 371.2M802.4 343.3 800.2 347.8 797.2 352.3 796.0 357.9 796.4 360.4 798.2 358.6 800.2 354.5 801.7 350.5M731.5 302.7 733.7 305.1 737.0 305.7 740.5 304.9 739.2 307.3 738.6 310.8 739.5 312.5 742.7 315.8 746.2 314.2 747.2 314.8 744.7 316.7 743.2 319.4 741.3 321.7M770.5 304.8 772.4 301.1 776.9 297.7 780.9 296.0 785.1 297.6 786.7 302.2 786.7 306.6 785.7 310.3 783.3 314.2 780.6 315.4 777.5 313.9 775.2 311.7 772.4 309.2 771.1 307.1ZM772.6 305.3 774.2 303.6 775.9 305.5 774.6 307.4M751.3 210.6 753.9 212.6 756.5 217.1 755.2 220.3 752.6 219.6 751.0 215.8ZM750.4 241.5 753.3 240.2 755.6 242.1 754.6 244.7 751.7 244.7ZM744.3 236.3 747.8 235.8 749.1 239.1 746.9 238.2M763.5 233.8 767.2 234.4 768.9 237.2 766.8 237.9 765.6 239.2M770.6 236.3 773.6 237.9 774.0 240.0 774.3 242.9 776.0 243.3M760.3 255.6 762.3 255.0 762.9 259.5 760.7 260.8 759.7 258.2ZM763.5 254.3 765.9 253.7 764.8 255.6ZM759.7 264.6 762.3 262.7 763.5 265.9 761.0 266.6ZM762.9 267.2 766.1 266.6 767.1 270.4 768.0 274.3 764.8 271.7ZM762.3 287.8 764.8 287.1 766.1 289.7 764.2 292.3 762.3 290.3ZM758.1 272.5 759.2 272.5 759.2 273.5 758.1 273.5ZM717.3 265.3 720.2 264.5 722.7 267.6 725.4 268.1 727.4 270.7 725.5 275.2 723.3 278.3 721.6 281.0 724.3 283.8 722.4 285.6 720.3 283.0 718.4 280.2 717.7 277.2 719.2 273.4 721.6 270.9 718.7 268.1ZM731.4 302.5 734.2 304.9 736.7 306.2 740.7 304.7 738.8 308.6 736.9 312.7 739.0 316.6 742.5 318.2 744.8 316.1 746.8 314.4 745.3 317.0 743.8 319.1 742.0 321.6M779.6 240.8 781.4 245.3 782.5 247.9 783.5 251.5 784.5 254.0 785.6 256.9 786.5 260.1 787.7 263.0 790.2 267.9 791.2 270.7 792.2 274.5 793.9 277.6 794.7 280.9 796.7 284.2 797.7 287.1 798.8 290.1 799.8 293.9M755.3 174.0 753.7 176.8 751.9 180.4 751.0 183.1 750.4 185.2 750.4 187.8 750.3 190.6 750.8 193.0 751.5 196.1 753.2 198.2 754.3 200.7 755.6 203.2M751.4 211.2 755.3 210.0 756.6 215.1 754.0 220.2 751.4 217.7ZM757.8 159.8 758.0 157.2 759.0 156.0 758.6 154.5 757.9 152.1 758.3 149.1 759.2 147.7 760.9 145.4 760.4 142.1 761.0 140.0 762.1 138.6 762.0 136.2 764.0 135.1 763.3 133.5 764.7 130.3 766.2 128.6 766.4 125.7 767.7 124.3 769.0 120.7 768.8 119.0 770.5 118.0 772.2 115.1 773.1 114.2 774.6 111.9 776.3 110.3 778.2 108.7 778.9 107.8 780.2 106.2 782.1 103.9 783.6 101.7 786.1 100.8 787.5 99.0 791.0 95.8 793.0 94.6 794.6 94.4 796.6 92.2 799.1 91.3 801.2 90.8 802.4 88.2 804.9 87.2 806.0 86.3 808.8 85.3 810.6 84.2 812.2 82.8 813.6 80.1 815.8 79.6 816.8 77.5 817.9 76.7 820.3 75.2M758.6 160.2 757.6 160.1 756.2 158.9 755.5 157.6 757.7 157.0 758.1 156.9 758.0 156.1M759.2 153.8 757.2 153.6 755.1 154.6 754.5 153.7 755.3 151.9 757.6 151.1 759.1 151.0M760.8 145.5 759.4 144.4 756.1 145.4 754.5 144.7 757.3 144.8 758.0 144.7 760.9 144.2M762.4 139.9 760.4 138.9 759.0 139.6 758.9 138.4 760.5 138.0 762.6 137.5 763.7 137.1M764.4 133.8 763.0 133.2 761.0 132.4 760.7 132.8 762.8 130.7 763.6 132.1 764.3 132.6M765.6 130.7 764.4 128.5 763.1 126.6 762.4 125.4 763.8 125.0 766.1 126.0 767.5 127.5M765.9 129.9 763.8 128.7 764.6 127.0 762.6 123.8 763.3 124.2 766.2 124.7 767.4 126.6M768.7 123.0 766.6 121.7 766.7 120.4 765.1 117.4 766.4 118.1 768.1 119.5 770.3 119.5M771.8 117.3 771.0 116.0 771.8 115.1 770.9 113.0 771.5 112.9 772.2 114.9 772.4 115.7M773.3 115.0 772.2 115.2 770.6 113.8 769.8 113.5 772.9 113.6 775.1 112.6 776.4 111.9M777.5 109.8 776.0 107.4 776.2 105.2 775.1 103.5 775.3 105.5 776.2 107.0 778.0 109.6M780.8 106.0 780.4 105.1 781.3 104.1 781.0 102.1 780.4 102.8 781.1 104.2 782.2 104.7M782.2 104.3 781.8 103.0 782.1 102.2 782.3 99.4 782.6 99.8 784.8 100.9 783.9 102.2M785.1 101.8 785.1 101.5 784.3 99.2 785.5 98.8 785.1 98.3 786.4 99.6 785.2 100.7M788.2 99.0 786.7 98.7 786.2 96.8 786.1 95.5 787.0 95.2 789.7 97.6 790.2 98.4M795.3 94.0 793.4 93.3 792.4 92.5 792.6 91.1 794.2 91.7 795.5 91.7 797.7 92.1M801.1 90.0 800.8 88.0 802.2 86.7 802.0 85.4 803.0 84.7 804.9 87.0 805.2 87.9M808.6 86.2 806.2 84.8 804.8 83.6 803.6 82.4 806.2 81.9 807.5 84.5 809.7 85.6M815.1 80.3 813.8 79.5 813.2 77.0 812.6 74.0 815.6 77.0 814.7 77.3 816.2 78.3M818.2 77.7 818.0 75.5 818.4 74.5 818.0 74.1 818.2 75.1 820.5 75.2 819.3 76.1M400.0 202.8 402.1 199.8 405.7 198.3 409.1 195.5 411.4 197.1 412.8 199.5 416.5 199.3 418.8 200.6 415.9 201.8 413.6 204.1 416.9 205.4 413.9 209.3 412.0 209.5 408.5 208.1 405.4 205.7 402.1 204.9 400.0 206.6M418.5 188.4 420.6 189.1 421.3 191.8 419.2 191.1ZM424.7 190.4 426.6 191.3 427.1 195.1 429.4 198.3 433.5 198.7 436.0 199.1 436.1 201.5 433.1 200.7 428.8 199.4 426.5 196.3 425.1 193.1ZM459.0 182.2 460.3 178.0 464.0 176.0 467.7 175.2 472.3 176.3 474.8 179.1 477.3 181.0 479.3 182.9 478.8 185.5 476.3 186.9 472.9 187.9 468.6 188.4 464.6 188.2 461.2 186.7 459.5 184.5ZM454.2 178.1 456.5 176.7 459.0 178.1 459.2 181.3 456.9 182.9 454.4 181.8ZM464.4 195.9 466.5 194.6 468.1 196.6 466.9 200.0 464.4 202.1 462.4 201.4 462.8 198.7ZM478.8 185.6 480.9 183.6 484.0 183.3 487.5 181.9 491.3 183.2 491.0 186.6 488.2 187.9 486.1 190.9 483.0 193.9 480.5 192.2 479.1 189.2ZM452.1 221.3 454.3 217.9 457.5 216.2 460.9 215.9 464.0 218.5 463.9 223.7 459.6 224.9 457.0 225.6 453.7 223.9ZM456.2 218.5 458.3 217.7 462.5 219.5 460.1 223.9 458.2 223.4ZM304.5 206.1 306.8 204.0 308.0 200.7 312.2 201.8 313.7 200.6 315.9 198.7 317.3 200.9 317.7 203.0 315.8 205.0 313.9 207.4 317.3 208.2 319.9 208.2 323.3 207.8 321.7 208.8 319.2 211.0 317.4 212.6 314.2 213.6 310.4 214.3 309.2 211.8 306.7 208.1ZM251.1 239.5 254.6 237.8 255.5 239.9 255.4 242.6 257.6 239.6 258.7 237.0 259.8 239.6 261.0 241.7 264.8 239.6 266.9 237.3 266.3 240.8 265.6 243.3 263.2 244.6 260.6 246.2 257.9 245.8 256.2 245.3ZM244.1 248.5 246.7 247.8 248.0 252.4 250.5 254.9 245.9 254.9ZM231.3 261.4 234.3 260.0 236.0 259.3 239.3 258.3 241.9 257.6 239.8 260.3 239.1 263.0 236.1 265.1 234.1 266.3 232.6 263.5ZM222.3 271.7 225.3 270.6 227.2 270.7 229.7 273.0 231.4 275.9 229.2 277.2 226.4 278.1ZM214.6 289.7 216.1 289.0 218.2 287.5 220.3 288.3 222.2 291.3 223.4 288.6 224.9 285.2 226.5 283.2 227.8 280.0 227.7 283.3 228.6 285.8 228.8 288.0 227.5 291.3 226.8 293.8 225.6 296.2 222.9 294.8 219.7 295.2ZM225.9 297.2 226.8 294.2 228.0 291.6 228.7 288.1 229.5 285.5 230.6 281.9 231.3 279.6 232.7 275.9 234.7 273.3 235.9 271.1 238.6 268.4 240.9 265.9 242.5 263.4 244.6 261.1 247.2 258.6 249.3 257.2 251.7 255.2 254.0 253.1 256.7 250.8 259.4 249.5 261.4 247.4 265.1 246.4 268.0 244.0 271.5 242.3 275.1 240.6 278.0 238.5 281.1 237.2 284.2 235.3 287.7 233.0 290.3 231.5 292.5 228.8 294.9 226.8 297.8 225.3 300.8 222.1 303.9 219.8 306.7 217.2M299.4 226.7 300.4 225.1 301.2 222.7 304.2 221.2 307.5 218.6M344.4 190.7 346.9 192.0 345.7 197.1 343.1 201.0 341.8 195.8ZM361.1 186.8 364.2 194.5 361.6 197.9 358.5 194.5ZM377.8 192.0 380.5 191.0 382.4 190.5 383.3 193.3 383.8 195.0 380.0 195.4ZM386.8 197.1 393.2 198.4 391.9 202.2 387.3 201.0ZM399.6 199.7 402.5 199.2 405.5 196.5 407.2 197.1 409.7 196.5 412.7 195.1 413.8 198.5 415.6 200.3 419.7 200.7 422.8 198.9 421.1 201.5 419.2 204.2 416.1 207.2 413.2 209.3 411.0 208.5 408.9 207.1 407.8 206.7 405.1 204.9 401.9 203.6ZM418.9 188.1 421.5 189.4 421.0 192.0 418.9 190.7ZM425.3 192.0 427.9 194.5 429.2 198.4 426.6 197.1ZM431.8 198.4 436.9 199.7 435.6 201.5 432.3 200.4ZM337.9 112.3 339.8 115.0 341.5 117.8 343.2 119.1 344.6 121.6 345.2 124.0 346.0 127.0 346.7 130.4 348.7 128.5 350.9 127.4 350.2 131.0 349.1 134.3 353.2 135.4 353.0 137.7 351.8 140.6 353.7 142.6 354.2 144.1 352.1 143.9 349.1 143.0 347.8 140.8 347.1 138.5 347.1 135.4 347.2 132.9 345.7 131.1 344.5 129.0 343.6 125.5 342.9 122.7 341.3 120.3 339.7 117.0ZM191.4 153.4 194.0 154.7 195.3 158.5 192.7 159.8 191.4 156.7ZM192.7 165.0 195.3 166.3 194.5 168.1 192.7 167.0ZM208.1 256.2 209.4 260.1 210.7 264.7 208.9 261.4ZM222.8 301.3 223.0 304.0 223.7 307.2 225.0 310.0 225.4 313.2 226.4 315.7 226.6 318.2 227.1 321.0 228.3 324.4 229.1 327.4 230.3 330.1 231.3 332.3 230.9 334.8 232.5 336.9 232.8 340.1 232.6 342.0 232.4 345.2 232.1 347.8 231.4 351.3 230.5 354.5 229.0 357.8 227.5 360.1M214.6 364.3 216.5 363.7 218.1 363.5 220.5 364.2 222.6 365.8 225.3 368.1 222.4 370.3 221.0 372.1 218.5 371.3 217.5 371.2ZM213.3 390.0 213.2 392.9 213.7 394.8 214.3 397.8 215.2 400.1 215.0 402.5 214.7 405.2 214.9 407.5 214.2 410.7 214.1 412.9 213.2 415.6 213.8 418.6 213.4 421.3 213.0 423.4 212.9 426.1M222.3 497.9 224.2 499.8 226.2 501.8 227.7 504.2 228.6 506.8 225.8 505.4 224.1 504.0 222.5 503.5ZM158.0 301.3 159.4 302.3 162.4 303.8 163.3 305.3 164.3 307.1 166.8 309.3 168.7 311.3 167.4 313.7 168.0 316.1 167.4 317.5 163.9 319.1 164.1 316.4 162.6 313.9 162.3 312.3 160.9 310.9 159.9 307.3 159.8 304.9ZM169.6 332.1 174.7 330.3 176.0 333.4 172.9 338.6 171.4 335.5ZM201.7 473.5 205.6 471.7 206.3 477.4 203.0 479.9ZM194.5 468.4 196.0 469.7 195.3 471.7ZM232.5 527.6 233.6 530.2 235.1 532.6 236.0 535.5 238.2 537.3 239.6 539.9 241.0 541.7 242.1 544.1 244.0 545.7M250.5 615.0 253.3 615.0 255.8 614.3 257.0 616.2 258.5 618.5 259.9 620.4 260.4 622.7 260.8 625.3 257.9 624.9 255.6 623.7 254.1 621.8 252.3 619.7ZM287.8 679.2 291.2 678.0 293.0 684.4 288.6 683.9ZM302.0 613.7 305.8 613.2 306.6 616.8 302.5 616.8ZM315.6 634.3 317.9 633.0 319.2 636.8 317.4 639.9 315.6 638.1ZM345.7 658.7 348.5 657.8 351.2 656.6 353.0 657.8 355.4 657.8 357.6 658.5 358.2 659.9 360.1 662.1 361.5 663.6 358.7 662.4 355.7 660.9 353.4 660.9 352.0 660.2 349.6 660.2 346.7 661.4ZM373.9 687.0 375.9 687.5 378.6 689.0 380.9 689.5 379.6 687.5 379.2 684.6 379.8 687.0 381.7 688.2 382.8 691.4 384.6 691.3 387.1 692.3 388.9 693.7 389.0 691.6 388.6 689.4 389.3 691.1 390.4 692.1 391.8 693.8 393.1 696.2 395.3 697.2 398.0 697.9 399.4 699.4 401.3 701.2 403.0 703.2 405.3 704.8 403.1 703.5 400.4 703.4 398.0 702.1 396.0 701.4 394.5 700.6 393.2 699.5 390.4 697.6 388.1 699.6 387.0 701.2 386.1 699.1 385.4 697.3 384.2 694.9 382.5 694.6 380.3 693.7 377.4 692.9 379.4 696.3 380.0 698.7 378.6 696.8 378.0 695.4 376.6 693.2 375.8 692.1ZM272.4 607.8 276.1 607.4 278.5 609.4 280.1 611.0 278.3 611.7 275.9 612.3ZM196.6 594.9 200.4 595.7 203.0 598.3 199.1 597.8ZM406.1 607.8 409.6 606.8 412.0 605.8 414.8 604.9 418.0 604.1 420.4 603.3 422.8 602.3 425.5 600.9 428.8 600.6 431.3 600.3M430.5 742.2 433.0 741.6 435.7 742.0 436.3 744.5 437.0 746.3 434.4 747.0 432.0 747.2ZM176.5 532.7 178.0 532.7 178.0 534.3 176.5 534.3ZM161.9 559.7 163.4 559.7 163.4 561.2 161.9 561.2ZM406.6 549.9 408.1 549.9 408.1 551.5 406.6 551.5ZM429.7 683.6 431.3 683.6 431.3 685.2 429.7 685.2ZM433.6 664.3 435.1 664.3 435.1 665.9 433.6 665.9ZM436.1 673.3 437.7 673.3 437.7 674.9 436.1 674.9ZM438.2 655.8 439.7 655.8 439.7 657.4 438.2 657.4ZM573.7 541.7 576.8 537.9 581.4 536.6 582.5 539.1 579.4 544.3 575.5 548.1 573.0 546.9ZM548.5 571.3 550.1 570.2 552.5 568.3 555.0 567.8 557.1 567.0 558.3 569.6 558.4 572.2 557.0 573.8 555.5 575.4 553.3 576.2 552.7 577.9 550.6 580.4 553.4 581.8 555.0 582.9 556.6 581.4 557.9 580.1 557.3 582.3 557.2 584.8 556.0 587.2M528.0 615.0 530.0 612.1 531.7 609.7 532.9 606.5 534.3 603.4 536.5 601.3 538.0 599.2 540.7 603.6 539.2 606.4 538.6 609.7 538.8 613.2 539.4 616.0 541.1 618.5 543.6 620.3 542.0 623.0 540.8 626.9 538.7 624.3 537.3 623.0 534.8 620.9 533.5 619.2ZM533.1 638.1 532.6 640.3 532.9 643.0 531.5 646.3 531.9 648.6 532.6 651.7 532.5 653.1 532.5 655.4 531.4 658.0M493.3 716.5 497.0 715.2 499.7 714.8 501.9 714.5 505.2 713.7 506.8 711.5 509.0 709.6 511.2 707.5 509.5 710.1 507.4 712.5 505.8 715.6 505.0 718.2 502.3 718.6 499.5 718.7 496.1 720.8ZM515.1 691.6 520.3 689.5 521.5 693.4 516.4 694.7ZM441.9 640.7 443.7 639.6 445.8 638.7 446.6 642.0 445.1 644.1 444.0 646.0 441.6 643.7M472.7 664.6 477.8 663.3 483.0 664.6 477.8 666.4ZM438.5 655.3 440.1 655.3 440.1 656.9 438.5 656.9ZM433.4 664.3 434.9 664.3 434.9 665.9 433.4 665.9ZM435.2 673.8 436.7 673.8 436.7 675.4 435.2 675.4ZM430.0 684.1 431.6 684.1 431.6 685.7 430.0 685.7ZM452.6 643.3 454.2 643.3 454.2 644.8 452.6 644.8ZM492.5 661.0 494.0 661.0 494.0 662.5 492.5 662.5ZM542.6 715.0 544.2 715.0 544.2 716.5 542.6 716.5ZM554.2 656.6 555.7 656.6 555.7 658.2 554.2 658.2ZM546.5 672.0 548.0 672.0 548.0 673.6 546.5 673.6ZM589.7 699.8 591.2 699.8 591.2 701.3 589.7 701.3ZM675.0 648.9 676.6 648.9 676.6 650.4 675.0 650.4ZM561.9 601.3 563.4 601.3 563.4 602.9 561.9 602.9ZM561.9 607.0 563.4 607.0 563.4 608.5 561.9 608.5ZM431.6 743.5 435.4 743.0 435.9 746.6 432.3 746.6ZM539.0 736.3 540.8 735.8 541.3 739.9 539.3 740.4ZM560.1 503.1 562.0 502.3 563.6 501.1 566.6 501.1 568.3 500.9 570.5 500.2 572.7 501.4 575.1 502.7 573.6 503.8 571.6 505.9 569.3 506.2 567.3 506.9 565.2 506.5 563.3 506.4 561.2 505.2ZM670.0 717.1 672.2 715.9 675.1 717.1 677.5 718.4 680.6 719.8 683.5 721.5 688.5 723.2 687.4 725.5 682.4 726.6 679.5 724.3 677.4 722.5 672.0 722.2 670.2 718.9ZM651.5 703.8 655.6 704.2 656.2 706.8 652.1 706.8ZM693.7 738.7 696.8 737.1 697.4 741.8 695.7 744.9 693.7 742.8ZM695.3 755.2 698.2 755.2 698.8 758.9 695.7 759.3ZM704.4 713.4 705.6 713.4 705.6 714.7 704.4 714.7ZM707.5 723.7 708.7 723.7 708.7 724.9 707.5 724.9ZM716.7 739.7 717.9 739.7 717.9 741.0 716.7 741.0ZM726.4 702.7 727.6 702.7 727.6 704.0 726.4 704.0ZM793.8 757.6 795.1 757.6 795.1 758.9 793.8 758.9ZM796.5 751.5 797.7 751.5 797.7 752.7 796.5 752.7ZM675.2 649.3 676.4 649.3 676.4 650.5 675.2 650.5ZM708.2 708.0 709.8 708.0 709.8 709.6 708.2 709.6ZM704.4 713.2 705.9 713.2 705.9 714.7 704.4 714.7ZM726.2 702.1 727.8 702.1 727.8 703.7 726.2 703.7ZM812.3 702.9 813.9 702.9 813.9 704.4 812.3 704.4ZM807.2 704.9 808.7 704.9 808.7 706.5 807.2 706.5ZM851.4 702.4 853.0 702.4 853.0 703.9 851.4 703.9ZM706.9 723.5 708.5 723.5 708.5 725.0 706.9 725.0ZM717.2 738.9 718.8 738.9 718.8 740.4 717.2 740.4ZM940.4 648.9 941.9 648.9 941.9 650.4 940.4 650.4ZM699.2 733.0 700.8 733.0 700.8 734.5 699.2 734.5ZM948.1 530.1 949.6 528.7 951.3 527.8 952.7 526.5 955.0 526.7 957.1 527.8 955.7 529.5 954.8 531.6 951.9 531.8 949.4 532.8ZM641.1 154.7 641.7 156.4 643.3 158.3 646.5 159.6 647.8 158.5 649.8 156.9 651.2 159.3 649.2 160.9 647.3 162.1 643.5 161.6M590.2 76.3 591.5 78.0 591.9 80.0" fill="none" stroke-width="1.45"/><path d="M767.1 442.7 770.4 442.7 772.4 442.8 773.3 441.7 777.3 442.8 778.7 441.4 780.6 444.0 782.1 443.2 786.6 444.5 786.9 445.1 791.0 446.3 792.1 448.2 795.3 449.0 795.7 450.1 797.9 449.7 800.6 452.1 803.1 453.3 805.1 452.9 807.0 455.6 811.5 455.5 812.1 456.1 815.5 458.0 815.9 460.1 818.8 460.7 819.3 462.4 822.1 463.1 822.8 465.7 826.3 466.3 828.4 467.3 828.4 467.4 831.1 467.5 832.6 467.8 835.7 464.6 837.8 463.4 839.2 463.2 841.5 465.5 843.0 465.6 843.8 466.0 846.0 466.1 848.7 465.7 851.8 466.3 852.6 466.8 855.7 467.8 856.1 467.6 858.7 469.4 860.2 469.1 863.9 471.3 864.6 471.7 866.6 472.5 869.4 473.3 870.9 474.4 873.3 476.4 876.8 477.8 877.8 477.2 879.1 480.0 881.2 481.9 884.1 481.8 884.2 483.1 886.6 484.0 887.1 487.3 888.9 489.1 890.5 490.3 892.2 489.9 894.0 491.8 896.5 494.6 897.0 496.5 898.6 498.0 900.6 497.4 901.0 500.5 902.0 502.3 903.5 502.9 906.6 503.3 908.2 505.1 909.1 505.6M767.5 441.8 768.9 441.8 772.4 440.8 773.6 441.2 777.4 440.9 778.9 440.7 779.9 441.5 783.7 441.7 786.5 443.1 787.4 443.5 791.6 446.5 793.6 447.3 793.7 447.7 797.2 448.0 800.7 449.5 800.9 451.5 803.1 453.0 806.2 453.1 808.2 454.1 810.1 454.1 814.2 455.7 816.2 456.8 818.4 459.8 819.6 460.7 820.8 461.8 821.4 462.3 824.9 462.9 826.9 466.0 827.3 465.9 829.1 467.2 832.5 466.3 832.0 464.6 835.8 466.0 837.2 463.7 839.3 463.5 840.6 463.7 843.5 464.4 844.6 463.8 847.0 466.4 849.1 466.2 851.1 465.4 852.5 467.8 856.4 467.1 858.2 468.4 860.8 469.7 861.6 470.7 865.1 470.6 866.9 471.2 867.7 471.5 871.0 472.2 871.0 475.0 874.9 475.3 877.1 475.3 877.7 477.1 880.1 477.9 880.8 479.7 884.5 482.7 885.6 482.7 885.9 485.3 888.1 486.0 888.4 486.2 892.0 489.3 893.7 490.3 894.0 491.8 896.7 492.7 897.4 494.0 899.6 494.7 900.9 498.5 900.7 499.0 903.9 501.0 905.3 500.8 906.5 503.9 909.4 503.0 908.9 504.2M767.9 440.9 771.4 439.5 771.2 441.3 773.9 438.6 777.4 439.6 780.3 439.8 782.8 440.4 784.2 443.0 786.7 444.0 789.0 442.6 791.7 445.2 792.5 445.3 796.2 447.5 798.7 448.8 801.1 449.1 802.7 450.1 803.8 452.2 806.3 452.8 810.2 453.6 810.4 455.2 814.0 454.7 814.7 456.8 816.4 459.0 819.3 459.1 820.8 460.7 823.8 461.0 824.1 463.0 825.6 464.3 828.0 465.2 830.1 466.7 830.5 467.0 833.2 464.6 835.4 464.9 838.8 462.9 839.4 460.9 842.7 461.7 843.9 462.8 845.3 463.4 847.0 463.2 850.0 465.8 852.3 464.7 854.5 464.9 855.8 467.4 859.2 467.0 861.1 467.6 862.3 468.7 865.6 470.1 866.3 470.9 868.8 470.9 871.2 473.0 872.8 474.5 873.3 474.5 877.0 475.2 877.8 477.2 880.6 477.3 881.1 480.4 883.4 479.5 884.6 481.2 887.9 482.4 887.9 483.5 889.9 485.3 891.1 488.2 894.2 490.0 893.4 490.4 897.1 491.0 896.9 493.6 899.0 495.7 901.4 496.3 901.7 497.1 903.3 498.1 905.9 499.6 908.1 502.1 907.6 503.1 910.6 503.2M768.3 440.0 771.7 440.7 773.9 438.0 775.4 438.4 777.5 438.1 778.9 439.4 781.3 439.9 783.1 439.9 787.1 441.7 788.9 443.5 790.8 442.9 794.2 445.4 796.1 446.7 799.2 446.9 801.0 447.7 802.8 449.3 804.4 449.0 807.1 451.8 809.7 452.2 812.1 452.7 813.2 454.2 817.1 455.0 817.0 455.9 818.5 457.6 821.6 460.2 822.7 460.2 824.3 461.4 827.3 463.3 827.7 463.4 830.7 466.3 832.9 464.1 834.1 464.9 836.3 464.1 837.1 463.2 838.9 460.8 840.8 462.4 844.6 463.5 847.0 464.0 848.3 464.8 850.9 463.7 853.6 464.3 853.6 464.0 856.4 464.9 859.7 467.3 859.8 465.6 862.7 466.7 864.8 469.3 866.1 469.3 869.9 470.2 870.5 472.3 873.7 473.5 875.5 473.3 877.5 475.6 879.5 475.2 880.6 476.7 883.4 478.4 884.4 480.5 884.8 481.3 886.9 482.5 889.7 483.0 891.6 484.1 892.1 486.8 892.8 488.4 895.0 489.7 897.1 490.1 897.8 493.5 898.7 495.1 900.4 496.0 901.9 496.8 904.1 497.2 906.4 499.5 908.0 501.0 909.3 502.2 910.2 504.5M823.4 519.9 824.5 520.1 827.3 522.3 828.8 522.2 831.1 524.5 833.0 525.5 836.1 525.6 837.9 527.5 839.7 529.8 841.1 529.2 844.8 531.2 845.4 532.1 847.8 534.4 849.5 533.9 852.4 535.6 855.1 537.2 856.5 536.9 860.1 539.5 861.0 539.9 865.3 540.7 866.0 542.0 869.1 541.9 871.0 542.9 871.8 544.2 874.5 545.4 877.0 547.5 879.6 549.1 881.6 550.0 882.1 550.1M844.0 528.1 845.3 528.4 848.5 531.6 851.7 532.2 853.0 532.7 857.8 533.9 860.7 536.2 861.6 534.7 865.3 536.2 865.6 539.2 870.7 540.6 873.6 539.8 873.6 540.7 878.8 541.8M859.4 531.4 861.1 531.2 864.8 533.8 868.9 537.2 871.4 536.4 873.3 538.3 874.5 537.7 878.4 541.5 881.8 542.6 884.2 539.6 885.4 543.8 887.6 544.4 889.1 544.8M722.5 500.4 725.7 501.6 729.3 501.6 733.2 502.7 736.4 500.3 738.3 500.7 740.5 501.1 743.2 499.4 746.7 500.3 747.8 499.9 750.8 499.5 753.7 501.3 755.5 500.9 759.0 499.5 760.7 497.8M763.7 500.4 766.6 500.0 768.5 500.3 772.4 499.4M685.7 487.6 688.0 488.2 690.9 489.0 693.3 488.5 696.2 489.0M714.0 475.6 715.8 478.0M859.5 293.4 861.7 294.6 864.3 295.8 867.6 296.8 870.0 298.8 871.8 299.1 874.9 301.0 877.4 301.7 880.4 302.8M866.3 302.9 867.6 305.2 869.3 306.6M885.2 328.6 885.5 330.2 887.4 331.8 889.5 334.4 888.8 336.7M878.3 318.3 878.6 319.4 880.6 322.0M872.3 360.3 876.4 362.0M832.9 360.3 833.9 362.6 834.4 365.4 835.0 368.8M836.3 340.1 838.5 339.6 842.0 339.7 844.4 341.7 845.9 341.7M869.7 370.6 872.0 373.1 871.4 375.3 873.1 378.9 872.9 378.7 873.7 380.2 875.3 385.0 875.0 386.5 876.1 389.3 878.1 390.0 877.3 391.6 880.6 394.0 880.4 397.4M865.5 392.9 865.5 394.9 866.9 396.4 871.2 397.4 872.9 400.6 874.3 400.9M892.9 422.1 894.6 425.2 895.8 427.9M941.8 392.9 944.8 393.4 946.9 393.9M791.3 417.0 793.6 416.0 796.1 415.3 798.9 413.8 802.0 413.5M810.5 411.8 811.8 414.1 813.5 416.1 814.2 418.8 815.7 420.7 817.5 423.8 819.1 427.4 821.9 430.3 823.6 432.7M736.0 392.6 737.5 392.4 740.2 392.8 741.5 391.7 743.5 391.4 746.2 391.6 748.3 390.8 748.7 389.0 752.2 388.9 752.8 388.5 756.3 387.3 757.3 386.6 760.5 386.2 761.3 385.4M736.0 393.2 737.9 392.8 740.0 392.4 742.4 391.7 743.6 392.4 745.8 392.0 747.2 390.4 749.1 389.4 750.6 389.4 753.1 389.0 756.4 389.2 758.1 387.5 759.4 388.0 761.2 387.4M736.0 393.8 737.3 393.5 739.9 394.0 742.3 393.4 744.0 391.9 746.4 391.8 747.7 390.5 749.1 391.2 750.7 389.2 753.2 389.2 755.5 388.9 757.0 387.5 759.4 387.6 761.8 387.5M736.0 394.4 737.9 394.8 739.1 393.6 741.0 393.7 743.1 392.8 746.2 391.7 746.9 391.5 750.0 391.2 751.6 391.3 753.0 390.0 754.9 390.1 756.7 389.5 759.4 388.7 761.1 388.8M763.7 388.9 766.2 387.6 768.5 387.4 769.4 386.4 772.3 386.5 774.9 386.1 776.0 385.6 778.0 384.5 780.6 383.1 783.1 381.6 784.2 381.5 786.4 379.6 788.8 378.5 791.7 377.3M777.7 372.1 779.5 370.5 783.3 371.2 785.8 370.0 787.2 370.5 790.1 368.1 790.6 366.7 793.8 365.8M778.8 374.7 780.2 373.2 784.4 372.5 787.6 373.6 789.0 371.7 791.2 370.2 792.5 369.6 794.2 370.2M780.8 377.3 782.5 376.8 784.8 376.2 787.4 376.6 789.0 375.5 790.6 373.6 793.3 374.0 794.5 372.0 795.1 371.5M778.8 380.3 781.9 379.7 783.0 378.7 783.9 377.3 786.1 375.3M780.8 383.4 783.0 381.6 784.4 381.5 785.7 380.0 790.2 378.1M776.7 373.1 777.3 373.5 781.9 371.2 782.5 373.1 783.4 372.4 787.4 372.2 787.0 371.3 789.0 370.0 792.9 368.1 792.8 368.8 797.0 366.0M778.2 377.3 781.0 377.4 783.2 375.8 782.8 374.7 786.3 374.2 788.1 374.8 789.4 372.1 791.1 372.2 793.9 371.6 793.8 369.6 798.2 369.7M781.8 381.9 783.1 380.3 785.1 381.4 786.3 378.8 789.1 377.7 791.1 378.4 790.9 374.6 793.4 375.3 796.5 372.6M784.9 384.5 787.2 384.2 789.9 383.0 790.6 380.2 790.9 378.1 794.5 377.4M510.4 187.0 512.2 189.7 513.3 193.0 512.0 197.1 509.4 201.4 506.8 205.0 503.9 208.0 499.6 210.3M502.1 181.8 504.7 181.7 508.3 181.6 512.2 181.2 515.4 180.9 517.9 181.6 520.9 181.3 523.8 181.5 526.5 182.0 528.6 181.2 531.4 181.2 534.9 180.4 538.2 180.8 541.9 179.5 544.9 179.2 548.5 179.8 550.3 179.2 553.8 178.6 556.9 178.2 560.1 178.2M427.4 214.4 429.7 214.8 430.1 217.3 431.1 219.1 433.5 219.2 437.5 222.1 438.6 223.6 441.6 222.9 441.8 225.5 445.7 226.2 446.9 225.8M187.6 485.6 189.5 484.9 193.2 482.5 195.0 482.1 198.3 482.2M537.0 658.7 536.1 660.6 537.4 664.3 535.6 667.1 536.6 670.0 535.6 672.6 535.9 674.3 533.5 676.7 534.0 678.9 532.7 682.1 532.3 685.1 531.5 688.1 530.8 690.2 532.0 693.2 533.8 694.9M540.8 635.5 541.4 638.2 539.6 639.3 540.2 641.7 539.6 642.8 539.7 646.6M459.8 665.9 463.3 664.5 466.0 662.9 469.3 664.0 472.6 665.4 475.1 665.5 477.5 665.3 480.6 665.1 482.7 664.9M480.4 465.8 481.2 468.7 483.5 470.6 485.5 474.1M695.7 697.6 696.4 699.3 697.3 702.4 696.5 704.7M707.0 707.9 710.2 709.5M717.3 725.3 719.6 725.9 719.6 728.2 721.9 731.7M706.0 748.0 707.8 747.9 707.6 752.1 711.6 752.7 712.8 753.4 714.7 753.0 717.0 749.3 717.2 750.4 719.5 745.5 723.1 747.5M705.0 755.2 707.5 757.3 709.7 759.1 710.3 760.1 713.7 763.3 717.3 765.1M716.7 726.8 718.8 727.0 719.1 728.4 722.0 730.9M715.9 746.1 718.2 748.1 720.9 749.2" fill="none" stroke-width="1.5" stroke-dasharray="3.5 2"/><path d="M772.2 441.3 774.8 442.6 778.9 440.9 781.8 442.2 781.8 443.8 784.5 443.0 787.0 444.6 788.4 445.7 792.6 446.2 794.9 447.4 797.3 447.2 798.4 448.9 800.3 451.4 804.3 450.2 806.7 452.2 804.0 453.6 802.1 452.6 799.8 452.9 796.1 453.1 793.3 450.2 792.8 449.3 789.2 449.1 787.1 448.1 785.1 447.2 781.8 447.2 780.2 444.4 778.0 445.9 776.0 444.5 773.0 443.5 772.6 440.9ZM739.7 477.3 742.5 476.6 744.6 479.4 747.5 479.0 749.2 479.0 751.2 478.6 753.9 480.5 755.0 480.3 758.7 480.9 761.6 483.0 764.5 480.8 765.5 481.8 765.8 486.5 764.2 486.3 760.7 486.6 756.3 485.3 754.2 483.9 751.1 484.6 751.2 482.8 747.2 481.4 743.5 480.5 742.9 480.1 740.9 476.4ZM853.4 309.7 857.0 310.4 857.4 313.5 854.1 313.5 854.1 311.5 854.0 309.7ZM840.2 313.7 842.1 314.9 843.8 317.0 845.9 318.0 847.8 319.7 848.8 320.7 850.8 321.4 848.2 322.7 846.3 321.2 845.0 319.9 843.5 318.9 841.8 315.9 839.9 313.8ZM893.8 314.0 895.3 313.9 898.2 316.4 901.2 316.4 905.8 317.3 905.9 322.1 906.1 323.2 904.2 328.1 903.8 329.3 899.4 332.2 901.2 330.1 900.7 327.3 900.5 324.0 897.7 321.0 896.1 319.5 893.8 316.8 893.9 314.1ZM879.2 418.6 880.9 419.1 883.6 418.3 887.6 419.6 889.1 420.1 889.5 424.3 888.9 426.4 886.2 426.8 884.8 427.4 882.4 426.4 880.6 423.7 879.2 422.1 879.3 419.3ZM860.3 386.1 862.9 385.6 866.2 383.2 866.1 387.7 867.8 389.2 867.7 389.6 865.7 392.3 861.6 392.2 861.7 388.5 860.3 386.1ZM873.2 401.5 873.6 399.6 877.2 401.2 879.8 400.4 880.6 400.7 884.0 402.3 885.9 403.0 885.0 406.5 886.8 407.7 886.7 411.6 885.2 412.3 887.9 413.6 888.6 417.8 882.9 418.2 883.3 415.0 879.1 414.9 876.8 412.2 877.5 409.7 875.3 408.9 876.2 404.4 875.0 402.7 873.9 400.9ZM913.5 357.8 915.3 357.0 917.0 357.7 919.8 357.3 919.4 361.0 916.2 360.4 914.3 360.2 913.7 358.1ZM940.1 428.9 941.9 430.1 945.6 430.4 948.4 431.3 949.7 432.7 953.3 434.8 955.0 435.3 957.5 436.6 955.4 436.4 953.0 434.9 950.4 435.2 947.3 435.5 945.0 433.8 942.8 433.0 941.4 431.6 940.8 429.1ZM962.4 426.4 964.7 426.6 965.0 429.4 966.3 431.9 968.1 433.8 968.6 435.8 970.0 437.8 970.7 439.3 968.8 439.9 967.6 437.7 966.0 434.9 965.2 433.5 964.7 431.3 963.8 429.2 961.7 426.2ZM768.5 363.4 771.5 361.3 776.2 364.0 776.9 366.7 775.7 369.3 772.9 367.9 769.8 366.1 768.9 363.9ZM732.0 314.0 735.3 313.6 738.9 314.8 740.7 320.1 739.5 323.5 736.1 324.3 732.7 322.6 732.3 317.4 732.5 314.5ZM733.3 312.8 736.1 311.7 738.3 314.4 738.5 316.4 739.8 321.3 737.0 321.6 734.1 318.3 734.3 315.0 733.0 312.3ZM715.3 231.9 718.2 232.8 719.3 234.9 719.0 237.3 716.2 237.3 715.7 235.1 715.0 231.5ZM780.3 240.8 783.3 242.0 784.1 245.1 784.7 248.3 787.4 248.1 788.5 246.4 788.8 248.9 787.7 252.1 788.1 255.7 788.5 258.9 786.8 254.8 784.9 252.4 784.0 250.3 782.7 246.8 781.7 244.3 780.6 240.5ZM490.5 187.0 494.6 184.2 498.8 185.3 501.4 184.4 499.6 187.3 499.8 189.5 500.1 191.9 499.5 195.1 494.8 197.5 493.3 202.1 490.3 203.6 490.1 208.2 486.1 207.0 484.8 205.2 484.7 201.2 489.4 199.0 491.6 195.6 491.7 191.9 491.0 187.1ZM466.5 206.2 470.3 207.9 472.9 210.3 476.9 207.4 479.0 209.9 480.7 212.0 480.6 215.9 476.2 216.6 475.1 216.7 471.4 218.1 469.4 218.0 470.7 215.6 468.1 211.5 465.5 207.9 465.8 207.0ZM542.9 644.5 544.2 643.9 545.9 642.5 546.6 645.4 547.4 646.9 547.9 650.2 546.7 652.4 546.8 655.4 546.5 658.0 542.3 655.6 542.8 654.1 542.6 652.3 542.0 650.0 542.9 647.2 542.7 644.9ZM584.5 688.2 592.2 684.9 602.5 682.8 603.0 684.4 593.5 687.0 585.8 690.0ZM608.9 681.6 611.8 680.8 612.5 683.6 609.7 684.6ZM573.0 694.7 576.3 693.6 577.3 696.0 573.7 697.0Z" fill="#603c06" stroke-width="1"/></g>
<text x="139.8" y="789" text-anchor="middle" font-size="20.6" fill="#000" textLength="69.5" lengthAdjust="spacingAndGlyphs">100°W</text><text x="306.9" y="789" text-anchor="middle" font-size="20.6" fill="#000" textLength="57.5" lengthAdjust="spacingAndGlyphs">95°W</text><text x="474.0" y="789" text-anchor="middle" font-size="20.6" fill="#000" textLength="57.5" lengthAdjust="spacingAndGlyphs">90°W</text><text x="641.1" y="789" text-anchor="middle" font-size="20.6" fill="#000" textLength="57.5" lengthAdjust="spacingAndGlyphs">85°W</text><text x="808.2" y="789" text-anchor="middle" font-size="20.6" fill="#000" textLength="57.5" lengthAdjust="spacingAndGlyphs">80°W</text><text x="131.8" y="706.9" text-anchor="end" font-size="20.6" fill="#000" textLength="50.3" lengthAdjust="spacingAndGlyphs">16°N</text><text x="131.8" y="566.3" text-anchor="end" font-size="20.6" fill="#000" textLength="50.3" lengthAdjust="spacingAndGlyphs">20°N</text><text x="131.8" y="422.1" text-anchor="end" font-size="20.6" fill="#000" textLength="50.3" lengthAdjust="spacingAndGlyphs">24°N</text><text x="131.8" y="273.3" text-anchor="end" font-size="20.6" fill="#000" textLength="50.3" lengthAdjust="spacingAndGlyphs">28°N</text><text x="131.8" y="118.9" text-anchor="end" font-size="20.6" fill="#000" textLength="50.3" lengthAdjust="spacingAndGlyphs">32°N</text>
<defs><linearGradient id="jet" x1="0" y1="0" x2="0" y2="1"><stop offset="0" stop-color="#800000"/><stop offset="0.125" stop-color="#ff0000"/><stop offset="0.375" stop-color="#ffff00"/><stop offset="0.5" stop-color="#80ff80"/><stop offset="0.625" stop-color="#00ffff"/><stop offset="0.875" stop-color="#0000ff"/><stop offset="1" stop-color="#00008f"/></linearGradient></defs>
<rect x="989.4" y="75.2" width="34.1" height="693.3" fill="url(#jet)" stroke="#262626" stroke-width="0.9"/>
<path d="M1023.5 144.5h-7.5M1023.5 213.9h-7.5M1023.5 283.2h-7.5M1023.5 352.5h-7.5M1023.5 421.8h-7.5M1023.5 491.2h-7.5M1023.5 560.5h-7.5M1023.5 629.8h-7.5M1023.5 699.2h-7.5" stroke="#262626" stroke-width="1" fill="none"/>
<text x="1033" y="84.1" text-anchor="start" font-size="24.6" fill="#262626" textLength="30.4" lengthAdjust="spacingAndGlyphs">50</text><text x="1033" y="153.4" text-anchor="start" font-size="24.6" fill="#262626" textLength="30.4" lengthAdjust="spacingAndGlyphs">40</text><text x="1033" y="222.8" text-anchor="start" font-size="24.6" fill="#262626" textLength="30.4" lengthAdjust="spacingAndGlyphs">30</text><text x="1033" y="292.1" text-anchor="start" font-size="24.6" fill="#262626" textLength="30.4" lengthAdjust="spacingAndGlyphs">20</text><text x="1033" y="361.4" text-anchor="start" font-size="24.6" fill="#262626" textLength="30.4" lengthAdjust="spacingAndGlyphs">10</text><text x="1033" y="430.7" text-anchor="start" font-size="24.6" fill="#262626" textLength="15.2" lengthAdjust="spacingAndGlyphs">0</text><text x="1033" y="500.1" text-anchor="start" font-size="24.6" fill="#262626" textLength="38.6" lengthAdjust="spacingAndGlyphs">-10</text><text x="1033" y="569.4" text-anchor="start" font-size="24.6" fill="#262626" textLength="38.6" lengthAdjust="spacingAndGlyphs">-20</text><text x="1033" y="638.7" text-anchor="start" font-size="24.6" fill="#262626" textLength="38.6" lengthAdjust="spacingAndGlyphs">-30</text><text x="1033" y="708.1" text-anchor="start" font-size="24.6" fill="#262626" textLength="38.6" lengthAdjust="spacingAndGlyphs">-40</text><text x="1033" y="777.4" text-anchor="start" font-size="24.6" fill="#262626" textLength="38.6" lengthAdjust="spacingAndGlyphs">-50</text>
</svg>
</body></html>
